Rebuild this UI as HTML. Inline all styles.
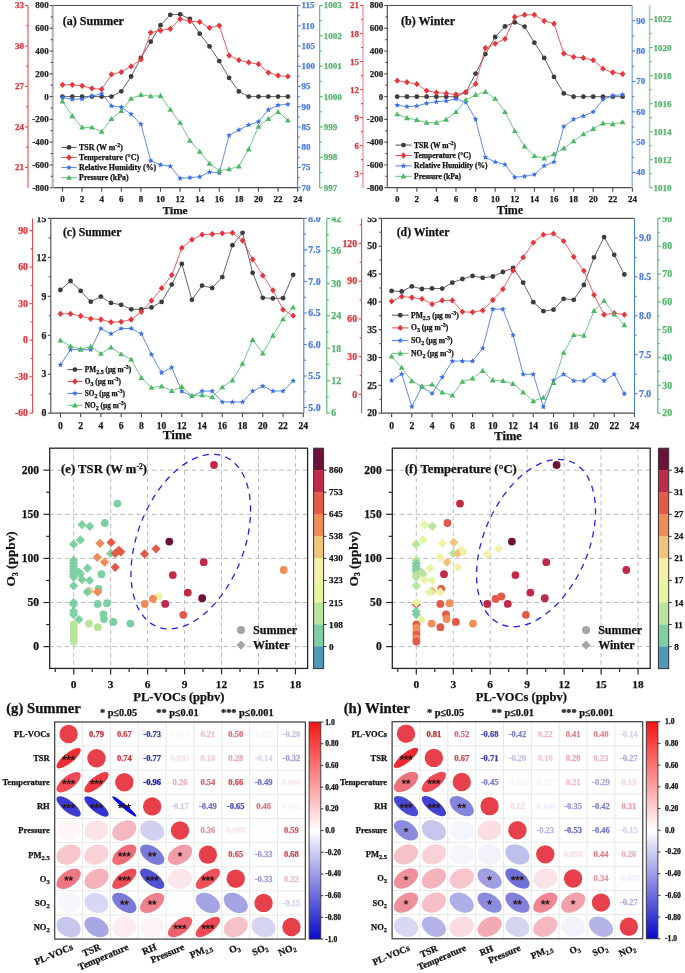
<!DOCTYPE html>
<html><head><meta charset="utf-8"><style>
html,body{margin:0;padding:0;background:#fff;}
svg{display:block;will-change:transform;}
text{font-family:"Liberation Serif",serif;}
</style></head><body>
<svg width="685" height="973" viewBox="0 0 685 973">
<defs><clipPath id="cliptop"><rect x="0" y="217.2" width="685" height="760"/></clipPath></defs>
<rect width="685" height="973" fill="#fff"/>
<polyline points="62.5,96.6 72.3,96.6 82.1,96.6 91.9,96.6 101.7,96.6 111.5,96.6 121.3,91.3 131.1,76.5 140.9,57.9 150.7,41.7 160.5,25.2 170.3,14.8 180.1,14.3 189.9,19 199.7,33.7 209.5,46.4 219.3,61.1 229.1,77.9 238.9,91.4 248.7,96.6 258.5,96.6 268.3,96.6 278.1,96.6 287.9,96.6" fill="none" stroke="#3c3c3c" stroke-width="0.8" stroke-linejoin="round" />
<circle cx="62.5" cy="96.6" r="2.4" fill="#3c3c3c"/>
<circle cx="72.3" cy="96.6" r="2.4" fill="#3c3c3c"/>
<circle cx="82.1" cy="96.6" r="2.4" fill="#3c3c3c"/>
<circle cx="91.9" cy="96.6" r="2.4" fill="#3c3c3c"/>
<circle cx="101.7" cy="96.6" r="2.4" fill="#3c3c3c"/>
<circle cx="111.5" cy="96.6" r="2.4" fill="#3c3c3c"/>
<circle cx="121.3" cy="91.3" r="2.4" fill="#3c3c3c"/>
<circle cx="131.1" cy="76.5" r="2.4" fill="#3c3c3c"/>
<circle cx="140.9" cy="57.9" r="2.4" fill="#3c3c3c"/>
<circle cx="150.7" cy="41.7" r="2.4" fill="#3c3c3c"/>
<circle cx="160.5" cy="25.2" r="2.4" fill="#3c3c3c"/>
<circle cx="170.3" cy="14.8" r="2.4" fill="#3c3c3c"/>
<circle cx="180.1" cy="14.3" r="2.4" fill="#3c3c3c"/>
<circle cx="189.9" cy="19" r="2.4" fill="#3c3c3c"/>
<circle cx="199.7" cy="33.7" r="2.4" fill="#3c3c3c"/>
<circle cx="209.5" cy="46.4" r="2.4" fill="#3c3c3c"/>
<circle cx="219.3" cy="61.1" r="2.4" fill="#3c3c3c"/>
<circle cx="229.1" cy="77.9" r="2.4" fill="#3c3c3c"/>
<circle cx="238.9" cy="91.4" r="2.4" fill="#3c3c3c"/>
<circle cx="248.7" cy="96.6" r="2.4" fill="#3c3c3c"/>
<circle cx="258.5" cy="96.6" r="2.4" fill="#3c3c3c"/>
<circle cx="268.3" cy="96.6" r="2.4" fill="#3c3c3c"/>
<circle cx="278.1" cy="96.6" r="2.4" fill="#3c3c3c"/>
<circle cx="287.9" cy="96.6" r="2.4" fill="#3c3c3c"/>
<polyline points="62.5,84.8 72.3,84.8 82.1,85.8 91.9,88.4 101.7,89.2 111.5,74.4 121.3,72.1 131.1,66.4 140.9,59.4 150.7,32.6 160.5,30.5 170.3,28.8 180.1,19 189.9,21.3 199.7,21.9 209.5,27.8 219.3,25.6 229.1,55.6 238.9,60.1 248.7,62.4 258.5,64.2 268.3,72.6 278.1,75.6 287.9,76.4" fill="none" stroke="#e8353c" stroke-width="0.8" stroke-linejoin="round" />
<path d="M62.5 81.65L65.35 84.8L62.5 87.95L59.65 84.8Z" fill="#e8353c"/>
<path d="M72.3 81.65L75.15 84.8L72.3 87.95L69.45 84.8Z" fill="#e8353c"/>
<path d="M82.1 82.65L84.95 85.8L82.1 88.95L79.25 85.8Z" fill="#e8353c"/>
<path d="M91.9 85.25L94.75 88.4L91.9 91.55L89.05 88.4Z" fill="#e8353c"/>
<path d="M101.7 86.05L104.55 89.2L101.7 92.35L98.85 89.2Z" fill="#e8353c"/>
<path d="M111.5 71.25L114.35 74.4L111.5 77.55L108.65 74.4Z" fill="#e8353c"/>
<path d="M121.3 68.95L124.15 72.1L121.3 75.25L118.45 72.1Z" fill="#e8353c"/>
<path d="M131.1 63.25L133.95 66.4L131.1 69.55L128.25 66.4Z" fill="#e8353c"/>
<path d="M140.9 56.25L143.75 59.4L140.9 62.55L138.05 59.4Z" fill="#e8353c"/>
<path d="M150.7 29.45L153.55 32.6L150.7 35.75L147.85 32.6Z" fill="#e8353c"/>
<path d="M160.5 27.35L163.35 30.5L160.5 33.65L157.65 30.5Z" fill="#e8353c"/>
<path d="M170.3 25.65L173.15 28.8L170.3 31.95L167.45 28.8Z" fill="#e8353c"/>
<path d="M180.1 15.85L182.95 19L180.1 22.15L177.25 19Z" fill="#e8353c"/>
<path d="M189.9 18.15L192.75 21.3L189.9 24.45L187.05 21.3Z" fill="#e8353c"/>
<path d="M199.7 18.75L202.55 21.9L199.7 25.05L196.85 21.9Z" fill="#e8353c"/>
<path d="M209.5 24.65L212.35 27.8L209.5 30.95L206.65 27.8Z" fill="#e8353c"/>
<path d="M219.3 22.45L222.15 25.6L219.3 28.75L216.45 25.6Z" fill="#e8353c"/>
<path d="M229.1 52.45L231.95 55.6L229.1 58.75L226.25 55.6Z" fill="#e8353c"/>
<path d="M238.9 56.95L241.75 60.1L238.9 63.25L236.05 60.1Z" fill="#e8353c"/>
<path d="M248.7 59.25L251.55 62.4L248.7 65.55L245.85 62.4Z" fill="#e8353c"/>
<path d="M258.5 61.05L261.35 64.2L258.5 67.35L255.65 64.2Z" fill="#e8353c"/>
<path d="M268.3 69.45L271.15 72.6L268.3 75.75L265.45 72.6Z" fill="#e8353c"/>
<path d="M278.1 72.45L280.95 75.6L278.1 78.75L275.25 75.6Z" fill="#e8353c"/>
<path d="M287.9 73.25L290.75 76.4L287.9 79.55L285.05 76.4Z" fill="#e8353c"/>
<polyline points="62.5,97.6 72.3,99.5 82.1,99 91.9,96.1 101.7,93.7 111.5,106 121.3,107.1 131.1,114.2 140.9,124.2 150.7,160.7 160.5,164.8 170.3,166.3 180.1,178.3 189.9,177.7 199.7,176.8 209.5,172 219.3,173 229.1,135.4 238.9,129.9 248.7,125 258.5,121.7 268.3,109.8 278.1,105.2 287.9,104.3" fill="none" stroke="#3a6ee6" stroke-width="0.8" stroke-linejoin="round" />
<polygon points="62.5,94.6 63.29,96.51 65.35,96.67 63.78,98.02 64.26,100.03 62.5,98.95 60.74,100.03 61.22,98.02 59.65,96.67 61.71,96.51" fill="#3a6ee6"/>
<polygon points="72.3,96.5 73.09,98.41 75.15,98.57 73.58,99.92 74.06,101.93 72.3,100.85 70.54,101.93 71.02,99.92 69.45,98.57 71.51,98.41" fill="#3a6ee6"/>
<polygon points="82.1,96 82.89,97.91 84.95,98.07 83.38,99.42 83.86,101.43 82.1,100.35 80.34,101.43 80.82,99.42 79.25,98.07 81.31,97.91" fill="#3a6ee6"/>
<polygon points="91.9,93.1 92.69,95.01 94.75,95.17 93.18,96.52 93.66,98.53 91.9,97.45 90.14,98.53 90.62,96.52 89.05,95.17 91.11,95.01" fill="#3a6ee6"/>
<polygon points="101.7,90.7 102.49,92.61 104.55,92.77 102.98,94.12 103.46,96.13 101.7,95.05 99.94,96.13 100.42,94.12 98.85,92.77 100.91,92.61" fill="#3a6ee6"/>
<polygon points="111.5,103 112.29,104.91 114.35,105.07 112.78,106.42 113.26,108.43 111.5,107.35 109.74,108.43 110.22,106.42 108.65,105.07 110.71,104.91" fill="#3a6ee6"/>
<polygon points="121.3,104.1 122.09,106.01 124.15,106.17 122.58,107.52 123.06,109.53 121.3,108.45 119.54,109.53 120.02,107.52 118.45,106.17 120.51,106.01" fill="#3a6ee6"/>
<polygon points="131.1,111.2 131.89,113.11 133.95,113.27 132.38,114.62 132.86,116.63 131.1,115.55 129.34,116.63 129.82,114.62 128.25,113.27 130.31,113.11" fill="#3a6ee6"/>
<polygon points="140.9,121.2 141.69,123.11 143.75,123.27 142.18,124.62 142.66,126.63 140.9,125.55 139.14,126.63 139.62,124.62 138.05,123.27 140.11,123.11" fill="#3a6ee6"/>
<polygon points="150.7,157.7 151.49,159.61 153.55,159.77 151.98,161.12 152.46,163.13 150.7,162.05 148.94,163.13 149.42,161.12 147.85,159.77 149.91,159.61" fill="#3a6ee6"/>
<polygon points="160.5,161.8 161.29,163.71 163.35,163.87 161.78,165.22 162.26,167.23 160.5,166.15 158.74,167.23 159.22,165.22 157.65,163.87 159.71,163.71" fill="#3a6ee6"/>
<polygon points="170.3,163.3 171.09,165.21 173.15,165.37 171.58,166.72 172.06,168.73 170.3,167.65 168.54,168.73 169.02,166.72 167.45,165.37 169.51,165.21" fill="#3a6ee6"/>
<polygon points="180.1,175.3 180.89,177.21 182.95,177.37 181.38,178.72 181.86,180.73 180.1,179.65 178.34,180.73 178.82,178.72 177.25,177.37 179.31,177.21" fill="#3a6ee6"/>
<polygon points="189.9,174.7 190.69,176.61 192.75,176.77 191.18,178.12 191.66,180.13 189.9,179.05 188.14,180.13 188.62,178.12 187.05,176.77 189.11,176.61" fill="#3a6ee6"/>
<polygon points="199.7,173.8 200.49,175.71 202.55,175.87 200.98,177.22 201.46,179.23 199.7,178.15 197.94,179.23 198.42,177.22 196.85,175.87 198.91,175.71" fill="#3a6ee6"/>
<polygon points="209.5,169 210.29,170.91 212.35,171.07 210.78,172.42 211.26,174.43 209.5,173.35 207.74,174.43 208.22,172.42 206.65,171.07 208.71,170.91" fill="#3a6ee6"/>
<polygon points="219.3,170 220.09,171.91 222.15,172.07 220.58,173.42 221.06,175.43 219.3,174.35 217.54,175.43 218.02,173.42 216.45,172.07 218.51,171.91" fill="#3a6ee6"/>
<polygon points="229.1,132.4 229.89,134.31 231.95,134.47 230.38,135.82 230.86,137.83 229.1,136.75 227.34,137.83 227.82,135.82 226.25,134.47 228.31,134.31" fill="#3a6ee6"/>
<polygon points="238.9,126.9 239.69,128.81 241.75,128.97 240.18,130.32 240.66,132.33 238.9,131.25 237.14,132.33 237.62,130.32 236.05,128.97 238.11,128.81" fill="#3a6ee6"/>
<polygon points="248.7,122 249.49,123.91 251.55,124.07 249.98,125.42 250.46,127.43 248.7,126.35 246.94,127.43 247.42,125.42 245.85,124.07 247.91,123.91" fill="#3a6ee6"/>
<polygon points="258.5,118.7 259.29,120.61 261.35,120.77 259.78,122.12 260.26,124.13 258.5,123.05 256.74,124.13 257.22,122.12 255.65,120.77 257.71,120.61" fill="#3a6ee6"/>
<polygon points="268.3,106.8 269.09,108.71 271.15,108.87 269.58,110.22 270.06,112.23 268.3,111.15 266.54,112.23 267.02,110.22 265.45,108.87 267.51,108.71" fill="#3a6ee6"/>
<polygon points="278.1,102.2 278.89,104.11 280.95,104.27 279.38,105.62 279.86,107.63 278.1,106.55 276.34,107.63 276.82,105.62 275.25,104.27 277.31,104.11" fill="#3a6ee6"/>
<polygon points="287.9,101.3 288.69,103.21 290.75,103.37 289.18,104.72 289.66,106.73 287.9,105.65 286.14,106.73 286.62,104.72 285.05,103.37 287.11,103.21" fill="#3a6ee6"/>
<polyline points="62.5,101.4 72.3,116 82.1,127.4 91.9,127.4 101.7,131.6 111.5,118.9 121.3,110.9 131.1,98.6 140.9,94.8 150.7,96.1 160.5,95.8 170.3,109.6 180.1,122.7 189.9,140.7 199.7,151.7 209.5,163.5 219.3,170.7 229.1,169.2 238.9,166.3 248.7,149.3 258.5,126.5 268.3,118.9 278.1,111.9 287.9,120.4" fill="none" stroke="#4cb865" stroke-width="0.8" stroke-linejoin="round" />
<path d="M62.5 98.44L65.4 103.54L59.6 103.54Z" fill="#4cb865"/>
<path d="M72.3 113.04L75.2 118.14L69.4 118.14Z" fill="#4cb865"/>
<path d="M82.1 124.44L85 129.54L79.2 129.54Z" fill="#4cb865"/>
<path d="M91.9 124.44L94.8 129.54L89 129.54Z" fill="#4cb865"/>
<path d="M101.7 128.64L104.6 133.74L98.8 133.74Z" fill="#4cb865"/>
<path d="M111.5 115.94L114.4 121.04L108.6 121.04Z" fill="#4cb865"/>
<path d="M121.3 107.94L124.2 113.04L118.4 113.04Z" fill="#4cb865"/>
<path d="M131.1 95.64L134 100.74L128.2 100.74Z" fill="#4cb865"/>
<path d="M140.9 91.84L143.8 96.94L138 96.94Z" fill="#4cb865"/>
<path d="M150.7 93.14L153.6 98.24L147.8 98.24Z" fill="#4cb865"/>
<path d="M160.5 92.84L163.4 97.94L157.6 97.94Z" fill="#4cb865"/>
<path d="M170.3 106.64L173.2 111.74L167.4 111.74Z" fill="#4cb865"/>
<path d="M180.1 119.74L183 124.84L177.2 124.84Z" fill="#4cb865"/>
<path d="M189.9 137.74L192.8 142.84L187 142.84Z" fill="#4cb865"/>
<path d="M199.7 148.74L202.6 153.84L196.8 153.84Z" fill="#4cb865"/>
<path d="M209.5 160.54L212.4 165.64L206.6 165.64Z" fill="#4cb865"/>
<path d="M219.3 167.74L222.2 172.84L216.4 172.84Z" fill="#4cb865"/>
<path d="M229.1 166.24L232 171.34L226.2 171.34Z" fill="#4cb865"/>
<path d="M238.9 163.34L241.8 168.44L236 168.44Z" fill="#4cb865"/>
<path d="M248.7 146.34L251.6 151.44L245.8 151.44Z" fill="#4cb865"/>
<path d="M258.5 123.54L261.4 128.64L255.6 128.64Z" fill="#4cb865"/>
<path d="M268.3 115.94L271.2 121.04L265.4 121.04Z" fill="#4cb865"/>
<path d="M278.1 108.94L281 114.04L275.2 114.04Z" fill="#4cb865"/>
<path d="M287.9 117.44L290.8 122.54L285 122.54Z" fill="#4cb865"/>
<line x1="52.7" y1="5.5" x2="297.6" y2="5.5" stroke="#4a4a4a" stroke-width="1.2" />
<line x1="52.7" y1="187.7" x2="297.6" y2="187.7" stroke="#4a4a4a" stroke-width="1.2" />
<line x1="62.5" y1="187.7" x2="62.5" y2="191.7" stroke="#4a4a4a" stroke-width="1.1" />
<text x="62.5" y="202.17" font-size="9" fill="#1a1a1a" stroke="#1a1a1a" stroke-width="0.25" text-anchor="middle" font-weight="bold" >0</text>
<line x1="82.1" y1="187.7" x2="82.1" y2="191.7" stroke="#4a4a4a" stroke-width="1.1" />
<text x="82.1" y="202.17" font-size="9" fill="#1a1a1a" stroke="#1a1a1a" stroke-width="0.25" text-anchor="middle" font-weight="bold" >2</text>
<line x1="101.7" y1="187.7" x2="101.7" y2="191.7" stroke="#4a4a4a" stroke-width="1.1" />
<text x="101.7" y="202.17" font-size="9" fill="#1a1a1a" stroke="#1a1a1a" stroke-width="0.25" text-anchor="middle" font-weight="bold" >4</text>
<line x1="121.3" y1="187.7" x2="121.3" y2="191.7" stroke="#4a4a4a" stroke-width="1.1" />
<text x="121.3" y="202.17" font-size="9" fill="#1a1a1a" stroke="#1a1a1a" stroke-width="0.25" text-anchor="middle" font-weight="bold" >6</text>
<line x1="140.9" y1="187.7" x2="140.9" y2="191.7" stroke="#4a4a4a" stroke-width="1.1" />
<text x="140.9" y="202.17" font-size="9" fill="#1a1a1a" stroke="#1a1a1a" stroke-width="0.25" text-anchor="middle" font-weight="bold" >8</text>
<line x1="160.5" y1="187.7" x2="160.5" y2="191.7" stroke="#4a4a4a" stroke-width="1.1" />
<text x="160.5" y="202.17" font-size="9" fill="#1a1a1a" stroke="#1a1a1a" stroke-width="0.25" text-anchor="middle" font-weight="bold" >10</text>
<line x1="180.1" y1="187.7" x2="180.1" y2="191.7" stroke="#4a4a4a" stroke-width="1.1" />
<text x="180.1" y="202.17" font-size="9" fill="#1a1a1a" stroke="#1a1a1a" stroke-width="0.25" text-anchor="middle" font-weight="bold" >12</text>
<line x1="199.7" y1="187.7" x2="199.7" y2="191.7" stroke="#4a4a4a" stroke-width="1.1" />
<text x="199.7" y="202.17" font-size="9" fill="#1a1a1a" stroke="#1a1a1a" stroke-width="0.25" text-anchor="middle" font-weight="bold" >14</text>
<line x1="219.3" y1="187.7" x2="219.3" y2="191.7" stroke="#4a4a4a" stroke-width="1.1" />
<text x="219.3" y="202.17" font-size="9" fill="#1a1a1a" stroke="#1a1a1a" stroke-width="0.25" text-anchor="middle" font-weight="bold" >16</text>
<line x1="238.9" y1="187.7" x2="238.9" y2="191.7" stroke="#4a4a4a" stroke-width="1.1" />
<text x="238.9" y="202.17" font-size="9" fill="#1a1a1a" stroke="#1a1a1a" stroke-width="0.25" text-anchor="middle" font-weight="bold" >18</text>
<line x1="258.5" y1="187.7" x2="258.5" y2="191.7" stroke="#4a4a4a" stroke-width="1.1" />
<text x="258.5" y="202.17" font-size="9" fill="#1a1a1a" stroke="#1a1a1a" stroke-width="0.25" text-anchor="middle" font-weight="bold" >20</text>
<line x1="278.1" y1="187.7" x2="278.1" y2="191.7" stroke="#4a4a4a" stroke-width="1.1" />
<text x="278.1" y="202.17" font-size="9" fill="#1a1a1a" stroke="#1a1a1a" stroke-width="0.25" text-anchor="middle" font-weight="bold" >22</text>
<line x1="297.7" y1="187.7" x2="297.7" y2="191.7" stroke="#4a4a4a" stroke-width="1.1" />
<text x="297.7" y="202.17" font-size="9" fill="#1a1a1a" stroke="#1a1a1a" stroke-width="0.25" text-anchor="middle" font-weight="bold" >24</text>
<text x="175.2" y="214.23" font-size="11.3" fill="#111" stroke="#111" stroke-width="0.25" text-anchor="middle" font-weight="bold" >Time</text>
<text x="62.8" y="24.96" font-size="12" fill="#111" stroke="#111" stroke-width="0.25" text-anchor="start" font-weight="bold" >(a) Summer</text>
<line x1="52.7" y1="5.5" x2="52.7" y2="187.7" stroke="#b2b2b2" stroke-width="2.1" />
<line x1="52.7" y1="5.5" x2="49.7" y2="5.5" stroke="#4a4a4a" stroke-width="1.1" />
<text x="48.7" y="8.47" font-size="9" fill="#222" stroke="#222" stroke-width="0.25" text-anchor="end" font-weight="bold" >800</text>
<line x1="52.7" y1="28.27" x2="49.7" y2="28.27" stroke="#4a4a4a" stroke-width="1.1" />
<text x="48.7" y="31.24" font-size="9" fill="#222" stroke="#222" stroke-width="0.25" text-anchor="end" font-weight="bold" >600</text>
<line x1="52.7" y1="51.05" x2="49.7" y2="51.05" stroke="#4a4a4a" stroke-width="1.1" />
<text x="48.7" y="54.02" font-size="9" fill="#222" stroke="#222" stroke-width="0.25" text-anchor="end" font-weight="bold" >400</text>
<line x1="52.7" y1="73.83" x2="49.7" y2="73.83" stroke="#4a4a4a" stroke-width="1.1" />
<text x="48.7" y="76.8" font-size="9" fill="#222" stroke="#222" stroke-width="0.25" text-anchor="end" font-weight="bold" >200</text>
<line x1="52.7" y1="96.6" x2="49.7" y2="96.6" stroke="#4a4a4a" stroke-width="1.1" />
<text x="48.7" y="99.57" font-size="9" fill="#222" stroke="#222" stroke-width="0.25" text-anchor="end" font-weight="bold" >0</text>
<line x1="52.7" y1="119.38" x2="49.7" y2="119.38" stroke="#4a4a4a" stroke-width="1.1" />
<text x="48.7" y="122.34" font-size="9" fill="#222" stroke="#222" stroke-width="0.25" text-anchor="end" font-weight="bold" >-200</text>
<line x1="52.7" y1="142.15" x2="49.7" y2="142.15" stroke="#4a4a4a" stroke-width="1.1" />
<text x="48.7" y="145.12" font-size="9" fill="#222" stroke="#222" stroke-width="0.25" text-anchor="end" font-weight="bold" >-400</text>
<line x1="52.7" y1="164.92" x2="49.7" y2="164.92" stroke="#4a4a4a" stroke-width="1.1" />
<text x="48.7" y="167.89" font-size="9" fill="#222" stroke="#222" stroke-width="0.25" text-anchor="end" font-weight="bold" >-600</text>
<line x1="52.7" y1="187.7" x2="49.7" y2="187.7" stroke="#4a4a4a" stroke-width="1.1" />
<text x="48.7" y="190.67" font-size="9" fill="#222" stroke="#222" stroke-width="0.25" text-anchor="end" font-weight="bold" >-800</text>
<line x1="52.7" y1="16.89" x2="50.7" y2="16.89" stroke="#4a4a4a" stroke-width="1.1" />
<line x1="52.7" y1="39.66" x2="50.7" y2="39.66" stroke="#4a4a4a" stroke-width="1.1" />
<line x1="52.7" y1="62.44" x2="50.7" y2="62.44" stroke="#4a4a4a" stroke-width="1.1" />
<line x1="52.7" y1="85.21" x2="50.7" y2="85.21" stroke="#4a4a4a" stroke-width="1.1" />
<line x1="52.7" y1="107.99" x2="50.7" y2="107.99" stroke="#4a4a4a" stroke-width="1.1" />
<line x1="52.7" y1="130.76" x2="50.7" y2="130.76" stroke="#4a4a4a" stroke-width="1.1" />
<line x1="52.7" y1="153.54" x2="50.7" y2="153.54" stroke="#4a4a4a" stroke-width="1.1" />
<line x1="52.7" y1="176.31" x2="50.7" y2="176.31" stroke="#4a4a4a" stroke-width="1.1" />
<line x1="28" y1="5.5" x2="28" y2="187.7" stroke="#e5484d" stroke-width="1.1" />
<line x1="28" y1="5.5" x2="25" y2="5.5" stroke="#e5484d" stroke-width="1.1" />
<text x="24" y="8.47" font-size="9" fill="#e0323a" stroke="#e0323a" stroke-width="0.25" text-anchor="end" font-weight="bold" >33</text>
<line x1="28" y1="45.99" x2="25" y2="45.99" stroke="#e5484d" stroke-width="1.1" />
<text x="24" y="48.96" font-size="9" fill="#e0323a" stroke="#e0323a" stroke-width="0.25" text-anchor="end" font-weight="bold" >30</text>
<line x1="28" y1="86.48" x2="25" y2="86.48" stroke="#e5484d" stroke-width="1.1" />
<text x="24" y="89.45" font-size="9" fill="#e0323a" stroke="#e0323a" stroke-width="0.25" text-anchor="end" font-weight="bold" >27</text>
<line x1="28" y1="126.97" x2="25" y2="126.97" stroke="#e5484d" stroke-width="1.1" />
<text x="24" y="129.94" font-size="9" fill="#e0323a" stroke="#e0323a" stroke-width="0.25" text-anchor="end" font-weight="bold" >24</text>
<line x1="28" y1="167.46" x2="25" y2="167.46" stroke="#e5484d" stroke-width="1.1" />
<text x="24" y="170.43" font-size="9" fill="#e0323a" stroke="#e0323a" stroke-width="0.25" text-anchor="end" font-weight="bold" >21</text>
<line x1="28" y1="25.74" x2="26" y2="25.74" stroke="#e5484d" stroke-width="1.1" />
<line x1="28" y1="66.23" x2="26" y2="66.23" stroke="#e5484d" stroke-width="1.1" />
<line x1="28" y1="106.72" x2="26" y2="106.72" stroke="#e5484d" stroke-width="1.1" />
<line x1="28" y1="147.21" x2="26" y2="147.21" stroke="#e5484d" stroke-width="1.1" />
<line x1="297.6" y1="5.5" x2="297.6" y2="187.7" stroke="#4a7be0" stroke-width="1.1" />
<line x1="297.6" y1="5.5" x2="300.6" y2="5.5" stroke="#4a7be0" stroke-width="1.1" />
<text x="301.6" y="8.47" font-size="9" fill="#4a7be0" stroke="#4a7be0" stroke-width="0.25" text-anchor="start" font-weight="bold" >115</text>
<line x1="297.6" y1="25.74" x2="300.6" y2="25.74" stroke="#4a7be0" stroke-width="1.1" />
<text x="301.6" y="28.71" font-size="9" fill="#4a7be0" stroke="#4a7be0" stroke-width="0.25" text-anchor="start" font-weight="bold" >110</text>
<line x1="297.6" y1="45.99" x2="300.6" y2="45.99" stroke="#4a7be0" stroke-width="1.1" />
<text x="301.6" y="48.96" font-size="9" fill="#4a7be0" stroke="#4a7be0" stroke-width="0.25" text-anchor="start" font-weight="bold" >105</text>
<line x1="297.6" y1="66.23" x2="300.6" y2="66.23" stroke="#4a7be0" stroke-width="1.1" />
<text x="301.6" y="69.2" font-size="9" fill="#4a7be0" stroke="#4a7be0" stroke-width="0.25" text-anchor="start" font-weight="bold" >100</text>
<line x1="297.6" y1="86.48" x2="300.6" y2="86.48" stroke="#4a7be0" stroke-width="1.1" />
<text x="301.6" y="89.45" font-size="9" fill="#4a7be0" stroke="#4a7be0" stroke-width="0.25" text-anchor="start" font-weight="bold" >95</text>
<line x1="297.6" y1="106.72" x2="300.6" y2="106.72" stroke="#4a7be0" stroke-width="1.1" />
<text x="301.6" y="109.69" font-size="9" fill="#4a7be0" stroke="#4a7be0" stroke-width="0.25" text-anchor="start" font-weight="bold" >90</text>
<line x1="297.6" y1="126.97" x2="300.6" y2="126.97" stroke="#4a7be0" stroke-width="1.1" />
<text x="301.6" y="129.94" font-size="9" fill="#4a7be0" stroke="#4a7be0" stroke-width="0.25" text-anchor="start" font-weight="bold" >85</text>
<line x1="297.6" y1="147.21" x2="300.6" y2="147.21" stroke="#4a7be0" stroke-width="1.1" />
<text x="301.6" y="150.18" font-size="9" fill="#4a7be0" stroke="#4a7be0" stroke-width="0.25" text-anchor="start" font-weight="bold" >80</text>
<line x1="297.6" y1="167.46" x2="300.6" y2="167.46" stroke="#4a7be0" stroke-width="1.1" />
<text x="301.6" y="170.43" font-size="9" fill="#4a7be0" stroke="#4a7be0" stroke-width="0.25" text-anchor="start" font-weight="bold" >75</text>
<line x1="297.6" y1="187.7" x2="300.6" y2="187.7" stroke="#4a7be0" stroke-width="1.1" />
<text x="301.6" y="190.67" font-size="9" fill="#4a7be0" stroke="#4a7be0" stroke-width="0.25" text-anchor="start" font-weight="bold" >70</text>
<line x1="297.6" y1="15.62" x2="299.6" y2="15.62" stroke="#4a7be0" stroke-width="1.1" />
<line x1="297.6" y1="35.87" x2="299.6" y2="35.87" stroke="#4a7be0" stroke-width="1.1" />
<line x1="297.6" y1="56.11" x2="299.6" y2="56.11" stroke="#4a7be0" stroke-width="1.1" />
<line x1="297.6" y1="76.36" x2="299.6" y2="76.36" stroke="#4a7be0" stroke-width="1.1" />
<line x1="297.6" y1="96.6" x2="299.6" y2="96.6" stroke="#4a7be0" stroke-width="1.1" />
<line x1="297.6" y1="116.84" x2="299.6" y2="116.84" stroke="#4a7be0" stroke-width="1.1" />
<line x1="297.6" y1="137.09" x2="299.6" y2="137.09" stroke="#4a7be0" stroke-width="1.1" />
<line x1="297.6" y1="157.33" x2="299.6" y2="157.33" stroke="#4a7be0" stroke-width="1.1" />
<line x1="297.6" y1="177.58" x2="299.6" y2="177.58" stroke="#4a7be0" stroke-width="1.1" />
<line x1="319.7" y1="5.5" x2="319.7" y2="187.7" stroke="#52b46c" stroke-width="1.1" />
<line x1="319.7" y1="5.5" x2="322.7" y2="5.5" stroke="#52b46c" stroke-width="1.1" />
<text x="323.7" y="8.47" font-size="9" fill="#52b46c" stroke="#52b46c" stroke-width="0.25" text-anchor="start" font-weight="bold" >1003</text>
<line x1="319.7" y1="35.87" x2="322.7" y2="35.87" stroke="#52b46c" stroke-width="1.1" />
<text x="323.7" y="38.84" font-size="9" fill="#52b46c" stroke="#52b46c" stroke-width="0.25" text-anchor="start" font-weight="bold" >1002</text>
<line x1="319.7" y1="66.23" x2="322.7" y2="66.23" stroke="#52b46c" stroke-width="1.1" />
<text x="323.7" y="69.2" font-size="9" fill="#52b46c" stroke="#52b46c" stroke-width="0.25" text-anchor="start" font-weight="bold" >1001</text>
<line x1="319.7" y1="96.6" x2="322.7" y2="96.6" stroke="#52b46c" stroke-width="1.1" />
<text x="323.7" y="99.57" font-size="9" fill="#52b46c" stroke="#52b46c" stroke-width="0.25" text-anchor="start" font-weight="bold" >1000</text>
<line x1="319.7" y1="126.97" x2="322.7" y2="126.97" stroke="#52b46c" stroke-width="1.1" />
<text x="323.7" y="129.94" font-size="9" fill="#52b46c" stroke="#52b46c" stroke-width="0.25" text-anchor="start" font-weight="bold" >999</text>
<line x1="319.7" y1="157.33" x2="322.7" y2="157.33" stroke="#52b46c" stroke-width="1.1" />
<text x="323.7" y="160.3" font-size="9" fill="#52b46c" stroke="#52b46c" stroke-width="0.25" text-anchor="start" font-weight="bold" >998</text>
<line x1="319.7" y1="187.7" x2="322.7" y2="187.7" stroke="#52b46c" stroke-width="1.1" />
<text x="323.7" y="190.67" font-size="9" fill="#52b46c" stroke="#52b46c" stroke-width="0.25" text-anchor="start" font-weight="bold" >997</text>
<line x1="319.7" y1="20.68" x2="321.7" y2="20.68" stroke="#52b46c" stroke-width="1.1" />
<line x1="319.7" y1="51.05" x2="321.7" y2="51.05" stroke="#52b46c" stroke-width="1.1" />
<line x1="319.7" y1="81.42" x2="321.7" y2="81.42" stroke="#52b46c" stroke-width="1.1" />
<line x1="319.7" y1="111.78" x2="321.7" y2="111.78" stroke="#52b46c" stroke-width="1.1" />
<line x1="319.7" y1="142.15" x2="321.7" y2="142.15" stroke="#52b46c" stroke-width="1.1" />
<line x1="319.7" y1="172.52" x2="321.7" y2="172.52" stroke="#52b46c" stroke-width="1.1" />
<line x1="61.4" y1="147.4" x2="76.6" y2="147.4" stroke="#3c3c3c" stroke-width="0.9" />
<circle cx="69" cy="147.4" r="2.4" fill="#3c3c3c"/>
<text x="79.1" y="150.01" font-size="7.9" fill="#111" stroke="#111" stroke-width="0.25" text-anchor="start" font-weight="bold" >TSR (W m<tspan dy="-3" font-size="6">-2</tspan><tspan dy="3">)</tspan></text>
<line x1="61.4" y1="157.5" x2="76.6" y2="157.5" stroke="#e8353c" stroke-width="0.9" />
<path d="M69 154.35L71.85 157.5L69 160.65L66.15 157.5Z" fill="#e8353c"/>
<text x="79.1" y="160.11" font-size="7.9" fill="#111" stroke="#111" stroke-width="0.25" text-anchor="start" font-weight="bold" >Temperature (°C)</text>
<line x1="61.4" y1="167.6" x2="76.6" y2="167.6" stroke="#3a6ee6" stroke-width="0.9" />
<polygon points="69,164.6 69.79,166.51 71.85,166.67 70.28,168.02 70.76,170.03 69,168.95 67.24,170.03 67.72,168.02 66.15,166.67 68.21,166.51" fill="#3a6ee6"/>
<text x="79.1" y="170.21" font-size="7.9" fill="#111" stroke="#111" stroke-width="0.25" text-anchor="start" font-weight="bold" >Relative Humidity (%)</text>
<line x1="61.4" y1="177.7" x2="76.6" y2="177.7" stroke="#4cb865" stroke-width="0.9" />
<path d="M69 174.74L71.9 179.84L66.1 179.84Z" fill="#4cb865"/>
<text x="79.1" y="180.31" font-size="7.9" fill="#111" stroke="#111" stroke-width="0.25" text-anchor="start" font-weight="bold" >Pressure (kPa)</text>
<polyline points="397.2,96.7 407,96.7 416.8,96.7 426.6,96.7 436.4,96.7 446.2,96.7 456,96.7 465.8,92.4 475.6,73.6 485.4,54.1 495.2,37 505,26.4 514.8,22.3 524.6,26.6 534.4,42.7 544.2,57.9 554,76.9 563.8,93.4 573.6,96.7 583.4,96.7 593.2,96.7 603,96.7 612.8,96.7 622.6,96.7" fill="none" stroke="#3c3c3c" stroke-width="0.8" stroke-linejoin="round" />
<circle cx="397.2" cy="96.7" r="2.4" fill="#3c3c3c"/>
<circle cx="407" cy="96.7" r="2.4" fill="#3c3c3c"/>
<circle cx="416.8" cy="96.7" r="2.4" fill="#3c3c3c"/>
<circle cx="426.6" cy="96.7" r="2.4" fill="#3c3c3c"/>
<circle cx="436.4" cy="96.7" r="2.4" fill="#3c3c3c"/>
<circle cx="446.2" cy="96.7" r="2.4" fill="#3c3c3c"/>
<circle cx="456" cy="96.7" r="2.4" fill="#3c3c3c"/>
<circle cx="465.8" cy="92.4" r="2.4" fill="#3c3c3c"/>
<circle cx="475.6" cy="73.6" r="2.4" fill="#3c3c3c"/>
<circle cx="485.4" cy="54.1" r="2.4" fill="#3c3c3c"/>
<circle cx="495.2" cy="37" r="2.4" fill="#3c3c3c"/>
<circle cx="505" cy="26.4" r="2.4" fill="#3c3c3c"/>
<circle cx="514.8" cy="22.3" r="2.4" fill="#3c3c3c"/>
<circle cx="524.6" cy="26.6" r="2.4" fill="#3c3c3c"/>
<circle cx="534.4" cy="42.7" r="2.4" fill="#3c3c3c"/>
<circle cx="544.2" cy="57.9" r="2.4" fill="#3c3c3c"/>
<circle cx="554" cy="76.9" r="2.4" fill="#3c3c3c"/>
<circle cx="563.8" cy="93.4" r="2.4" fill="#3c3c3c"/>
<circle cx="573.6" cy="96.7" r="2.4" fill="#3c3c3c"/>
<circle cx="583.4" cy="96.7" r="2.4" fill="#3c3c3c"/>
<circle cx="593.2" cy="96.7" r="2.4" fill="#3c3c3c"/>
<circle cx="603" cy="96.7" r="2.4" fill="#3c3c3c"/>
<circle cx="612.8" cy="96.7" r="2.4" fill="#3c3c3c"/>
<circle cx="622.6" cy="96.7" r="2.4" fill="#3c3c3c"/>
<polyline points="397.2,80.7 407,82.2 416.8,84.1 426.6,90.7 436.4,92.6 446.2,93.4 456,94.5 465.8,92 475.6,83.9 485.4,48 495.2,43.6 505,38.9 514.8,17 524.6,14.8 534.4,14.8 544.2,20.9 554,23.7 563.8,53.5 573.6,56.9 583.4,57.9 593.2,60.2 603,68.7 612.8,72.5 622.6,74" fill="none" stroke="#e8353c" stroke-width="0.8" stroke-linejoin="round" />
<path d="M397.2 77.55L400.05 80.7L397.2 83.85L394.35 80.7Z" fill="#e8353c"/>
<path d="M407 79.05L409.85 82.2L407 85.35L404.15 82.2Z" fill="#e8353c"/>
<path d="M416.8 80.95L419.65 84.1L416.8 87.25L413.95 84.1Z" fill="#e8353c"/>
<path d="M426.6 87.55L429.45 90.7L426.6 93.85L423.75 90.7Z" fill="#e8353c"/>
<path d="M436.4 89.45L439.25 92.6L436.4 95.75L433.55 92.6Z" fill="#e8353c"/>
<path d="M446.2 90.25L449.05 93.4L446.2 96.55L443.35 93.4Z" fill="#e8353c"/>
<path d="M456 91.35L458.85 94.5L456 97.65L453.15 94.5Z" fill="#e8353c"/>
<path d="M465.8 88.85L468.65 92L465.8 95.15L462.95 92Z" fill="#e8353c"/>
<path d="M475.6 80.75L478.45 83.9L475.6 87.05L472.75 83.9Z" fill="#e8353c"/>
<path d="M485.4 44.85L488.25 48L485.4 51.15L482.55 48Z" fill="#e8353c"/>
<path d="M495.2 40.45L498.05 43.6L495.2 46.75L492.35 43.6Z" fill="#e8353c"/>
<path d="M505 35.75L507.85 38.9L505 42.05L502.15 38.9Z" fill="#e8353c"/>
<path d="M514.8 13.85L517.65 17L514.8 20.15L511.95 17Z" fill="#e8353c"/>
<path d="M524.6 11.65L527.45 14.8L524.6 17.95L521.75 14.8Z" fill="#e8353c"/>
<path d="M534.4 11.65L537.25 14.8L534.4 17.95L531.55 14.8Z" fill="#e8353c"/>
<path d="M544.2 17.75L547.05 20.9L544.2 24.05L541.35 20.9Z" fill="#e8353c"/>
<path d="M554 20.55L556.85 23.7L554 26.85L551.15 23.7Z" fill="#e8353c"/>
<path d="M563.8 50.35L566.65 53.5L563.8 56.65L560.95 53.5Z" fill="#e8353c"/>
<path d="M573.6 53.75L576.45 56.9L573.6 60.05L570.75 56.9Z" fill="#e8353c"/>
<path d="M583.4 54.75L586.25 57.9L583.4 61.05L580.55 57.9Z" fill="#e8353c"/>
<path d="M593.2 57.05L596.05 60.2L593.2 63.35L590.35 60.2Z" fill="#e8353c"/>
<path d="M603 65.55L605.85 68.7L603 71.85L600.15 68.7Z" fill="#e8353c"/>
<path d="M612.8 69.35L615.65 72.5L612.8 75.65L609.95 72.5Z" fill="#e8353c"/>
<path d="M622.6 70.85L625.45 74L622.6 77.15L619.75 74Z" fill="#e8353c"/>
<polyline points="397.2,105.2 407,106.6 416.8,106 426.6,103.3 436.4,101.8 446.2,100.9 456,99 465.8,102.2 475.6,119.3 485.4,157.4 495.2,162 505,164.6 514.8,177.3 524.6,176.4 534.4,174.5 544.2,165.8 554,162 563.8,126.5 573.6,119.3 583.4,116.1 593.2,111.9 603,99.5 612.8,95.7 622.6,94.6" fill="none" stroke="#3a6ee6" stroke-width="0.8" stroke-linejoin="round" />
<polygon points="397.2,102.2 397.99,104.11 400.05,104.27 398.48,105.62 398.96,107.63 397.2,106.55 395.44,107.63 395.92,105.62 394.35,104.27 396.41,104.11" fill="#3a6ee6"/>
<polygon points="407,103.6 407.79,105.51 409.85,105.67 408.28,107.02 408.76,109.03 407,107.95 405.24,109.03 405.72,107.02 404.15,105.67 406.21,105.51" fill="#3a6ee6"/>
<polygon points="416.8,103 417.59,104.91 419.65,105.07 418.08,106.42 418.56,108.43 416.8,107.35 415.04,108.43 415.52,106.42 413.95,105.07 416.01,104.91" fill="#3a6ee6"/>
<polygon points="426.6,100.3 427.39,102.21 429.45,102.37 427.88,103.72 428.36,105.73 426.6,104.65 424.84,105.73 425.32,103.72 423.75,102.37 425.81,102.21" fill="#3a6ee6"/>
<polygon points="436.4,98.8 437.19,100.71 439.25,100.87 437.68,102.22 438.16,104.23 436.4,103.15 434.64,104.23 435.12,102.22 433.55,100.87 435.61,100.71" fill="#3a6ee6"/>
<polygon points="446.2,97.9 446.99,99.81 449.05,99.97 447.48,101.32 447.96,103.33 446.2,102.25 444.44,103.33 444.92,101.32 443.35,99.97 445.41,99.81" fill="#3a6ee6"/>
<polygon points="456,96 456.79,97.91 458.85,98.07 457.28,99.42 457.76,101.43 456,100.35 454.24,101.43 454.72,99.42 453.15,98.07 455.21,97.91" fill="#3a6ee6"/>
<polygon points="465.8,99.2 466.59,101.11 468.65,101.27 467.08,102.62 467.56,104.63 465.8,103.55 464.04,104.63 464.52,102.62 462.95,101.27 465.01,101.11" fill="#3a6ee6"/>
<polygon points="475.6,116.3 476.39,118.21 478.45,118.37 476.88,119.72 477.36,121.73 475.6,120.65 473.84,121.73 474.32,119.72 472.75,118.37 474.81,118.21" fill="#3a6ee6"/>
<polygon points="485.4,154.4 486.19,156.31 488.25,156.47 486.68,157.82 487.16,159.83 485.4,158.75 483.64,159.83 484.12,157.82 482.55,156.47 484.61,156.31" fill="#3a6ee6"/>
<polygon points="495.2,159 495.99,160.91 498.05,161.07 496.48,162.42 496.96,164.43 495.2,163.35 493.44,164.43 493.92,162.42 492.35,161.07 494.41,160.91" fill="#3a6ee6"/>
<polygon points="505,161.6 505.79,163.51 507.85,163.67 506.28,165.02 506.76,167.03 505,165.95 503.24,167.03 503.72,165.02 502.15,163.67 504.21,163.51" fill="#3a6ee6"/>
<polygon points="514.8,174.3 515.59,176.21 517.65,176.37 516.08,177.72 516.56,179.73 514.8,178.65 513.04,179.73 513.52,177.72 511.95,176.37 514.01,176.21" fill="#3a6ee6"/>
<polygon points="524.6,173.4 525.39,175.31 527.45,175.47 525.88,176.82 526.36,178.83 524.6,177.75 522.84,178.83 523.32,176.82 521.75,175.47 523.81,175.31" fill="#3a6ee6"/>
<polygon points="534.4,171.5 535.19,173.41 537.25,173.57 535.68,174.92 536.16,176.93 534.4,175.85 532.64,176.93 533.12,174.92 531.55,173.57 533.61,173.41" fill="#3a6ee6"/>
<polygon points="544.2,162.8 544.99,164.71 547.05,164.87 545.48,166.22 545.96,168.23 544.2,167.15 542.44,168.23 542.92,166.22 541.35,164.87 543.41,164.71" fill="#3a6ee6"/>
<polygon points="554,159 554.79,160.91 556.85,161.07 555.28,162.42 555.76,164.43 554,163.35 552.24,164.43 552.72,162.42 551.15,161.07 553.21,160.91" fill="#3a6ee6"/>
<polygon points="563.8,123.5 564.59,125.41 566.65,125.57 565.08,126.92 565.56,128.93 563.8,127.85 562.04,128.93 562.52,126.92 560.95,125.57 563.01,125.41" fill="#3a6ee6"/>
<polygon points="573.6,116.3 574.39,118.21 576.45,118.37 574.88,119.72 575.36,121.73 573.6,120.65 571.84,121.73 572.32,119.72 570.75,118.37 572.81,118.21" fill="#3a6ee6"/>
<polygon points="583.4,113.1 584.19,115.01 586.25,115.17 584.68,116.52 585.16,118.53 583.4,117.45 581.64,118.53 582.12,116.52 580.55,115.17 582.61,115.01" fill="#3a6ee6"/>
<polygon points="593.2,108.9 593.99,110.81 596.05,110.97 594.48,112.32 594.96,114.33 593.2,113.25 591.44,114.33 591.92,112.32 590.35,110.97 592.41,110.81" fill="#3a6ee6"/>
<polygon points="603,96.5 603.79,98.41 605.85,98.57 604.28,99.92 604.76,101.93 603,100.85 601.24,101.93 601.72,99.92 600.15,98.57 602.21,98.41" fill="#3a6ee6"/>
<polygon points="612.8,92.7 613.59,94.61 615.65,94.77 614.08,96.12 614.56,98.13 612.8,97.05 611.04,98.13 611.52,96.12 609.95,94.77 612.01,94.61" fill="#3a6ee6"/>
<polygon points="622.6,91.6 623.39,93.51 625.45,93.67 623.88,95.02 624.36,97.03 622.6,95.95 620.84,97.03 621.32,95.02 619.75,93.67 621.81,93.51" fill="#3a6ee6"/>
<polyline points="397.2,114.2 407,118 416.8,119.9 426.6,122.7 436.4,122.7 446.2,119.5 456,111.9 465.8,99.9 475.6,94.8 485.4,91.8 495.2,98.6 505,111.9 514.8,130.9 524.6,146.4 534.4,155.9 544.2,158.4 554,154 563.8,148.3 573.6,141.1 583.4,134.1 593.2,128.8 603,123.3 612.8,124 622.6,122.1" fill="none" stroke="#4cb865" stroke-width="0.8" stroke-linejoin="round" />
<path d="M397.2 111.24L400.1 116.34L394.3 116.34Z" fill="#4cb865"/>
<path d="M407 115.04L409.9 120.14L404.1 120.14Z" fill="#4cb865"/>
<path d="M416.8 116.94L419.7 122.04L413.9 122.04Z" fill="#4cb865"/>
<path d="M426.6 119.74L429.5 124.84L423.7 124.84Z" fill="#4cb865"/>
<path d="M436.4 119.74L439.3 124.84L433.5 124.84Z" fill="#4cb865"/>
<path d="M446.2 116.54L449.1 121.64L443.3 121.64Z" fill="#4cb865"/>
<path d="M456 108.94L458.9 114.04L453.1 114.04Z" fill="#4cb865"/>
<path d="M465.8 96.94L468.7 102.04L462.9 102.04Z" fill="#4cb865"/>
<path d="M475.6 91.84L478.5 96.94L472.7 96.94Z" fill="#4cb865"/>
<path d="M485.4 88.84L488.3 93.94L482.5 93.94Z" fill="#4cb865"/>
<path d="M495.2 95.64L498.1 100.74L492.3 100.74Z" fill="#4cb865"/>
<path d="M505 108.94L507.9 114.04L502.1 114.04Z" fill="#4cb865"/>
<path d="M514.8 127.94L517.7 133.04L511.9 133.04Z" fill="#4cb865"/>
<path d="M524.6 143.44L527.5 148.54L521.7 148.54Z" fill="#4cb865"/>
<path d="M534.4 152.94L537.3 158.04L531.5 158.04Z" fill="#4cb865"/>
<path d="M544.2 155.44L547.1 160.54L541.3 160.54Z" fill="#4cb865"/>
<path d="M554 151.04L556.9 156.14L551.1 156.14Z" fill="#4cb865"/>
<path d="M563.8 145.34L566.7 150.44L560.9 150.44Z" fill="#4cb865"/>
<path d="M573.6 138.14L576.5 143.24L570.7 143.24Z" fill="#4cb865"/>
<path d="M583.4 131.14L586.3 136.24L580.5 136.24Z" fill="#4cb865"/>
<path d="M593.2 125.84L596.1 130.94L590.3 130.94Z" fill="#4cb865"/>
<path d="M603 120.34L605.9 125.44L600.1 125.44Z" fill="#4cb865"/>
<path d="M612.8 121.04L615.7 126.14L609.9 126.14Z" fill="#4cb865"/>
<path d="M622.6 119.14L625.5 124.24L619.7 124.24Z" fill="#4cb865"/>
<line x1="387.3" y1="5.5" x2="632.2" y2="5.5" stroke="#4a4a4a" stroke-width="1.2" />
<line x1="387.3" y1="187.7" x2="632.2" y2="187.7" stroke="#4a4a4a" stroke-width="1.2" />
<line x1="397.2" y1="187.7" x2="397.2" y2="191.7" stroke="#4a4a4a" stroke-width="1.1" />
<text x="397.2" y="202.17" font-size="9" fill="#1a1a1a" stroke="#1a1a1a" stroke-width="0.25" text-anchor="middle" font-weight="bold" >0</text>
<line x1="416.8" y1="187.7" x2="416.8" y2="191.7" stroke="#4a4a4a" stroke-width="1.1" />
<text x="416.8" y="202.17" font-size="9" fill="#1a1a1a" stroke="#1a1a1a" stroke-width="0.25" text-anchor="middle" font-weight="bold" >2</text>
<line x1="436.4" y1="187.7" x2="436.4" y2="191.7" stroke="#4a4a4a" stroke-width="1.1" />
<text x="436.4" y="202.17" font-size="9" fill="#1a1a1a" stroke="#1a1a1a" stroke-width="0.25" text-anchor="middle" font-weight="bold" >4</text>
<line x1="456" y1="187.7" x2="456" y2="191.7" stroke="#4a4a4a" stroke-width="1.1" />
<text x="456" y="202.17" font-size="9" fill="#1a1a1a" stroke="#1a1a1a" stroke-width="0.25" text-anchor="middle" font-weight="bold" >6</text>
<line x1="475.6" y1="187.7" x2="475.6" y2="191.7" stroke="#4a4a4a" stroke-width="1.1" />
<text x="475.6" y="202.17" font-size="9" fill="#1a1a1a" stroke="#1a1a1a" stroke-width="0.25" text-anchor="middle" font-weight="bold" >8</text>
<line x1="495.2" y1="187.7" x2="495.2" y2="191.7" stroke="#4a4a4a" stroke-width="1.1" />
<text x="495.2" y="202.17" font-size="9" fill="#1a1a1a" stroke="#1a1a1a" stroke-width="0.25" text-anchor="middle" font-weight="bold" >10</text>
<line x1="514.8" y1="187.7" x2="514.8" y2="191.7" stroke="#4a4a4a" stroke-width="1.1" />
<text x="514.8" y="202.17" font-size="9" fill="#1a1a1a" stroke="#1a1a1a" stroke-width="0.25" text-anchor="middle" font-weight="bold" >12</text>
<line x1="534.4" y1="187.7" x2="534.4" y2="191.7" stroke="#4a4a4a" stroke-width="1.1" />
<text x="534.4" y="202.17" font-size="9" fill="#1a1a1a" stroke="#1a1a1a" stroke-width="0.25" text-anchor="middle" font-weight="bold" >14</text>
<line x1="554" y1="187.7" x2="554" y2="191.7" stroke="#4a4a4a" stroke-width="1.1" />
<text x="554" y="202.17" font-size="9" fill="#1a1a1a" stroke="#1a1a1a" stroke-width="0.25" text-anchor="middle" font-weight="bold" >16</text>
<line x1="573.6" y1="187.7" x2="573.6" y2="191.7" stroke="#4a4a4a" stroke-width="1.1" />
<text x="573.6" y="202.17" font-size="9" fill="#1a1a1a" stroke="#1a1a1a" stroke-width="0.25" text-anchor="middle" font-weight="bold" >18</text>
<line x1="593.2" y1="187.7" x2="593.2" y2="191.7" stroke="#4a4a4a" stroke-width="1.1" />
<text x="593.2" y="202.17" font-size="9" fill="#1a1a1a" stroke="#1a1a1a" stroke-width="0.25" text-anchor="middle" font-weight="bold" >20</text>
<line x1="612.8" y1="187.7" x2="612.8" y2="191.7" stroke="#4a4a4a" stroke-width="1.1" />
<text x="612.8" y="202.17" font-size="9" fill="#1a1a1a" stroke="#1a1a1a" stroke-width="0.25" text-anchor="middle" font-weight="bold" >22</text>
<line x1="632.4" y1="187.7" x2="632.4" y2="191.7" stroke="#4a4a4a" stroke-width="1.1" />
<text x="632.4" y="202.17" font-size="9" fill="#1a1a1a" stroke="#1a1a1a" stroke-width="0.25" text-anchor="middle" font-weight="bold" >24</text>
<text x="509.9" y="214.06" font-size="12" fill="#111" stroke="#111" stroke-width="0.25" text-anchor="middle" font-weight="bold" >Time</text>
<text x="401.1" y="24.96" font-size="12" fill="#111" stroke="#111" stroke-width="0.25" text-anchor="start" font-weight="bold" >(b) Winter</text>
<line x1="387.3" y1="5.5" x2="387.3" y2="187.7" stroke="#4a4a4a" stroke-width="1.1" />
<line x1="387.3" y1="5.5" x2="384.3" y2="5.5" stroke="#4a4a4a" stroke-width="1.1" />
<text x="383.3" y="8.47" font-size="9" fill="#222" stroke="#222" stroke-width="0.25" text-anchor="end" font-weight="bold" >800</text>
<line x1="387.3" y1="28.27" x2="384.3" y2="28.27" stroke="#4a4a4a" stroke-width="1.1" />
<text x="383.3" y="31.24" font-size="9" fill="#222" stroke="#222" stroke-width="0.25" text-anchor="end" font-weight="bold" >600</text>
<line x1="387.3" y1="51.05" x2="384.3" y2="51.05" stroke="#4a4a4a" stroke-width="1.1" />
<text x="383.3" y="54.02" font-size="9" fill="#222" stroke="#222" stroke-width="0.25" text-anchor="end" font-weight="bold" >400</text>
<line x1="387.3" y1="73.83" x2="384.3" y2="73.83" stroke="#4a4a4a" stroke-width="1.1" />
<text x="383.3" y="76.8" font-size="9" fill="#222" stroke="#222" stroke-width="0.25" text-anchor="end" font-weight="bold" >200</text>
<line x1="387.3" y1="96.6" x2="384.3" y2="96.6" stroke="#4a4a4a" stroke-width="1.1" />
<text x="383.3" y="99.57" font-size="9" fill="#222" stroke="#222" stroke-width="0.25" text-anchor="end" font-weight="bold" >0</text>
<line x1="387.3" y1="119.38" x2="384.3" y2="119.38" stroke="#4a4a4a" stroke-width="1.1" />
<text x="383.3" y="122.34" font-size="9" fill="#222" stroke="#222" stroke-width="0.25" text-anchor="end" font-weight="bold" >-200</text>
<line x1="387.3" y1="142.15" x2="384.3" y2="142.15" stroke="#4a4a4a" stroke-width="1.1" />
<text x="383.3" y="145.12" font-size="9" fill="#222" stroke="#222" stroke-width="0.25" text-anchor="end" font-weight="bold" >-400</text>
<line x1="387.3" y1="164.92" x2="384.3" y2="164.92" stroke="#4a4a4a" stroke-width="1.1" />
<text x="383.3" y="167.89" font-size="9" fill="#222" stroke="#222" stroke-width="0.25" text-anchor="end" font-weight="bold" >-600</text>
<line x1="387.3" y1="187.7" x2="384.3" y2="187.7" stroke="#4a4a4a" stroke-width="1.1" />
<text x="383.3" y="190.67" font-size="9" fill="#222" stroke="#222" stroke-width="0.25" text-anchor="end" font-weight="bold" >-800</text>
<line x1="387.3" y1="16.89" x2="385.3" y2="16.89" stroke="#4a4a4a" stroke-width="1.1" />
<line x1="387.3" y1="39.66" x2="385.3" y2="39.66" stroke="#4a4a4a" stroke-width="1.1" />
<line x1="387.3" y1="62.44" x2="385.3" y2="62.44" stroke="#4a4a4a" stroke-width="1.1" />
<line x1="387.3" y1="85.21" x2="385.3" y2="85.21" stroke="#4a4a4a" stroke-width="1.1" />
<line x1="387.3" y1="107.99" x2="385.3" y2="107.99" stroke="#4a4a4a" stroke-width="1.1" />
<line x1="387.3" y1="130.76" x2="385.3" y2="130.76" stroke="#4a4a4a" stroke-width="1.1" />
<line x1="387.3" y1="153.54" x2="385.3" y2="153.54" stroke="#4a4a4a" stroke-width="1.1" />
<line x1="387.3" y1="176.31" x2="385.3" y2="176.31" stroke="#4a4a4a" stroke-width="1.1" />
<line x1="363" y1="5.5" x2="363" y2="187.7" stroke="#f2a0a6" stroke-width="1.5" />
<line x1="363" y1="5.5" x2="360" y2="5.5" stroke="#e5484d" stroke-width="1.1" />
<text x="359" y="8.47" font-size="9" fill="#e0323a" stroke="#e0323a" stroke-width="0.25" text-anchor="end" font-weight="bold" >21</text>
<line x1="363" y1="33.53" x2="360" y2="33.53" stroke="#e5484d" stroke-width="1.1" />
<text x="359" y="36.5" font-size="9" fill="#e0323a" stroke="#e0323a" stroke-width="0.25" text-anchor="end" font-weight="bold" >18</text>
<line x1="363" y1="61.56" x2="360" y2="61.56" stroke="#e5484d" stroke-width="1.1" />
<text x="359" y="64.53" font-size="9" fill="#e0323a" stroke="#e0323a" stroke-width="0.25" text-anchor="end" font-weight="bold" >15</text>
<line x1="363" y1="89.59" x2="360" y2="89.59" stroke="#e5484d" stroke-width="1.1" />
<text x="359" y="92.56" font-size="9" fill="#e0323a" stroke="#e0323a" stroke-width="0.25" text-anchor="end" font-weight="bold" >12</text>
<line x1="363" y1="117.62" x2="360" y2="117.62" stroke="#e5484d" stroke-width="1.1" />
<text x="359" y="120.59" font-size="9" fill="#e0323a" stroke="#e0323a" stroke-width="0.25" text-anchor="end" font-weight="bold" >9</text>
<line x1="363" y1="145.65" x2="360" y2="145.65" stroke="#e5484d" stroke-width="1.1" />
<text x="359" y="148.62" font-size="9" fill="#e0323a" stroke="#e0323a" stroke-width="0.25" text-anchor="end" font-weight="bold" >6</text>
<line x1="363" y1="173.68" x2="360" y2="173.68" stroke="#e5484d" stroke-width="1.1" />
<text x="359" y="176.65" font-size="9" fill="#e0323a" stroke="#e0323a" stroke-width="0.25" text-anchor="end" font-weight="bold" >3</text>
<line x1="363" y1="19.52" x2="361" y2="19.52" stroke="#e5484d" stroke-width="1.1" />
<line x1="363" y1="47.55" x2="361" y2="47.55" stroke="#e5484d" stroke-width="1.1" />
<line x1="363" y1="75.58" x2="361" y2="75.58" stroke="#e5484d" stroke-width="1.1" />
<line x1="363" y1="103.61" x2="361" y2="103.61" stroke="#e5484d" stroke-width="1.1" />
<line x1="363" y1="131.64" x2="361" y2="131.64" stroke="#e5484d" stroke-width="1.1" />
<line x1="363" y1="159.67" x2="361" y2="159.67" stroke="#e5484d" stroke-width="1.1" />
<line x1="632.2" y1="5.5" x2="632.2" y2="187.7" stroke="#9ab8f2" stroke-width="1.6" />
<line x1="632.2" y1="20.68" x2="635.2" y2="20.68" stroke="#4a7be0" stroke-width="1.1" />
<text x="636.2" y="23.65" font-size="9" fill="#4a7be0" stroke="#4a7be0" stroke-width="0.25" text-anchor="start" font-weight="bold" >90</text>
<line x1="632.2" y1="51.05" x2="635.2" y2="51.05" stroke="#4a7be0" stroke-width="1.1" />
<text x="636.2" y="54.02" font-size="9" fill="#4a7be0" stroke="#4a7be0" stroke-width="0.25" text-anchor="start" font-weight="bold" >80</text>
<line x1="632.2" y1="81.42" x2="635.2" y2="81.42" stroke="#4a7be0" stroke-width="1.1" />
<text x="636.2" y="84.39" font-size="9" fill="#4a7be0" stroke="#4a7be0" stroke-width="0.25" text-anchor="start" font-weight="bold" >70</text>
<line x1="632.2" y1="111.78" x2="635.2" y2="111.78" stroke="#4a7be0" stroke-width="1.1" />
<text x="636.2" y="114.75" font-size="9" fill="#4a7be0" stroke="#4a7be0" stroke-width="0.25" text-anchor="start" font-weight="bold" >60</text>
<line x1="632.2" y1="142.15" x2="635.2" y2="142.15" stroke="#4a7be0" stroke-width="1.1" />
<text x="636.2" y="145.12" font-size="9" fill="#4a7be0" stroke="#4a7be0" stroke-width="0.25" text-anchor="start" font-weight="bold" >50</text>
<line x1="632.2" y1="172.52" x2="635.2" y2="172.52" stroke="#4a7be0" stroke-width="1.1" />
<text x="636.2" y="175.49" font-size="9" fill="#4a7be0" stroke="#4a7be0" stroke-width="0.25" text-anchor="start" font-weight="bold" >40</text>
<line x1="632.2" y1="35.87" x2="634.2" y2="35.87" stroke="#4a7be0" stroke-width="1.1" />
<line x1="632.2" y1="66.23" x2="634.2" y2="66.23" stroke="#4a7be0" stroke-width="1.1" />
<line x1="632.2" y1="96.6" x2="634.2" y2="96.6" stroke="#4a7be0" stroke-width="1.1" />
<line x1="632.2" y1="126.97" x2="634.2" y2="126.97" stroke="#4a7be0" stroke-width="1.1" />
<line x1="632.2" y1="157.33" x2="634.2" y2="157.33" stroke="#4a7be0" stroke-width="1.1" />
<line x1="649.6" y1="5.5" x2="649.6" y2="187.7" stroke="#9ed4aa" stroke-width="1.6" />
<line x1="649.6" y1="19.52" x2="652.6" y2="19.52" stroke="#52b46c" stroke-width="1.1" />
<text x="653.6" y="22.49" font-size="9" fill="#52b46c" stroke="#52b46c" stroke-width="0.25" text-anchor="start" font-weight="bold" >1022</text>
<line x1="649.6" y1="47.55" x2="652.6" y2="47.55" stroke="#52b46c" stroke-width="1.1" />
<text x="653.6" y="50.52" font-size="9" fill="#52b46c" stroke="#52b46c" stroke-width="0.25" text-anchor="start" font-weight="bold" >1020</text>
<line x1="649.6" y1="75.58" x2="652.6" y2="75.58" stroke="#52b46c" stroke-width="1.1" />
<text x="653.6" y="78.55" font-size="9" fill="#52b46c" stroke="#52b46c" stroke-width="0.25" text-anchor="start" font-weight="bold" >1018</text>
<line x1="649.6" y1="103.61" x2="652.6" y2="103.61" stroke="#52b46c" stroke-width="1.1" />
<text x="653.6" y="106.58" font-size="9" fill="#52b46c" stroke="#52b46c" stroke-width="0.25" text-anchor="start" font-weight="bold" >1016</text>
<line x1="649.6" y1="131.64" x2="652.6" y2="131.64" stroke="#52b46c" stroke-width="1.1" />
<text x="653.6" y="134.61" font-size="9" fill="#52b46c" stroke="#52b46c" stroke-width="0.25" text-anchor="start" font-weight="bold" >1014</text>
<line x1="649.6" y1="159.67" x2="652.6" y2="159.67" stroke="#52b46c" stroke-width="1.1" />
<text x="653.6" y="162.64" font-size="9" fill="#52b46c" stroke="#52b46c" stroke-width="0.25" text-anchor="start" font-weight="bold" >1012</text>
<line x1="649.6" y1="187.7" x2="652.6" y2="187.7" stroke="#52b46c" stroke-width="1.1" />
<text x="653.6" y="190.67" font-size="9" fill="#52b46c" stroke="#52b46c" stroke-width="0.25" text-anchor="start" font-weight="bold" >1010</text>
<line x1="649.6" y1="33.53" x2="651.6" y2="33.53" stroke="#52b46c" stroke-width="1.1" />
<line x1="649.6" y1="61.56" x2="651.6" y2="61.56" stroke="#52b46c" stroke-width="1.1" />
<line x1="649.6" y1="89.59" x2="651.6" y2="89.59" stroke="#52b46c" stroke-width="1.1" />
<line x1="649.6" y1="117.62" x2="651.6" y2="117.62" stroke="#52b46c" stroke-width="1.1" />
<line x1="649.6" y1="145.65" x2="651.6" y2="145.65" stroke="#52b46c" stroke-width="1.1" />
<line x1="649.6" y1="173.68" x2="651.6" y2="173.68" stroke="#52b46c" stroke-width="1.1" />
<line x1="395.4" y1="145.1" x2="411.6" y2="145.1" stroke="#3c3c3c" stroke-width="0.9" />
<circle cx="403.5" cy="145.1" r="2.4" fill="#3c3c3c"/>
<text x="414.1" y="147.57" font-size="7.5" fill="#111" stroke="#111" stroke-width="0.25" text-anchor="start" font-weight="bold" >TSR (W m<tspan dy="-3" font-size="6">-2</tspan><tspan dy="3">)</tspan></text>
<line x1="395.4" y1="155.5" x2="411.6" y2="155.5" stroke="#e8353c" stroke-width="0.9" />
<path d="M403.5 152.35L406.35 155.5L403.5 158.65L400.65 155.5Z" fill="#e8353c"/>
<text x="414.1" y="157.97" font-size="7.5" fill="#111" stroke="#111" stroke-width="0.25" text-anchor="start" font-weight="bold" >Temperature (°C)</text>
<line x1="395.4" y1="165.9" x2="411.6" y2="165.9" stroke="#3a6ee6" stroke-width="0.9" />
<polygon points="403.5,162.9 404.29,164.81 406.35,164.97 404.78,166.32 405.26,168.33 403.5,167.25 401.74,168.33 402.22,166.32 400.65,164.97 402.71,164.81" fill="#3a6ee6"/>
<text x="414.1" y="168.38" font-size="7.5" fill="#111" stroke="#111" stroke-width="0.25" text-anchor="start" font-weight="bold" >Relative Humidity (%)</text>
<line x1="395.4" y1="176.3" x2="411.6" y2="176.3" stroke="#4cb865" stroke-width="0.9" />
<path d="M403.5 173.34L406.4 178.44L400.6 178.44Z" fill="#4cb865"/>
<text x="414.1" y="178.78" font-size="7.5" fill="#111" stroke="#111" stroke-width="0.25" text-anchor="start" font-weight="bold" >Pressure (kPa)</text>
<g clip-path="url(#cliptop)">
<polyline points="60.4,290 70.52,281 80.64,290.9 90.76,301.7 100.88,296.6 111,302.9 121.12,304.8 131.24,309.3 141.36,309.3 151.48,307.4 161.6,301.9 171.72,284.6 181.84,263.9 191.96,299.8 202.08,285.6 212.2,288 222.32,277.1 232.44,245.2 242.56,232.8 252.68,272.8 262.8,297.8 272.92,298.4 283.04,298.2 293.16,274.8" fill="none" stroke="#3c3c3c" stroke-width="0.8" stroke-linejoin="round" />
<circle cx="60.4" cy="290" r="2.4" fill="#3c3c3c"/>
<circle cx="70.52" cy="281" r="2.4" fill="#3c3c3c"/>
<circle cx="80.64" cy="290.9" r="2.4" fill="#3c3c3c"/>
<circle cx="90.76" cy="301.7" r="2.4" fill="#3c3c3c"/>
<circle cx="100.88" cy="296.6" r="2.4" fill="#3c3c3c"/>
<circle cx="111" cy="302.9" r="2.4" fill="#3c3c3c"/>
<circle cx="121.12" cy="304.8" r="2.4" fill="#3c3c3c"/>
<circle cx="131.24" cy="309.3" r="2.4" fill="#3c3c3c"/>
<circle cx="141.36" cy="309.3" r="2.4" fill="#3c3c3c"/>
<circle cx="151.48" cy="307.4" r="2.4" fill="#3c3c3c"/>
<circle cx="161.6" cy="301.9" r="2.4" fill="#3c3c3c"/>
<circle cx="171.72" cy="284.6" r="2.4" fill="#3c3c3c"/>
<circle cx="181.84" cy="263.9" r="2.4" fill="#3c3c3c"/>
<circle cx="191.96" cy="299.8" r="2.4" fill="#3c3c3c"/>
<circle cx="202.08" cy="285.6" r="2.4" fill="#3c3c3c"/>
<circle cx="212.2" cy="288" r="2.4" fill="#3c3c3c"/>
<circle cx="222.32" cy="277.1" r="2.4" fill="#3c3c3c"/>
<circle cx="232.44" cy="245.2" r="2.4" fill="#3c3c3c"/>
<circle cx="242.56" cy="232.8" r="2.4" fill="#3c3c3c"/>
<circle cx="252.68" cy="272.8" r="2.4" fill="#3c3c3c"/>
<circle cx="262.8" cy="297.8" r="2.4" fill="#3c3c3c"/>
<circle cx="272.92" cy="298.4" r="2.4" fill="#3c3c3c"/>
<circle cx="283.04" cy="298.2" r="2.4" fill="#3c3c3c"/>
<circle cx="293.16" cy="274.8" r="2.4" fill="#3c3c3c"/>
<polyline points="60.4,313.8 70.52,313.8 80.64,316 90.76,318.8 100.88,319.5 111,322.2 121.12,321.8 131.24,319.5 141.36,311.8 151.48,300.7 161.6,288.2 171.72,275.1 181.84,247.9 191.96,239.7 202.08,234.7 212.2,234.1 222.32,233.3 232.44,232.8 242.56,240.6 252.68,259.4 262.8,275.6 272.92,290.3 283.04,309.6 293.16,315.7" fill="none" stroke="#e8353c" stroke-width="0.8" stroke-linejoin="round" />
<path d="M60.4 310.65L63.25 313.8L60.4 316.95L57.55 313.8Z" fill="#e8353c"/>
<path d="M70.52 310.65L73.37 313.8L70.52 316.95L67.67 313.8Z" fill="#e8353c"/>
<path d="M80.64 312.85L83.49 316L80.64 319.15L77.79 316Z" fill="#e8353c"/>
<path d="M90.76 315.65L93.61 318.8L90.76 321.95L87.91 318.8Z" fill="#e8353c"/>
<path d="M100.88 316.35L103.73 319.5L100.88 322.65L98.03 319.5Z" fill="#e8353c"/>
<path d="M111 319.05L113.85 322.2L111 325.35L108.15 322.2Z" fill="#e8353c"/>
<path d="M121.12 318.65L123.97 321.8L121.12 324.95L118.27 321.8Z" fill="#e8353c"/>
<path d="M131.24 316.35L134.09 319.5L131.24 322.65L128.39 319.5Z" fill="#e8353c"/>
<path d="M141.36 308.65L144.21 311.8L141.36 314.95L138.51 311.8Z" fill="#e8353c"/>
<path d="M151.48 297.55L154.33 300.7L151.48 303.85L148.63 300.7Z" fill="#e8353c"/>
<path d="M161.6 285.05L164.45 288.2L161.6 291.35L158.75 288.2Z" fill="#e8353c"/>
<path d="M171.72 271.95L174.57 275.1L171.72 278.25L168.87 275.1Z" fill="#e8353c"/>
<path d="M181.84 244.75L184.69 247.9L181.84 251.05L178.99 247.9Z" fill="#e8353c"/>
<path d="M191.96 236.55L194.81 239.7L191.96 242.85L189.11 239.7Z" fill="#e8353c"/>
<path d="M202.08 231.55L204.93 234.7L202.08 237.85L199.23 234.7Z" fill="#e8353c"/>
<path d="M212.2 230.95L215.05 234.1L212.2 237.25L209.35 234.1Z" fill="#e8353c"/>
<path d="M222.32 230.15L225.17 233.3L222.32 236.45L219.47 233.3Z" fill="#e8353c"/>
<path d="M232.44 229.65L235.29 232.8L232.44 235.95L229.59 232.8Z" fill="#e8353c"/>
<path d="M242.56 237.45L245.41 240.6L242.56 243.75L239.71 240.6Z" fill="#e8353c"/>
<path d="M252.68 256.25L255.53 259.4L252.68 262.55L249.83 259.4Z" fill="#e8353c"/>
<path d="M262.8 272.45L265.65 275.6L262.8 278.75L259.95 275.6Z" fill="#e8353c"/>
<path d="M272.92 287.15L275.77 290.3L272.92 293.45L270.07 290.3Z" fill="#e8353c"/>
<path d="M283.04 306.45L285.89 309.6L283.04 312.75L280.19 309.6Z" fill="#e8353c"/>
<path d="M293.16 312.55L296.01 315.7L293.16 318.85L290.31 315.7Z" fill="#e8353c"/>
<polyline points="60.4,364.9 70.52,349.7 80.64,349.7 90.76,349.7 100.88,328.5 111,333.8 121.12,328.5 131.24,328.5 141.36,333.8 151.48,354.5 161.6,372.7 171.72,367.5 181.84,391.3 191.96,396.2 202.08,391.1 212.2,391.1 222.32,402 232.44,402 242.56,402 252.68,391.1 262.8,386.2 272.92,391.1 283.04,391.1 293.16,380.9" fill="none" stroke="#3a6ee6" stroke-width="0.8" stroke-linejoin="round" />
<polygon points="60.4,361.9 61.19,363.81 63.25,363.97 61.68,365.32 62.16,367.33 60.4,366.25 58.64,367.33 59.12,365.32 57.55,363.97 59.61,363.81" fill="#3a6ee6"/>
<polygon points="70.52,346.7 71.31,348.61 73.37,348.77 71.8,350.12 72.28,352.13 70.52,351.05 68.76,352.13 69.24,350.12 67.67,348.77 69.73,348.61" fill="#3a6ee6"/>
<polygon points="80.64,346.7 81.43,348.61 83.49,348.77 81.92,350.12 82.4,352.13 80.64,351.05 78.88,352.13 79.36,350.12 77.79,348.77 79.85,348.61" fill="#3a6ee6"/>
<polygon points="90.76,346.7 91.55,348.61 93.61,348.77 92.04,350.12 92.52,352.13 90.76,351.05 89,352.13 89.48,350.12 87.91,348.77 89.97,348.61" fill="#3a6ee6"/>
<polygon points="100.88,325.5 101.67,327.41 103.73,327.57 102.16,328.92 102.64,330.93 100.88,329.85 99.12,330.93 99.6,328.92 98.03,327.57 100.09,327.41" fill="#3a6ee6"/>
<polygon points="111,330.8 111.79,332.71 113.85,332.87 112.28,334.22 112.76,336.23 111,335.15 109.24,336.23 109.72,334.22 108.15,332.87 110.21,332.71" fill="#3a6ee6"/>
<polygon points="121.12,325.5 121.91,327.41 123.97,327.57 122.4,328.92 122.88,330.93 121.12,329.85 119.36,330.93 119.84,328.92 118.27,327.57 120.33,327.41" fill="#3a6ee6"/>
<polygon points="131.24,325.5 132.03,327.41 134.09,327.57 132.52,328.92 133,330.93 131.24,329.85 129.48,330.93 129.96,328.92 128.39,327.57 130.45,327.41" fill="#3a6ee6"/>
<polygon points="141.36,330.8 142.15,332.71 144.21,332.87 142.64,334.22 143.12,336.23 141.36,335.15 139.6,336.23 140.08,334.22 138.51,332.87 140.57,332.71" fill="#3a6ee6"/>
<polygon points="151.48,351.5 152.27,353.41 154.33,353.57 152.76,354.92 153.24,356.93 151.48,355.85 149.72,356.93 150.2,354.92 148.63,353.57 150.69,353.41" fill="#3a6ee6"/>
<polygon points="161.6,369.7 162.39,371.61 164.45,371.77 162.88,373.12 163.36,375.13 161.6,374.05 159.84,375.13 160.32,373.12 158.75,371.77 160.81,371.61" fill="#3a6ee6"/>
<polygon points="171.72,364.5 172.51,366.41 174.57,366.57 173,367.92 173.48,369.93 171.72,368.85 169.96,369.93 170.44,367.92 168.87,366.57 170.93,366.41" fill="#3a6ee6"/>
<polygon points="181.84,388.3 182.63,390.21 184.69,390.37 183.12,391.72 183.6,393.73 181.84,392.65 180.08,393.73 180.56,391.72 178.99,390.37 181.05,390.21" fill="#3a6ee6"/>
<polygon points="191.96,393.2 192.75,395.11 194.81,395.27 193.24,396.62 193.72,398.63 191.96,397.55 190.2,398.63 190.68,396.62 189.11,395.27 191.17,395.11" fill="#3a6ee6"/>
<polygon points="202.08,388.1 202.87,390.01 204.93,390.17 203.36,391.52 203.84,393.53 202.08,392.45 200.32,393.53 200.8,391.52 199.23,390.17 201.29,390.01" fill="#3a6ee6"/>
<polygon points="212.2,388.1 212.99,390.01 215.05,390.17 213.48,391.52 213.96,393.53 212.2,392.45 210.44,393.53 210.92,391.52 209.35,390.17 211.41,390.01" fill="#3a6ee6"/>
<polygon points="222.32,399 223.11,400.91 225.17,401.07 223.6,402.42 224.08,404.43 222.32,403.35 220.56,404.43 221.04,402.42 219.47,401.07 221.53,400.91" fill="#3a6ee6"/>
<polygon points="232.44,399 233.23,400.91 235.29,401.07 233.72,402.42 234.2,404.43 232.44,403.35 230.68,404.43 231.16,402.42 229.59,401.07 231.65,400.91" fill="#3a6ee6"/>
<polygon points="242.56,399 243.35,400.91 245.41,401.07 243.84,402.42 244.32,404.43 242.56,403.35 240.8,404.43 241.28,402.42 239.71,401.07 241.77,400.91" fill="#3a6ee6"/>
<polygon points="252.68,388.1 253.47,390.01 255.53,390.17 253.96,391.52 254.44,393.53 252.68,392.45 250.92,393.53 251.4,391.52 249.83,390.17 251.89,390.01" fill="#3a6ee6"/>
<polygon points="262.8,383.2 263.59,385.11 265.65,385.27 264.08,386.62 264.56,388.63 262.8,387.55 261.04,388.63 261.52,386.62 259.95,385.27 262.01,385.11" fill="#3a6ee6"/>
<polygon points="272.92,388.1 273.71,390.01 275.77,390.17 274.2,391.52 274.68,393.53 272.92,392.45 271.16,393.53 271.64,391.52 270.07,390.17 272.13,390.01" fill="#3a6ee6"/>
<polygon points="283.04,388.1 283.83,390.01 285.89,390.17 284.32,391.52 284.8,393.53 283.04,392.45 281.28,393.53 281.76,391.52 280.19,390.17 282.25,390.01" fill="#3a6ee6"/>
<polygon points="293.16,377.9 293.95,379.81 296.01,379.97 294.44,381.32 294.92,383.33 293.16,382.25 291.4,383.33 291.88,381.32 290.31,379.97 292.37,379.81" fill="#3a6ee6"/>
<polyline points="60.4,340.4 70.52,346.1 80.64,349.3 90.76,346.5 100.88,353.7 111,347.4 121.12,354.1 131.24,359.4 141.36,377.8 151.48,387.7 161.6,386.3 171.72,390.9 181.84,386.8 191.96,395.7 202.08,395.1 212.2,397.2 222.32,387.2 232.44,380.3 242.56,363.7 252.68,339.8 262.8,353.3 272.92,335.5 283.04,319.1 293.16,307.3" fill="none" stroke="#4cb865" stroke-width="0.8" stroke-linejoin="round" />
<path d="M60.4 337.44L63.3 342.54L57.5 342.54Z" fill="#4cb865"/>
<path d="M70.52 343.14L73.42 348.24L67.62 348.24Z" fill="#4cb865"/>
<path d="M80.64 346.34L83.54 351.44L77.74 351.44Z" fill="#4cb865"/>
<path d="M90.76 343.54L93.66 348.64L87.86 348.64Z" fill="#4cb865"/>
<path d="M100.88 350.74L103.78 355.84L97.98 355.84Z" fill="#4cb865"/>
<path d="M111 344.44L113.9 349.54L108.1 349.54Z" fill="#4cb865"/>
<path d="M121.12 351.14L124.02 356.24L118.22 356.24Z" fill="#4cb865"/>
<path d="M131.24 356.44L134.14 361.54L128.34 361.54Z" fill="#4cb865"/>
<path d="M141.36 374.84L144.26 379.94L138.46 379.94Z" fill="#4cb865"/>
<path d="M151.48 384.74L154.38 389.84L148.58 389.84Z" fill="#4cb865"/>
<path d="M161.6 383.34L164.5 388.44L158.7 388.44Z" fill="#4cb865"/>
<path d="M171.72 387.94L174.62 393.04L168.82 393.04Z" fill="#4cb865"/>
<path d="M181.84 383.84L184.74 388.94L178.94 388.94Z" fill="#4cb865"/>
<path d="M191.96 392.74L194.86 397.84L189.06 397.84Z" fill="#4cb865"/>
<path d="M202.08 392.14L204.98 397.24L199.18 397.24Z" fill="#4cb865"/>
<path d="M212.2 394.24L215.1 399.34L209.3 399.34Z" fill="#4cb865"/>
<path d="M222.32 384.24L225.22 389.34L219.42 389.34Z" fill="#4cb865"/>
<path d="M232.44 377.34L235.34 382.44L229.54 382.44Z" fill="#4cb865"/>
<path d="M242.56 360.74L245.46 365.84L239.66 365.84Z" fill="#4cb865"/>
<path d="M252.68 336.84L255.58 341.94L249.78 341.94Z" fill="#4cb865"/>
<path d="M262.8 350.34L265.7 355.44L259.9 355.44Z" fill="#4cb865"/>
<path d="M272.92 332.54L275.82 337.64L270.02 337.64Z" fill="#4cb865"/>
<path d="M283.04 316.14L285.94 321.24L280.14 321.24Z" fill="#4cb865"/>
<path d="M293.16 304.34L296.06 309.44L290.26 309.44Z" fill="#4cb865"/>
<line x1="50.8" y1="218.4" x2="303.8" y2="218.4" stroke="#4a4a4a" stroke-width="1.2" />
<line x1="50.8" y1="413.2" x2="303.8" y2="413.2" stroke="#4a4a4a" stroke-width="1.2" />
<line x1="60.4" y1="413.2" x2="60.4" y2="417.2" stroke="#4a4a4a" stroke-width="1.1" />
<text x="60.4" y="428.67" font-size="9.6" fill="#1a1a1a" stroke="#1a1a1a" stroke-width="0.25" text-anchor="middle" font-weight="bold" >0</text>
<line x1="80.64" y1="413.2" x2="80.64" y2="417.2" stroke="#4a4a4a" stroke-width="1.1" />
<text x="80.64" y="428.67" font-size="9.6" fill="#1a1a1a" stroke="#1a1a1a" stroke-width="0.25" text-anchor="middle" font-weight="bold" >2</text>
<line x1="100.88" y1="413.2" x2="100.88" y2="417.2" stroke="#4a4a4a" stroke-width="1.1" />
<text x="100.88" y="428.67" font-size="9.6" fill="#1a1a1a" stroke="#1a1a1a" stroke-width="0.25" text-anchor="middle" font-weight="bold" >4</text>
<line x1="121.12" y1="413.2" x2="121.12" y2="417.2" stroke="#4a4a4a" stroke-width="1.1" />
<text x="121.12" y="428.67" font-size="9.6" fill="#1a1a1a" stroke="#1a1a1a" stroke-width="0.25" text-anchor="middle" font-weight="bold" >6</text>
<line x1="141.36" y1="413.2" x2="141.36" y2="417.2" stroke="#4a4a4a" stroke-width="1.1" />
<text x="141.36" y="428.67" font-size="9.6" fill="#1a1a1a" stroke="#1a1a1a" stroke-width="0.25" text-anchor="middle" font-weight="bold" >8</text>
<line x1="161.6" y1="413.2" x2="161.6" y2="417.2" stroke="#4a4a4a" stroke-width="1.1" />
<text x="161.6" y="428.67" font-size="9.6" fill="#1a1a1a" stroke="#1a1a1a" stroke-width="0.25" text-anchor="middle" font-weight="bold" >10</text>
<line x1="181.84" y1="413.2" x2="181.84" y2="417.2" stroke="#4a4a4a" stroke-width="1.1" />
<text x="181.84" y="428.67" font-size="9.6" fill="#1a1a1a" stroke="#1a1a1a" stroke-width="0.25" text-anchor="middle" font-weight="bold" >12</text>
<line x1="202.08" y1="413.2" x2="202.08" y2="417.2" stroke="#4a4a4a" stroke-width="1.1" />
<text x="202.08" y="428.67" font-size="9.6" fill="#1a1a1a" stroke="#1a1a1a" stroke-width="0.25" text-anchor="middle" font-weight="bold" >14</text>
<line x1="222.32" y1="413.2" x2="222.32" y2="417.2" stroke="#4a4a4a" stroke-width="1.1" />
<text x="222.32" y="428.67" font-size="9.6" fill="#1a1a1a" stroke="#1a1a1a" stroke-width="0.25" text-anchor="middle" font-weight="bold" >16</text>
<line x1="242.56" y1="413.2" x2="242.56" y2="417.2" stroke="#4a4a4a" stroke-width="1.1" />
<text x="242.56" y="428.67" font-size="9.6" fill="#1a1a1a" stroke="#1a1a1a" stroke-width="0.25" text-anchor="middle" font-weight="bold" >18</text>
<line x1="262.8" y1="413.2" x2="262.8" y2="417.2" stroke="#4a4a4a" stroke-width="1.1" />
<text x="262.8" y="428.67" font-size="9.6" fill="#1a1a1a" stroke="#1a1a1a" stroke-width="0.25" text-anchor="middle" font-weight="bold" >20</text>
<line x1="283.04" y1="413.2" x2="283.04" y2="417.2" stroke="#4a4a4a" stroke-width="1.1" />
<text x="283.04" y="428.67" font-size="9.6" fill="#1a1a1a" stroke="#1a1a1a" stroke-width="0.25" text-anchor="middle" font-weight="bold" >22</text>
<line x1="303.28" y1="413.2" x2="303.28" y2="417.2" stroke="#4a4a4a" stroke-width="1.1" />
<text x="303.28" y="428.67" font-size="9.6" fill="#1a1a1a" stroke="#1a1a1a" stroke-width="0.25" text-anchor="middle" font-weight="bold" >24</text>
<text x="177.2" y="439.19" font-size="13" fill="#111" stroke="#111" stroke-width="0.25" text-anchor="middle" font-weight="bold" >Time</text>
<text x="62.9" y="236.04" font-size="11.65" fill="#111" stroke="#111" stroke-width="0.25" text-anchor="start" font-weight="bold" >(c) Summer</text>
<line x1="50.8" y1="218.4" x2="50.8" y2="413.2" stroke="#4a4a4a" stroke-width="1.1" />
<line x1="50.8" y1="218.4" x2="47.8" y2="218.4" stroke="#4a4a4a" stroke-width="1.1" />
<text x="46.3" y="221.63" font-size="9.8" fill="#222" stroke="#222" stroke-width="0.25" text-anchor="end" font-weight="bold" >15</text>
<line x1="50.8" y1="257.36" x2="47.8" y2="257.36" stroke="#4a4a4a" stroke-width="1.1" />
<text x="46.3" y="260.59" font-size="9.8" fill="#222" stroke="#222" stroke-width="0.25" text-anchor="end" font-weight="bold" >12</text>
<line x1="50.8" y1="296.32" x2="47.8" y2="296.32" stroke="#4a4a4a" stroke-width="1.1" />
<text x="46.3" y="299.55" font-size="9.8" fill="#222" stroke="#222" stroke-width="0.25" text-anchor="end" font-weight="bold" >9</text>
<line x1="50.8" y1="335.28" x2="47.8" y2="335.28" stroke="#4a4a4a" stroke-width="1.1" />
<text x="46.3" y="338.51" font-size="9.8" fill="#222" stroke="#222" stroke-width="0.25" text-anchor="end" font-weight="bold" >6</text>
<line x1="50.8" y1="374.24" x2="47.8" y2="374.24" stroke="#4a4a4a" stroke-width="1.1" />
<text x="46.3" y="377.47" font-size="9.8" fill="#222" stroke="#222" stroke-width="0.25" text-anchor="end" font-weight="bold" >3</text>
<line x1="50.8" y1="413.2" x2="47.8" y2="413.2" stroke="#4a4a4a" stroke-width="1.1" />
<text x="46.3" y="416.43" font-size="9.8" fill="#222" stroke="#222" stroke-width="0.25" text-anchor="end" font-weight="bold" >0</text>
<line x1="50.8" y1="237.88" x2="48.8" y2="237.88" stroke="#4a4a4a" stroke-width="1.1" />
<line x1="50.8" y1="276.84" x2="48.8" y2="276.84" stroke="#4a4a4a" stroke-width="1.1" />
<line x1="50.8" y1="315.8" x2="48.8" y2="315.8" stroke="#4a4a4a" stroke-width="1.1" />
<line x1="50.8" y1="354.76" x2="48.8" y2="354.76" stroke="#4a4a4a" stroke-width="1.1" />
<line x1="50.8" y1="393.72" x2="48.8" y2="393.72" stroke="#4a4a4a" stroke-width="1.1" />
<line x1="32.5" y1="218.4" x2="32.5" y2="413.2" stroke="#e5484d" stroke-width="1.1" />
<line x1="32.5" y1="230.58" x2="29.5" y2="230.58" stroke="#e5484d" stroke-width="1.1" />
<text x="28" y="233.81" font-size="9.8" fill="#e0323a" stroke="#e0323a" stroke-width="0.25" text-anchor="end" font-weight="bold" >90</text>
<line x1="32.5" y1="267.1" x2="29.5" y2="267.1" stroke="#e5484d" stroke-width="1.1" />
<text x="28" y="270.33" font-size="9.8" fill="#e0323a" stroke="#e0323a" stroke-width="0.25" text-anchor="end" font-weight="bold" >60</text>
<line x1="32.5" y1="303.62" x2="29.5" y2="303.62" stroke="#e5484d" stroke-width="1.1" />
<text x="28" y="306.86" font-size="9.8" fill="#e0323a" stroke="#e0323a" stroke-width="0.25" text-anchor="end" font-weight="bold" >30</text>
<line x1="32.5" y1="340.15" x2="29.5" y2="340.15" stroke="#e5484d" stroke-width="1.1" />
<text x="28" y="343.38" font-size="9.8" fill="#e0323a" stroke="#e0323a" stroke-width="0.25" text-anchor="end" font-weight="bold" >0</text>
<line x1="32.5" y1="376.67" x2="29.5" y2="376.67" stroke="#e5484d" stroke-width="1.1" />
<text x="28" y="379.91" font-size="9.8" fill="#e0323a" stroke="#e0323a" stroke-width="0.25" text-anchor="end" font-weight="bold" >-30</text>
<line x1="32.5" y1="413.2" x2="29.5" y2="413.2" stroke="#e5484d" stroke-width="1.1" />
<text x="28" y="416.43" font-size="9.8" fill="#e0323a" stroke="#e0323a" stroke-width="0.25" text-anchor="end" font-weight="bold" >-60</text>
<line x1="32.5" y1="248.84" x2="30.5" y2="248.84" stroke="#e5484d" stroke-width="1.1" />
<line x1="32.5" y1="285.36" x2="30.5" y2="285.36" stroke="#e5484d" stroke-width="1.1" />
<line x1="32.5" y1="321.89" x2="30.5" y2="321.89" stroke="#e5484d" stroke-width="1.1" />
<line x1="32.5" y1="358.41" x2="30.5" y2="358.41" stroke="#e5484d" stroke-width="1.1" />
<line x1="32.5" y1="394.94" x2="30.5" y2="394.94" stroke="#e5484d" stroke-width="1.1" />
<line x1="303.8" y1="218.4" x2="303.8" y2="413.2" stroke="#4a7be0" stroke-width="1.1" />
<line x1="303.8" y1="218.4" x2="306.8" y2="218.4" stroke="#4a7be0" stroke-width="1.1" />
<text x="308.3" y="221.63" font-size="9.8" fill="#4a7be0" stroke="#4a7be0" stroke-width="0.25" text-anchor="start" font-weight="bold" >8.0</text>
<line x1="303.8" y1="249.92" x2="306.8" y2="249.92" stroke="#4a7be0" stroke-width="1.1" />
<text x="308.3" y="253.16" font-size="9.8" fill="#4a7be0" stroke="#4a7be0" stroke-width="0.25" text-anchor="start" font-weight="bold" >7.5</text>
<line x1="303.8" y1="281.44" x2="306.8" y2="281.44" stroke="#4a7be0" stroke-width="1.1" />
<text x="308.3" y="284.68" font-size="9.8" fill="#4a7be0" stroke="#4a7be0" stroke-width="0.25" text-anchor="start" font-weight="bold" >7.0</text>
<line x1="303.8" y1="312.96" x2="306.8" y2="312.96" stroke="#4a7be0" stroke-width="1.1" />
<text x="308.3" y="316.2" font-size="9.8" fill="#4a7be0" stroke="#4a7be0" stroke-width="0.25" text-anchor="start" font-weight="bold" >6.5</text>
<line x1="303.8" y1="344.48" x2="306.8" y2="344.48" stroke="#4a7be0" stroke-width="1.1" />
<text x="308.3" y="347.72" font-size="9.8" fill="#4a7be0" stroke="#4a7be0" stroke-width="0.25" text-anchor="start" font-weight="bold" >6.0</text>
<line x1="303.8" y1="376.01" x2="306.8" y2="376.01" stroke="#4a7be0" stroke-width="1.1" />
<text x="308.3" y="379.24" font-size="9.8" fill="#4a7be0" stroke="#4a7be0" stroke-width="0.25" text-anchor="start" font-weight="bold" >5.5</text>
<line x1="303.8" y1="407.53" x2="306.8" y2="407.53" stroke="#4a7be0" stroke-width="1.1" />
<text x="308.3" y="410.76" font-size="9.8" fill="#4a7be0" stroke="#4a7be0" stroke-width="0.25" text-anchor="start" font-weight="bold" >5.0</text>
<line x1="303.8" y1="234.16" x2="305.8" y2="234.16" stroke="#4a7be0" stroke-width="1.1" />
<line x1="303.8" y1="265.68" x2="305.8" y2="265.68" stroke="#4a7be0" stroke-width="1.1" />
<line x1="303.8" y1="297.2" x2="305.8" y2="297.2" stroke="#4a7be0" stroke-width="1.1" />
<line x1="303.8" y1="328.72" x2="305.8" y2="328.72" stroke="#4a7be0" stroke-width="1.1" />
<line x1="303.8" y1="360.24" x2="305.8" y2="360.24" stroke="#4a7be0" stroke-width="1.1" />
<line x1="303.8" y1="391.77" x2="305.8" y2="391.77" stroke="#4a7be0" stroke-width="1.1" />
<line x1="326.8" y1="218.4" x2="326.8" y2="413.2" stroke="#52b46c" stroke-width="1.1" />
<line x1="326.8" y1="218.4" x2="329.8" y2="218.4" stroke="#52b46c" stroke-width="1.1" />
<text x="331.3" y="221.63" font-size="9.8" fill="#52b46c" stroke="#52b46c" stroke-width="0.25" text-anchor="start" font-weight="bold" >42</text>
<line x1="326.8" y1="250.87" x2="329.8" y2="250.87" stroke="#52b46c" stroke-width="1.1" />
<text x="331.3" y="254.1" font-size="9.8" fill="#52b46c" stroke="#52b46c" stroke-width="0.25" text-anchor="start" font-weight="bold" >36</text>
<line x1="326.8" y1="283.33" x2="329.8" y2="283.33" stroke="#52b46c" stroke-width="1.1" />
<text x="331.3" y="286.57" font-size="9.8" fill="#52b46c" stroke="#52b46c" stroke-width="0.25" text-anchor="start" font-weight="bold" >30</text>
<line x1="326.8" y1="315.8" x2="329.8" y2="315.8" stroke="#52b46c" stroke-width="1.1" />
<text x="331.3" y="319.03" font-size="9.8" fill="#52b46c" stroke="#52b46c" stroke-width="0.25" text-anchor="start" font-weight="bold" >24</text>
<line x1="326.8" y1="348.27" x2="329.8" y2="348.27" stroke="#52b46c" stroke-width="1.1" />
<text x="331.3" y="351.5" font-size="9.8" fill="#52b46c" stroke="#52b46c" stroke-width="0.25" text-anchor="start" font-weight="bold" >18</text>
<line x1="326.8" y1="380.73" x2="329.8" y2="380.73" stroke="#52b46c" stroke-width="1.1" />
<text x="331.3" y="383.97" font-size="9.8" fill="#52b46c" stroke="#52b46c" stroke-width="0.25" text-anchor="start" font-weight="bold" >12</text>
<line x1="326.8" y1="413.2" x2="329.8" y2="413.2" stroke="#52b46c" stroke-width="1.1" />
<text x="331.3" y="416.43" font-size="9.8" fill="#52b46c" stroke="#52b46c" stroke-width="0.25" text-anchor="start" font-weight="bold" >6</text>
<line x1="326.8" y1="234.63" x2="328.8" y2="234.63" stroke="#52b46c" stroke-width="1.1" />
<line x1="326.8" y1="267.1" x2="328.8" y2="267.1" stroke="#52b46c" stroke-width="1.1" />
<line x1="326.8" y1="299.57" x2="328.8" y2="299.57" stroke="#52b46c" stroke-width="1.1" />
<line x1="326.8" y1="332.03" x2="328.8" y2="332.03" stroke="#52b46c" stroke-width="1.1" />
<line x1="326.8" y1="364.5" x2="328.8" y2="364.5" stroke="#52b46c" stroke-width="1.1" />
<line x1="326.8" y1="396.97" x2="328.8" y2="396.97" stroke="#52b46c" stroke-width="1.1" />
<line x1="67.5" y1="369.6" x2="82.3" y2="369.6" stroke="#3c3c3c" stroke-width="0.9" />
<circle cx="74.9" cy="369.6" r="2.4" fill="#3c3c3c"/>
<text x="84.8" y="372.01" font-size="7.3" fill="#111" stroke="#111" stroke-width="0.25" text-anchor="start" font-weight="bold" >PM<tspan dy="2" font-size="6">2.5</tspan><tspan dy="-2"> (µg m<tspan dy="-3" font-size="6">-3</tspan><tspan dy="3">)</tspan></tspan></text>
<line x1="67.5" y1="381.5" x2="82.3" y2="381.5" stroke="#e8353c" stroke-width="0.9" />
<path d="M74.9 378.35L77.75 381.5L74.9 384.65L72.05 381.5Z" fill="#e8353c"/>
<text x="84.8" y="383.91" font-size="7.3" fill="#111" stroke="#111" stroke-width="0.25" text-anchor="start" font-weight="bold" >O<tspan dy="2" font-size="6">3</tspan><tspan dy="-2"> (µg m<tspan dy="-3" font-size="6">-3</tspan><tspan dy="3">)</tspan></tspan></text>
<line x1="67.5" y1="393.4" x2="82.3" y2="393.4" stroke="#3a6ee6" stroke-width="0.9" />
<polygon points="74.9,390.4 75.69,392.31 77.75,392.47 76.18,393.82 76.66,395.83 74.9,394.75 73.14,395.83 73.62,393.82 72.05,392.47 74.11,392.31" fill="#3a6ee6"/>
<text x="84.8" y="395.81" font-size="7.3" fill="#111" stroke="#111" stroke-width="0.25" text-anchor="start" font-weight="bold" >SO<tspan dy="2" font-size="6">2</tspan><tspan dy="-2"> (µg m<tspan dy="-3" font-size="6">-3</tspan><tspan dy="3">)</tspan></tspan></text>
<line x1="67.5" y1="405.3" x2="82.3" y2="405.3" stroke="#4cb865" stroke-width="0.9" />
<path d="M74.9 402.34L77.8 407.44L72 407.44Z" fill="#4cb865"/>
<text x="84.8" y="407.71" font-size="7.3" fill="#111" stroke="#111" stroke-width="0.25" text-anchor="start" font-weight="bold" >NO<tspan dy="2" font-size="6">2</tspan><tspan dy="-2"> (µg m<tspan dy="-3" font-size="6">-3</tspan><tspan dy="3">)</tspan></tspan></text>
<polyline points="391.6,290.9 401.72,291.5 411.84,286.4 421.96,289 432.08,288.4 442.2,288.6 452.32,282.7 462.44,279 472.56,275.9 482.68,277.8 492.8,276.5 502.92,272 513.04,267.9 523.16,282.7 533.28,302.2 543.4,311.2 553.52,309.7 563.64,298.8 573.76,299.8 583.88,285 594,257.4 604.12,237.1 614.24,254.8 624.36,274.5" fill="none" stroke="#3c3c3c" stroke-width="0.8" stroke-linejoin="round" />
<circle cx="391.6" cy="290.9" r="2.4" fill="#3c3c3c"/>
<circle cx="401.72" cy="291.5" r="2.4" fill="#3c3c3c"/>
<circle cx="411.84" cy="286.4" r="2.4" fill="#3c3c3c"/>
<circle cx="421.96" cy="289" r="2.4" fill="#3c3c3c"/>
<circle cx="432.08" cy="288.4" r="2.4" fill="#3c3c3c"/>
<circle cx="442.2" cy="288.6" r="2.4" fill="#3c3c3c"/>
<circle cx="452.32" cy="282.7" r="2.4" fill="#3c3c3c"/>
<circle cx="462.44" cy="279" r="2.4" fill="#3c3c3c"/>
<circle cx="472.56" cy="275.9" r="2.4" fill="#3c3c3c"/>
<circle cx="482.68" cy="277.8" r="2.4" fill="#3c3c3c"/>
<circle cx="492.8" cy="276.5" r="2.4" fill="#3c3c3c"/>
<circle cx="502.92" cy="272" r="2.4" fill="#3c3c3c"/>
<circle cx="513.04" cy="267.9" r="2.4" fill="#3c3c3c"/>
<circle cx="523.16" cy="282.7" r="2.4" fill="#3c3c3c"/>
<circle cx="533.28" cy="302.2" r="2.4" fill="#3c3c3c"/>
<circle cx="543.4" cy="311.2" r="2.4" fill="#3c3c3c"/>
<circle cx="553.52" cy="309.7" r="2.4" fill="#3c3c3c"/>
<circle cx="563.64" cy="298.8" r="2.4" fill="#3c3c3c"/>
<circle cx="573.76" cy="299.8" r="2.4" fill="#3c3c3c"/>
<circle cx="583.88" cy="285" r="2.4" fill="#3c3c3c"/>
<circle cx="594" cy="257.4" r="2.4" fill="#3c3c3c"/>
<circle cx="604.12" cy="237.1" r="2.4" fill="#3c3c3c"/>
<circle cx="614.24" cy="254.8" r="2.4" fill="#3c3c3c"/>
<circle cx="624.36" cy="274.5" r="2.4" fill="#3c3c3c"/>
<polyline points="391.6,301.3 401.72,296.6 411.84,297.5 421.96,298.9 432.08,304.2 442.2,300.4 452.32,300.4 462.44,311.8 472.56,312.2 482.68,310.4 492.8,300 502.92,289.2 513.04,270.6 523.16,257.4 533.28,242.6 543.4,234.7 553.52,233.7 563.64,241.2 573.76,256.8 583.88,270.8 594,294.9 604.12,314.7 614.24,313.2 624.36,314.7" fill="none" stroke="#e8353c" stroke-width="0.8" stroke-linejoin="round" />
<path d="M391.6 298.15L394.45 301.3L391.6 304.45L388.75 301.3Z" fill="#e8353c"/>
<path d="M401.72 293.45L404.57 296.6L401.72 299.75L398.87 296.6Z" fill="#e8353c"/>
<path d="M411.84 294.35L414.69 297.5L411.84 300.65L408.99 297.5Z" fill="#e8353c"/>
<path d="M421.96 295.75L424.81 298.9L421.96 302.05L419.11 298.9Z" fill="#e8353c"/>
<path d="M432.08 301.05L434.93 304.2L432.08 307.35L429.23 304.2Z" fill="#e8353c"/>
<path d="M442.2 297.25L445.05 300.4L442.2 303.55L439.35 300.4Z" fill="#e8353c"/>
<path d="M452.32 297.25L455.17 300.4L452.32 303.55L449.47 300.4Z" fill="#e8353c"/>
<path d="M462.44 308.65L465.29 311.8L462.44 314.95L459.59 311.8Z" fill="#e8353c"/>
<path d="M472.56 309.05L475.41 312.2L472.56 315.35L469.71 312.2Z" fill="#e8353c"/>
<path d="M482.68 307.25L485.53 310.4L482.68 313.55L479.83 310.4Z" fill="#e8353c"/>
<path d="M492.8 296.85L495.65 300L492.8 303.15L489.95 300Z" fill="#e8353c"/>
<path d="M502.92 286.05L505.77 289.2L502.92 292.35L500.07 289.2Z" fill="#e8353c"/>
<path d="M513.04 267.45L515.89 270.6L513.04 273.75L510.19 270.6Z" fill="#e8353c"/>
<path d="M523.16 254.25L526.01 257.4L523.16 260.55L520.31 257.4Z" fill="#e8353c"/>
<path d="M533.28 239.45L536.13 242.6L533.28 245.75L530.43 242.6Z" fill="#e8353c"/>
<path d="M543.4 231.55L546.25 234.7L543.4 237.85L540.55 234.7Z" fill="#e8353c"/>
<path d="M553.52 230.55L556.37 233.7L553.52 236.85L550.67 233.7Z" fill="#e8353c"/>
<path d="M563.64 238.05L566.49 241.2L563.64 244.35L560.79 241.2Z" fill="#e8353c"/>
<path d="M573.76 253.65L576.61 256.8L573.76 259.95L570.91 256.8Z" fill="#e8353c"/>
<path d="M583.88 267.65L586.73 270.8L583.88 273.95L581.03 270.8Z" fill="#e8353c"/>
<path d="M594 291.75L596.85 294.9L594 298.05L591.15 294.9Z" fill="#e8353c"/>
<path d="M604.12 311.55L606.97 314.7L604.12 317.85L601.27 314.7Z" fill="#e8353c"/>
<path d="M614.24 310.05L617.09 313.2L614.24 316.35L611.39 313.2Z" fill="#e8353c"/>
<path d="M624.36 311.55L627.21 314.7L624.36 317.85L621.51 314.7Z" fill="#e8353c"/>
<polyline points="391.6,380.6 401.72,374 411.84,406.6 421.96,386.7 432.08,393.5 442.2,377.2 452.32,361.1 462.44,361.1 472.56,361.1 482.68,348.4 492.8,309.2 502.92,309.2 513.04,335.1 523.16,374.3 533.28,374.3 543.4,406.8 553.52,380.5 563.64,374.3 573.76,380.8 583.88,380.8 594,374.3 604.12,380.8 614.24,374.3 624.36,393.8" fill="none" stroke="#3a6ee6" stroke-width="0.8" stroke-linejoin="round" />
<polygon points="391.6,377.6 392.39,379.51 394.45,379.67 392.88,381.02 393.36,383.03 391.6,381.95 389.84,383.03 390.32,381.02 388.75,379.67 390.81,379.51" fill="#3a6ee6"/>
<polygon points="401.72,371 402.51,372.91 404.57,373.07 403,374.42 403.48,376.43 401.72,375.35 399.96,376.43 400.44,374.42 398.87,373.07 400.93,372.91" fill="#3a6ee6"/>
<polygon points="411.84,403.6 412.63,405.51 414.69,405.67 413.12,407.02 413.6,409.03 411.84,407.95 410.08,409.03 410.56,407.02 408.99,405.67 411.05,405.51" fill="#3a6ee6"/>
<polygon points="421.96,383.7 422.75,385.61 424.81,385.77 423.24,387.12 423.72,389.13 421.96,388.05 420.2,389.13 420.68,387.12 419.11,385.77 421.17,385.61" fill="#3a6ee6"/>
<polygon points="432.08,390.5 432.87,392.41 434.93,392.57 433.36,393.92 433.84,395.93 432.08,394.85 430.32,395.93 430.8,393.92 429.23,392.57 431.29,392.41" fill="#3a6ee6"/>
<polygon points="442.2,374.2 442.99,376.11 445.05,376.27 443.48,377.62 443.96,379.63 442.2,378.55 440.44,379.63 440.92,377.62 439.35,376.27 441.41,376.11" fill="#3a6ee6"/>
<polygon points="452.32,358.1 453.11,360.01 455.17,360.17 453.6,361.52 454.08,363.53 452.32,362.45 450.56,363.53 451.04,361.52 449.47,360.17 451.53,360.01" fill="#3a6ee6"/>
<polygon points="462.44,358.1 463.23,360.01 465.29,360.17 463.72,361.52 464.2,363.53 462.44,362.45 460.68,363.53 461.16,361.52 459.59,360.17 461.65,360.01" fill="#3a6ee6"/>
<polygon points="472.56,358.1 473.35,360.01 475.41,360.17 473.84,361.52 474.32,363.53 472.56,362.45 470.8,363.53 471.28,361.52 469.71,360.17 471.77,360.01" fill="#3a6ee6"/>
<polygon points="482.68,345.4 483.47,347.31 485.53,347.47 483.96,348.82 484.44,350.83 482.68,349.75 480.92,350.83 481.4,348.82 479.83,347.47 481.89,347.31" fill="#3a6ee6"/>
<polygon points="492.8,306.2 493.59,308.11 495.65,308.27 494.08,309.62 494.56,311.63 492.8,310.55 491.04,311.63 491.52,309.62 489.95,308.27 492.01,308.11" fill="#3a6ee6"/>
<polygon points="502.92,306.2 503.71,308.11 505.77,308.27 504.2,309.62 504.68,311.63 502.92,310.55 501.16,311.63 501.64,309.62 500.07,308.27 502.13,308.11" fill="#3a6ee6"/>
<polygon points="513.04,332.1 513.83,334.01 515.89,334.17 514.32,335.52 514.8,337.53 513.04,336.45 511.28,337.53 511.76,335.52 510.19,334.17 512.25,334.01" fill="#3a6ee6"/>
<polygon points="523.16,371.3 523.95,373.21 526.01,373.37 524.44,374.72 524.92,376.73 523.16,375.65 521.4,376.73 521.88,374.72 520.31,373.37 522.37,373.21" fill="#3a6ee6"/>
<polygon points="533.28,371.3 534.07,373.21 536.13,373.37 534.56,374.72 535.04,376.73 533.28,375.65 531.52,376.73 532,374.72 530.43,373.37 532.49,373.21" fill="#3a6ee6"/>
<polygon points="543.4,403.8 544.19,405.71 546.25,405.87 544.68,407.22 545.16,409.23 543.4,408.15 541.64,409.23 542.12,407.22 540.55,405.87 542.61,405.71" fill="#3a6ee6"/>
<polygon points="553.52,377.5 554.31,379.41 556.37,379.57 554.8,380.92 555.28,382.93 553.52,381.85 551.76,382.93 552.24,380.92 550.67,379.57 552.73,379.41" fill="#3a6ee6"/>
<polygon points="563.64,371.3 564.43,373.21 566.49,373.37 564.92,374.72 565.4,376.73 563.64,375.65 561.88,376.73 562.36,374.72 560.79,373.37 562.85,373.21" fill="#3a6ee6"/>
<polygon points="573.76,377.8 574.55,379.71 576.61,379.87 575.04,381.22 575.52,383.23 573.76,382.15 572,383.23 572.48,381.22 570.91,379.87 572.97,379.71" fill="#3a6ee6"/>
<polygon points="583.88,377.8 584.67,379.71 586.73,379.87 585.16,381.22 585.64,383.23 583.88,382.15 582.12,383.23 582.6,381.22 581.03,379.87 583.09,379.71" fill="#3a6ee6"/>
<polygon points="594,371.3 594.79,373.21 596.85,373.37 595.28,374.72 595.76,376.73 594,375.65 592.24,376.73 592.72,374.72 591.15,373.37 593.21,373.21" fill="#3a6ee6"/>
<polygon points="604.12,377.8 604.91,379.71 606.97,379.87 605.4,381.22 605.88,383.23 604.12,382.15 602.36,383.23 602.84,381.22 601.27,379.87 603.33,379.71" fill="#3a6ee6"/>
<polygon points="614.24,371.3 615.03,373.21 617.09,373.37 615.52,374.72 616,376.73 614.24,375.65 612.48,376.73 612.96,374.72 611.39,373.37 613.45,373.21" fill="#3a6ee6"/>
<polygon points="624.36,390.8 625.15,392.71 627.21,392.87 625.64,394.22 626.12,396.23 624.36,395.15 622.6,396.23 623.08,394.22 621.51,392.87 623.57,392.71" fill="#3a6ee6"/>
<polyline points="391.6,356.4 401.72,367.7 411.84,381 421.96,386.7 432.08,384.4 442.2,392.4 452.32,395.4 462.44,381.6 472.56,378.4 482.68,370.8 492.8,380.3 502.92,380.9 513.04,383.8 523.16,392.3 533.28,401 543.4,397.6 553.52,382.8 563.64,352.7 573.76,334.9 583.88,335.5 594,310.8 604.12,300.6 614.24,314.4 624.36,325" fill="none" stroke="#4cb865" stroke-width="0.8" stroke-linejoin="round" />
<path d="M391.6 353.44L394.5 358.54L388.7 358.54Z" fill="#4cb865"/>
<path d="M401.72 364.74L404.62 369.84L398.82 369.84Z" fill="#4cb865"/>
<path d="M411.84 378.04L414.74 383.14L408.94 383.14Z" fill="#4cb865"/>
<path d="M421.96 383.74L424.86 388.84L419.06 388.84Z" fill="#4cb865"/>
<path d="M432.08 381.44L434.98 386.54L429.18 386.54Z" fill="#4cb865"/>
<path d="M442.2 389.44L445.1 394.54L439.3 394.54Z" fill="#4cb865"/>
<path d="M452.32 392.44L455.22 397.54L449.42 397.54Z" fill="#4cb865"/>
<path d="M462.44 378.64L465.34 383.74L459.54 383.74Z" fill="#4cb865"/>
<path d="M472.56 375.44L475.46 380.54L469.66 380.54Z" fill="#4cb865"/>
<path d="M482.68 367.84L485.58 372.94L479.78 372.94Z" fill="#4cb865"/>
<path d="M492.8 377.34L495.7 382.44L489.9 382.44Z" fill="#4cb865"/>
<path d="M502.92 377.94L505.82 383.04L500.02 383.04Z" fill="#4cb865"/>
<path d="M513.04 380.84L515.94 385.94L510.14 385.94Z" fill="#4cb865"/>
<path d="M523.16 389.34L526.06 394.44L520.26 394.44Z" fill="#4cb865"/>
<path d="M533.28 398.04L536.18 403.14L530.38 403.14Z" fill="#4cb865"/>
<path d="M543.4 394.64L546.3 399.74L540.5 399.74Z" fill="#4cb865"/>
<path d="M553.52 379.84L556.42 384.94L550.62 384.94Z" fill="#4cb865"/>
<path d="M563.64 349.74L566.54 354.84L560.74 354.84Z" fill="#4cb865"/>
<path d="M573.76 331.94L576.66 337.04L570.86 337.04Z" fill="#4cb865"/>
<path d="M583.88 332.54L586.78 337.64L580.98 337.64Z" fill="#4cb865"/>
<path d="M594 307.84L596.9 312.94L591.1 312.94Z" fill="#4cb865"/>
<path d="M604.12 297.64L607.02 302.74L601.22 302.74Z" fill="#4cb865"/>
<path d="M614.24 311.44L617.14 316.54L611.34 316.54Z" fill="#4cb865"/>
<path d="M624.36 322.04L627.26 327.14L621.46 327.14Z" fill="#4cb865"/>
<line x1="381.5" y1="218.4" x2="634.5" y2="218.4" stroke="#4a4a4a" stroke-width="1.2" />
<line x1="381.5" y1="413.2" x2="634.5" y2="413.2" stroke="#4a4a4a" stroke-width="1.2" />
<line x1="391.6" y1="413.2" x2="391.6" y2="417.2" stroke="#4a4a4a" stroke-width="1.1" />
<text x="391.6" y="428.57" font-size="9.6" fill="#1a1a1a" stroke="#1a1a1a" stroke-width="0.25" text-anchor="middle" font-weight="bold" >0</text>
<line x1="411.84" y1="413.2" x2="411.84" y2="417.2" stroke="#4a4a4a" stroke-width="1.1" />
<text x="411.84" y="428.57" font-size="9.6" fill="#1a1a1a" stroke="#1a1a1a" stroke-width="0.25" text-anchor="middle" font-weight="bold" >2</text>
<line x1="432.08" y1="413.2" x2="432.08" y2="417.2" stroke="#4a4a4a" stroke-width="1.1" />
<text x="432.08" y="428.57" font-size="9.6" fill="#1a1a1a" stroke="#1a1a1a" stroke-width="0.25" text-anchor="middle" font-weight="bold" >4</text>
<line x1="452.32" y1="413.2" x2="452.32" y2="417.2" stroke="#4a4a4a" stroke-width="1.1" />
<text x="452.32" y="428.57" font-size="9.6" fill="#1a1a1a" stroke="#1a1a1a" stroke-width="0.25" text-anchor="middle" font-weight="bold" >6</text>
<line x1="472.56" y1="413.2" x2="472.56" y2="417.2" stroke="#4a4a4a" stroke-width="1.1" />
<text x="472.56" y="428.57" font-size="9.6" fill="#1a1a1a" stroke="#1a1a1a" stroke-width="0.25" text-anchor="middle" font-weight="bold" >8</text>
<line x1="492.8" y1="413.2" x2="492.8" y2="417.2" stroke="#4a4a4a" stroke-width="1.1" />
<text x="492.8" y="428.57" font-size="9.6" fill="#1a1a1a" stroke="#1a1a1a" stroke-width="0.25" text-anchor="middle" font-weight="bold" >10</text>
<line x1="513.04" y1="413.2" x2="513.04" y2="417.2" stroke="#4a4a4a" stroke-width="1.1" />
<text x="513.04" y="428.57" font-size="9.6" fill="#1a1a1a" stroke="#1a1a1a" stroke-width="0.25" text-anchor="middle" font-weight="bold" >12</text>
<line x1="533.28" y1="413.2" x2="533.28" y2="417.2" stroke="#4a4a4a" stroke-width="1.1" />
<text x="533.28" y="428.57" font-size="9.6" fill="#1a1a1a" stroke="#1a1a1a" stroke-width="0.25" text-anchor="middle" font-weight="bold" >14</text>
<line x1="553.52" y1="413.2" x2="553.52" y2="417.2" stroke="#4a4a4a" stroke-width="1.1" />
<text x="553.52" y="428.57" font-size="9.6" fill="#1a1a1a" stroke="#1a1a1a" stroke-width="0.25" text-anchor="middle" font-weight="bold" >16</text>
<line x1="573.76" y1="413.2" x2="573.76" y2="417.2" stroke="#4a4a4a" stroke-width="1.1" />
<text x="573.76" y="428.57" font-size="9.6" fill="#1a1a1a" stroke="#1a1a1a" stroke-width="0.25" text-anchor="middle" font-weight="bold" >18</text>
<line x1="594" y1="413.2" x2="594" y2="417.2" stroke="#4a4a4a" stroke-width="1.1" />
<text x="594" y="428.57" font-size="9.6" fill="#1a1a1a" stroke="#1a1a1a" stroke-width="0.25" text-anchor="middle" font-weight="bold" >20</text>
<line x1="614.24" y1="413.2" x2="614.24" y2="417.2" stroke="#4a4a4a" stroke-width="1.1" />
<text x="614.24" y="428.57" font-size="9.6" fill="#1a1a1a" stroke="#1a1a1a" stroke-width="0.25" text-anchor="middle" font-weight="bold" >22</text>
<line x1="634.48" y1="413.2" x2="634.48" y2="417.2" stroke="#4a4a4a" stroke-width="1.1" />
<text x="634.48" y="428.57" font-size="9.6" fill="#1a1a1a" stroke="#1a1a1a" stroke-width="0.25" text-anchor="middle" font-weight="bold" >24</text>
<text x="508.1" y="440.12" font-size="12.5" fill="#111" stroke="#111" stroke-width="0.25" text-anchor="middle" font-weight="bold" >Time</text>
<text x="396.7" y="236.08" font-size="11.75" fill="#111" stroke="#111" stroke-width="0.25" text-anchor="start" font-weight="bold" >(d) Winter</text>
<line x1="381.5" y1="218.4" x2="381.5" y2="413.2" stroke="#4a4a4a" stroke-width="1.1" />
<line x1="381.5" y1="218.4" x2="378.5" y2="218.4" stroke="#4a4a4a" stroke-width="1.1" />
<text x="377" y="221.63" font-size="9.8" fill="#222" stroke="#222" stroke-width="0.25" text-anchor="end" font-weight="bold" >55</text>
<line x1="381.5" y1="246.23" x2="378.5" y2="246.23" stroke="#4a4a4a" stroke-width="1.1" />
<text x="377" y="249.46" font-size="9.8" fill="#222" stroke="#222" stroke-width="0.25" text-anchor="end" font-weight="bold" >50</text>
<line x1="381.5" y1="274.06" x2="378.5" y2="274.06" stroke="#4a4a4a" stroke-width="1.1" />
<text x="377" y="277.29" font-size="9.8" fill="#222" stroke="#222" stroke-width="0.25" text-anchor="end" font-weight="bold" >45</text>
<line x1="381.5" y1="301.89" x2="378.5" y2="301.89" stroke="#4a4a4a" stroke-width="1.1" />
<text x="377" y="305.12" font-size="9.8" fill="#222" stroke="#222" stroke-width="0.25" text-anchor="end" font-weight="bold" >40</text>
<line x1="381.5" y1="329.71" x2="378.5" y2="329.71" stroke="#4a4a4a" stroke-width="1.1" />
<text x="377" y="332.95" font-size="9.8" fill="#222" stroke="#222" stroke-width="0.25" text-anchor="end" font-weight="bold" >35</text>
<line x1="381.5" y1="357.54" x2="378.5" y2="357.54" stroke="#4a4a4a" stroke-width="1.1" />
<text x="377" y="360.78" font-size="9.8" fill="#222" stroke="#222" stroke-width="0.25" text-anchor="end" font-weight="bold" >30</text>
<line x1="381.5" y1="385.37" x2="378.5" y2="385.37" stroke="#4a4a4a" stroke-width="1.1" />
<text x="377" y="388.61" font-size="9.8" fill="#222" stroke="#222" stroke-width="0.25" text-anchor="end" font-weight="bold" >25</text>
<line x1="381.5" y1="413.2" x2="378.5" y2="413.2" stroke="#4a4a4a" stroke-width="1.1" />
<text x="377" y="416.43" font-size="9.8" fill="#222" stroke="#222" stroke-width="0.25" text-anchor="end" font-weight="bold" >20</text>
<line x1="381.5" y1="232.31" x2="379.5" y2="232.31" stroke="#4a4a4a" stroke-width="1.1" />
<line x1="381.5" y1="260.14" x2="379.5" y2="260.14" stroke="#4a4a4a" stroke-width="1.1" />
<line x1="381.5" y1="287.97" x2="379.5" y2="287.97" stroke="#4a4a4a" stroke-width="1.1" />
<line x1="381.5" y1="315.8" x2="379.5" y2="315.8" stroke="#4a4a4a" stroke-width="1.1" />
<line x1="381.5" y1="343.63" x2="379.5" y2="343.63" stroke="#4a4a4a" stroke-width="1.1" />
<line x1="381.5" y1="371.46" x2="379.5" y2="371.46" stroke="#4a4a4a" stroke-width="1.1" />
<line x1="381.5" y1="399.29" x2="379.5" y2="399.29" stroke="#4a4a4a" stroke-width="1.1" />
<line x1="361.6" y1="218.4" x2="361.6" y2="413.2" stroke="#e5484d" stroke-width="1.1" />
<line x1="361.6" y1="243.54" x2="358.6" y2="243.54" stroke="#e5484d" stroke-width="1.1" />
<text x="357.1" y="246.77" font-size="9.8" fill="#e0323a" stroke="#e0323a" stroke-width="0.25" text-anchor="end" font-weight="bold" >120</text>
<line x1="361.6" y1="281.24" x2="358.6" y2="281.24" stroke="#e5484d" stroke-width="1.1" />
<text x="357.1" y="284.47" font-size="9.8" fill="#e0323a" stroke="#e0323a" stroke-width="0.25" text-anchor="end" font-weight="bold" >90</text>
<line x1="361.6" y1="318.94" x2="358.6" y2="318.94" stroke="#e5484d" stroke-width="1.1" />
<text x="357.1" y="322.18" font-size="9.8" fill="#e0323a" stroke="#e0323a" stroke-width="0.25" text-anchor="end" font-weight="bold" >60</text>
<line x1="361.6" y1="356.65" x2="358.6" y2="356.65" stroke="#e5484d" stroke-width="1.1" />
<text x="357.1" y="359.88" font-size="9.8" fill="#e0323a" stroke="#e0323a" stroke-width="0.25" text-anchor="end" font-weight="bold" >30</text>
<line x1="361.6" y1="394.35" x2="358.6" y2="394.35" stroke="#e5484d" stroke-width="1.1" />
<text x="357.1" y="397.58" font-size="9.8" fill="#e0323a" stroke="#e0323a" stroke-width="0.25" text-anchor="end" font-weight="bold" >0</text>
<line x1="361.6" y1="224.68" x2="359.6" y2="224.68" stroke="#e5484d" stroke-width="1.1" />
<line x1="361.6" y1="262.39" x2="359.6" y2="262.39" stroke="#e5484d" stroke-width="1.1" />
<line x1="361.6" y1="300.09" x2="359.6" y2="300.09" stroke="#e5484d" stroke-width="1.1" />
<line x1="361.6" y1="337.79" x2="359.6" y2="337.79" stroke="#e5484d" stroke-width="1.1" />
<line x1="361.6" y1="375.5" x2="359.6" y2="375.5" stroke="#e5484d" stroke-width="1.1" />
<line x1="634.5" y1="218.4" x2="634.5" y2="413.2" stroke="#4a7be0" stroke-width="1.1" />
<line x1="634.5" y1="237.88" x2="637.5" y2="237.88" stroke="#4a7be0" stroke-width="1.1" />
<text x="639" y="241.11" font-size="9.8" fill="#4a7be0" stroke="#4a7be0" stroke-width="0.25" text-anchor="start" font-weight="bold" >9.0</text>
<line x1="634.5" y1="276.84" x2="637.5" y2="276.84" stroke="#4a7be0" stroke-width="1.1" />
<text x="639" y="280.07" font-size="9.8" fill="#4a7be0" stroke="#4a7be0" stroke-width="0.25" text-anchor="start" font-weight="bold" >8.5</text>
<line x1="634.5" y1="315.8" x2="637.5" y2="315.8" stroke="#4a7be0" stroke-width="1.1" />
<text x="639" y="319.03" font-size="9.8" fill="#4a7be0" stroke="#4a7be0" stroke-width="0.25" text-anchor="start" font-weight="bold" >8.0</text>
<line x1="634.5" y1="354.76" x2="637.5" y2="354.76" stroke="#4a7be0" stroke-width="1.1" />
<text x="639" y="357.99" font-size="9.8" fill="#4a7be0" stroke="#4a7be0" stroke-width="0.25" text-anchor="start" font-weight="bold" >7.5</text>
<line x1="634.5" y1="393.72" x2="637.5" y2="393.72" stroke="#4a7be0" stroke-width="1.1" />
<text x="639" y="396.95" font-size="9.8" fill="#4a7be0" stroke="#4a7be0" stroke-width="0.25" text-anchor="start" font-weight="bold" >7.0</text>
<line x1="634.5" y1="257.36" x2="636.5" y2="257.36" stroke="#4a7be0" stroke-width="1.1" />
<line x1="634.5" y1="296.32" x2="636.5" y2="296.32" stroke="#4a7be0" stroke-width="1.1" />
<line x1="634.5" y1="335.28" x2="636.5" y2="335.28" stroke="#4a7be0" stroke-width="1.1" />
<line x1="634.5" y1="374.24" x2="636.5" y2="374.24" stroke="#4a7be0" stroke-width="1.1" />
<line x1="657.8" y1="218.4" x2="657.8" y2="413.2" stroke="#52b46c" stroke-width="1.1" />
<line x1="657.8" y1="218.4" x2="660.8" y2="218.4" stroke="#52b46c" stroke-width="1.1" />
<text x="662.3" y="221.63" font-size="9.8" fill="#52b46c" stroke="#52b46c" stroke-width="0.25" text-anchor="start" font-weight="bold" >90</text>
<line x1="657.8" y1="246.23" x2="660.8" y2="246.23" stroke="#52b46c" stroke-width="1.1" />
<text x="662.3" y="249.46" font-size="9.8" fill="#52b46c" stroke="#52b46c" stroke-width="0.25" text-anchor="start" font-weight="bold" >80</text>
<line x1="657.8" y1="274.06" x2="660.8" y2="274.06" stroke="#52b46c" stroke-width="1.1" />
<text x="662.3" y="277.29" font-size="9.8" fill="#52b46c" stroke="#52b46c" stroke-width="0.25" text-anchor="start" font-weight="bold" >70</text>
<line x1="657.8" y1="301.89" x2="660.8" y2="301.89" stroke="#52b46c" stroke-width="1.1" />
<text x="662.3" y="305.12" font-size="9.8" fill="#52b46c" stroke="#52b46c" stroke-width="0.25" text-anchor="start" font-weight="bold" >60</text>
<line x1="657.8" y1="329.71" x2="660.8" y2="329.71" stroke="#52b46c" stroke-width="1.1" />
<text x="662.3" y="332.95" font-size="9.8" fill="#52b46c" stroke="#52b46c" stroke-width="0.25" text-anchor="start" font-weight="bold" >50</text>
<line x1="657.8" y1="357.54" x2="660.8" y2="357.54" stroke="#52b46c" stroke-width="1.1" />
<text x="662.3" y="360.78" font-size="9.8" fill="#52b46c" stroke="#52b46c" stroke-width="0.25" text-anchor="start" font-weight="bold" >40</text>
<line x1="657.8" y1="385.37" x2="660.8" y2="385.37" stroke="#52b46c" stroke-width="1.1" />
<text x="662.3" y="388.61" font-size="9.8" fill="#52b46c" stroke="#52b46c" stroke-width="0.25" text-anchor="start" font-weight="bold" >30</text>
<line x1="657.8" y1="413.2" x2="660.8" y2="413.2" stroke="#52b46c" stroke-width="1.1" />
<text x="662.3" y="416.43" font-size="9.8" fill="#52b46c" stroke="#52b46c" stroke-width="0.25" text-anchor="start" font-weight="bold" >20</text>
<line x1="657.8" y1="232.31" x2="659.8" y2="232.31" stroke="#52b46c" stroke-width="1.1" />
<line x1="657.8" y1="260.14" x2="659.8" y2="260.14" stroke="#52b46c" stroke-width="1.1" />
<line x1="657.8" y1="287.97" x2="659.8" y2="287.97" stroke="#52b46c" stroke-width="1.1" />
<line x1="657.8" y1="315.8" x2="659.8" y2="315.8" stroke="#52b46c" stroke-width="1.1" />
<line x1="657.8" y1="343.63" x2="659.8" y2="343.63" stroke="#52b46c" stroke-width="1.1" />
<line x1="657.8" y1="371.46" x2="659.8" y2="371.46" stroke="#52b46c" stroke-width="1.1" />
<line x1="657.8" y1="399.29" x2="659.8" y2="399.29" stroke="#52b46c" stroke-width="1.1" />
<line x1="392" y1="315.2" x2="408.5" y2="315.2" stroke="#3c3c3c" stroke-width="0.9" />
<circle cx="400.25" cy="315.2" r="2.4" fill="#3c3c3c"/>
<text x="411" y="317.71" font-size="7.6" fill="#111" stroke="#111" stroke-width="0.25" text-anchor="start" font-weight="bold" >PM<tspan dy="2" font-size="6">2.5</tspan><tspan dy="-2"> (µg m<tspan dy="-3" font-size="6">-3</tspan><tspan dy="3">)</tspan></tspan></text>
<line x1="392" y1="327.9" x2="408.5" y2="327.9" stroke="#e8353c" stroke-width="0.9" />
<path d="M400.25 324.75L403.1 327.9L400.25 331.05L397.4 327.9Z" fill="#e8353c"/>
<text x="411" y="330.41" font-size="7.6" fill="#111" stroke="#111" stroke-width="0.25" text-anchor="start" font-weight="bold" >O<tspan dy="2" font-size="6">3</tspan><tspan dy="-2"> (µg m<tspan dy="-3" font-size="6">-3</tspan><tspan dy="3">)</tspan></tspan></text>
<line x1="392" y1="340.6" x2="408.5" y2="340.6" stroke="#3a6ee6" stroke-width="0.9" />
<polygon points="400.25,337.6 401.04,339.51 403.1,339.67 401.53,341.02 402.01,343.03 400.25,341.95 398.49,343.03 398.97,341.02 397.4,339.67 399.46,339.51" fill="#3a6ee6"/>
<text x="411" y="343.11" font-size="7.6" fill="#111" stroke="#111" stroke-width="0.25" text-anchor="start" font-weight="bold" >SO<tspan dy="2" font-size="6">2</tspan><tspan dy="-2"> (µg m<tspan dy="-3" font-size="6">-3</tspan><tspan dy="3">)</tspan></tspan></text>
<line x1="392" y1="353.3" x2="408.5" y2="353.3" stroke="#4cb865" stroke-width="0.9" />
<path d="M400.25 350.34L403.15 355.44L397.35 355.44Z" fill="#4cb865"/>
<text x="411" y="355.81" font-size="7.6" fill="#111" stroke="#111" stroke-width="0.25" text-anchor="start" font-weight="bold" >NO<tspan dy="2" font-size="6">2</tspan><tspan dy="-2"> (µg m<tspan dy="-3" font-size="6">-3</tspan><tspan dy="3">)</tspan></tspan></text>
</g>
<line x1="73.7" y1="448.2" x2="73.7" y2="668.4" stroke="#b3b3b3" stroke-width="0.9" stroke-dasharray="4.3 3.3" stroke-dashoffset="0.4"/>
<line x1="110.66" y1="448.2" x2="110.66" y2="668.4" stroke="#b3b3b3" stroke-width="0.9" stroke-dasharray="4.3 3.3" stroke-dashoffset="0.4"/>
<line x1="147.62" y1="448.2" x2="147.62" y2="668.4" stroke="#b3b3b3" stroke-width="0.9" stroke-dasharray="4.3 3.3" stroke-dashoffset="0.4"/>
<line x1="184.58" y1="448.2" x2="184.58" y2="668.4" stroke="#b3b3b3" stroke-width="0.9" stroke-dasharray="4.3 3.3" stroke-dashoffset="0.4"/>
<line x1="221.54" y1="448.2" x2="221.54" y2="668.4" stroke="#b3b3b3" stroke-width="0.9" stroke-dasharray="4.3 3.3" stroke-dashoffset="0.4"/>
<line x1="258.5" y1="448.2" x2="258.5" y2="668.4" stroke="#b3b3b3" stroke-width="0.9" stroke-dasharray="4.3 3.3" stroke-dashoffset="0.4"/>
<line x1="295.46" y1="448.2" x2="295.46" y2="668.4" stroke="#b3b3b3" stroke-width="0.9" stroke-dasharray="4.3 3.3" stroke-dashoffset="0.4"/>
<line x1="49.7" y1="646.6" x2="307.6" y2="646.6" stroke="#b3b3b3" stroke-width="0.9" stroke-dasharray="4.6 3.33" stroke-dashoffset="0.75"/>
<line x1="49.7" y1="602.5" x2="307.6" y2="602.5" stroke="#b3b3b3" stroke-width="0.9" stroke-dasharray="4.6 3.33" stroke-dashoffset="0.75"/>
<line x1="49.7" y1="558.4" x2="307.6" y2="558.4" stroke="#b3b3b3" stroke-width="0.9" stroke-dasharray="4.6 3.33" stroke-dashoffset="0.75"/>
<line x1="49.7" y1="514.3" x2="307.6" y2="514.3" stroke="#b3b3b3" stroke-width="0.9" stroke-dasharray="4.6 3.33" stroke-dashoffset="0.75"/>
<line x1="49.7" y1="470.2" x2="307.6" y2="470.2" stroke="#b3b3b3" stroke-width="0.9" stroke-dasharray="4.6 3.33" stroke-dashoffset="0.75"/>
<circle cx="117.4" cy="503.6" r="3.9" fill="#7fcfa5"/>
<circle cx="104.8" cy="523" r="3.9" fill="#7fcfa5"/>
<circle cx="214" cy="465" r="3.9" fill="#c0294a"/>
<circle cx="169.3" cy="541.6" r="3.9" fill="#6b1239"/>
<circle cx="203.7" cy="562.2" r="3.9" fill="#c0294a"/>
<circle cx="172.8" cy="575.1" r="3.9" fill="#c0294a"/>
<circle cx="187.8" cy="592.6" r="3.9" fill="#c0294a"/>
<circle cx="202.2" cy="598.2" r="3.9" fill="#6b1239"/>
<circle cx="158.7" cy="596.5" r="3.9" fill="#f3f0a8"/>
<circle cx="152.9" cy="598.8" r="3.9" fill="#ef8c57"/>
<circle cx="144.7" cy="603.9" r="3.9" fill="#ef8c57"/>
<circle cx="165.2" cy="603.9" r="3.9" fill="#c0294a"/>
<circle cx="183.3" cy="614.8" r="3.9" fill="#e35a48"/>
<circle cx="130.4" cy="623.6" r="3.9" fill="#7fcfa5"/>
<circle cx="283.7" cy="570" r="3.9" fill="#ef8c57"/>
<circle cx="101.4" cy="574.2" r="3.9" fill="#7fcfa5"/>
<circle cx="98.6" cy="588.8" r="3.9" fill="#7fcfa5"/>
<circle cx="97.7" cy="603.9" r="3.9" fill="#7fcfa5"/>
<circle cx="107" cy="603.2" r="3.9" fill="#7fcfa5"/>
<circle cx="103.4" cy="614.5" r="3.9" fill="#7fcfa5"/>
<circle cx="104" cy="619" r="3.9" fill="#7fcfa5"/>
<circle cx="113.3" cy="621.9" r="3.9" fill="#7fcfa5"/>
<circle cx="89" cy="623.6" r="3.9" fill="#b8e49c"/>
<circle cx="97.8" cy="627.2" r="3.9" fill="#b8e49c"/>
<circle cx="73.8" cy="624.5" r="3.9" fill="#b8e49c"/>
<circle cx="73.8" cy="628" r="3.9" fill="#b8e49c"/>
<circle cx="73.8" cy="631.5" r="3.9" fill="#b8e49c"/>
<circle cx="73.8" cy="635" r="3.9" fill="#b8e49c"/>
<circle cx="73.8" cy="638.5" r="3.9" fill="#b8e49c"/>
<circle cx="73.8" cy="641.5" r="3.9" fill="#b8e49c"/>
<path d="M82 520.1L86.6 524.7L82 529.3L77.4 524.7Z" fill="#7fcfa5"/>
<path d="M89.8 521.7L94.4 526.3L89.8 530.9L85.2 526.3Z" fill="#7fcfa5"/>
<path d="M80.4 535.3L85 539.9L80.4 544.5L75.8 539.9Z" fill="#7fcfa5"/>
<path d="M73.6 539.6L78.2 544.2L73.6 548.8L69 544.2Z" fill="#7fcfa5"/>
<path d="M99.9 538.7L104.5 543.3L99.9 547.9L95.3 543.3Z" fill="#ef8c57"/>
<path d="M111.1 537.8L115.7 542.4L111.1 547L106.5 542.4Z" fill="#e35a48"/>
<path d="M110.6 548.8L115.2 553.4L110.6 558L106 553.4Z" fill="#7fcfa5"/>
<path d="M118.8 545.7L123.4 550.3L118.8 554.9L114.2 550.3Z" fill="#e35a48"/>
<path d="M115.2 548.8L119.8 553.4L115.2 558L110.6 553.4Z" fill="#e35a48"/>
<path d="M120.8 547.2L125.4 551.8L120.8 556.4L116.2 551.8Z" fill="#e35a48"/>
<path d="M144.6 549.3L149.2 553.9L144.6 558.5L140 553.9Z" fill="#e35a48"/>
<path d="M156 544.2L160.6 548.8L156 553.4L151.4 548.8Z" fill="#e35a48"/>
<path d="M97.3 552.7L101.9 557.3L97.3 561.9L92.7 557.3Z" fill="#ef8c57"/>
<path d="M104.5 557.5L109.1 562.1L104.5 566.7L99.9 562.1Z" fill="#ef8c57"/>
<path d="M115.2 562.7L119.8 567.3L115.2 571.9L110.6 567.3Z" fill="#e35a48"/>
<path d="M73.6 555.6L78.2 560.2L73.6 564.8L69 560.2Z" fill="#7fcfa5"/>
<path d="M73.6 558.7L78.2 563.3L73.6 567.9L69 563.3Z" fill="#7fcfa5"/>
<path d="M73.6 561.7L78.2 566.3L73.6 570.9L69 566.3Z" fill="#7fcfa5"/>
<path d="M73.6 564.3L78.2 568.9L73.6 573.5L69 568.9Z" fill="#7fcfa5"/>
<path d="M73.6 566.9L78.2 571.5L73.6 576.1L69 571.5Z" fill="#7fcfa5"/>
<path d="M73.6 569.9L78.2 574.5L73.6 579.1L69 574.5Z" fill="#7fcfa5"/>
<path d="M73.6 572.5L78.2 577.1L73.6 581.7L69 577.1Z" fill="#7fcfa5"/>
<path d="M78.9 567.4L83.5 572L78.9 576.6L74.3 572Z" fill="#7fcfa5"/>
<path d="M80.4 569.4L85 574L80.4 578.6L75.8 574Z" fill="#7fcfa5"/>
<path d="M82 575L86.6 579.6L82 584.2L77.4 579.6Z" fill="#7fcfa5"/>
<path d="M89.6 575.9L94.2 580.5L89.6 585.1L85 580.5Z" fill="#7fcfa5"/>
<path d="M87.6 563.6L92.2 568.2L87.6 572.8L83 568.2Z" fill="#7fcfa5"/>
<path d="M73.6 581.2L78.2 585.8L73.6 590.4L69 585.8Z" fill="#7fcfa5"/>
<path d="M89.6 586.3L94.2 590.9L89.6 595.5L85 590.9Z" fill="#eec57b"/>
<path d="M87.1 587.3L91.7 591.9L87.1 596.5L82.5 591.9Z" fill="#7fcfa5"/>
<path d="M97.6 587.3L102.2 591.9L97.6 596.5L93 591.9Z" fill="#ef8c57"/>
<path d="M73.6 599.8L78.2 604.4L73.6 609L69 604.4Z" fill="#7fcfa5"/>
<path d="M73.6 598L78.2 602.6L73.6 607.2L69 602.6Z" fill="#7fcfa5"/>
<path d="M73.6 606.7L78.2 611.3L73.6 615.9L69 611.3Z" fill="#7fcfa5"/>
<path d="M73.6 609.8L78.2 614.4L73.6 619L69 614.4Z" fill="#7fcfa5"/>
<path d="M79 614.9L83.6 619.5L79 624.1L74.4 619.5Z" fill="#7fcfa5"/>
<ellipse cx="190.8" cy="541.65" rx="53.23" ry="91.5" transform="rotate(21.47 190.8 541.65)" fill="none" stroke="#2323f0" stroke-width="1.3" stroke-dasharray="6.2 5.3" stroke-dashoffset="9.0"/>
<rect x="49.7" y="448.2" width="257.9" height="220.2" fill="none" stroke="#262626" stroke-width="1.3"/>
<line x1="49.7" y1="646.6" x2="43.5" y2="646.6" stroke="#262626" stroke-width="1.2" />
<text x="39.1" y="650.43" font-size="11.6" fill="#111" stroke="#111" stroke-width="0.25" text-anchor="end" font-weight="bold" >0</text>
<line x1="49.7" y1="602.5" x2="43.5" y2="602.5" stroke="#262626" stroke-width="1.2" />
<text x="39.1" y="606.33" font-size="11.6" fill="#111" stroke="#111" stroke-width="0.25" text-anchor="end" font-weight="bold" >50</text>
<line x1="49.7" y1="558.4" x2="43.5" y2="558.4" stroke="#262626" stroke-width="1.2" />
<text x="39.1" y="562.23" font-size="11.6" fill="#111" stroke="#111" stroke-width="0.25" text-anchor="end" font-weight="bold" >100</text>
<line x1="49.7" y1="514.3" x2="43.5" y2="514.3" stroke="#262626" stroke-width="1.2" />
<text x="39.1" y="518.13" font-size="11.6" fill="#111" stroke="#111" stroke-width="0.25" text-anchor="end" font-weight="bold" >150</text>
<line x1="49.7" y1="470.2" x2="43.5" y2="470.2" stroke="#262626" stroke-width="1.2" />
<text x="39.1" y="474.03" font-size="11.6" fill="#111" stroke="#111" stroke-width="0.25" text-anchor="end" font-weight="bold" >200</text>
<line x1="49.7" y1="624.55" x2="46.2" y2="624.55" stroke="#262626" stroke-width="1.2" />
<line x1="49.7" y1="580.45" x2="46.2" y2="580.45" stroke="#262626" stroke-width="1.2" />
<line x1="49.7" y1="536.35" x2="46.2" y2="536.35" stroke="#262626" stroke-width="1.2" />
<line x1="49.7" y1="492.25" x2="46.2" y2="492.25" stroke="#262626" stroke-width="1.2" />
<line x1="73.7" y1="668.4" x2="73.7" y2="674.4" stroke="#262626" stroke-width="1.2" />
<text x="73.7" y="687.76" font-size="11.4" fill="#111" stroke="#111" stroke-width="0.25" text-anchor="middle" font-weight="bold" >0</text>
<line x1="110.66" y1="668.4" x2="110.66" y2="674.4" stroke="#262626" stroke-width="1.2" />
<text x="110.66" y="687.76" font-size="11.4" fill="#111" stroke="#111" stroke-width="0.25" text-anchor="middle" font-weight="bold" >3</text>
<line x1="147.62" y1="668.4" x2="147.62" y2="674.4" stroke="#262626" stroke-width="1.2" />
<text x="147.62" y="687.76" font-size="11.4" fill="#111" stroke="#111" stroke-width="0.25" text-anchor="middle" font-weight="bold" >6</text>
<line x1="184.58" y1="668.4" x2="184.58" y2="674.4" stroke="#262626" stroke-width="1.2" />
<text x="184.58" y="687.76" font-size="11.4" fill="#111" stroke="#111" stroke-width="0.25" text-anchor="middle" font-weight="bold" >9</text>
<line x1="221.54" y1="668.4" x2="221.54" y2="674.4" stroke="#262626" stroke-width="1.2" />
<text x="221.54" y="687.76" font-size="11.4" fill="#111" stroke="#111" stroke-width="0.25" text-anchor="middle" font-weight="bold" >12</text>
<line x1="258.5" y1="668.4" x2="258.5" y2="674.4" stroke="#262626" stroke-width="1.2" />
<text x="258.5" y="687.76" font-size="11.4" fill="#111" stroke="#111" stroke-width="0.25" text-anchor="middle" font-weight="bold" >15</text>
<line x1="295.46" y1="668.4" x2="295.46" y2="674.4" stroke="#262626" stroke-width="1.2" />
<text x="295.46" y="687.76" font-size="11.4" fill="#111" stroke="#111" stroke-width="0.25" text-anchor="middle" font-weight="bold" >18</text>
<line x1="55.22" y1="668.4" x2="55.22" y2="671.9" stroke="#262626" stroke-width="1.2" />
<line x1="92.18" y1="668.4" x2="92.18" y2="671.9" stroke="#262626" stroke-width="1.2" />
<line x1="129.14" y1="668.4" x2="129.14" y2="671.9" stroke="#262626" stroke-width="1.2" />
<line x1="166.1" y1="668.4" x2="166.1" y2="671.9" stroke="#262626" stroke-width="1.2" />
<line x1="203.06" y1="668.4" x2="203.06" y2="671.9" stroke="#262626" stroke-width="1.2" />
<line x1="240.02" y1="668.4" x2="240.02" y2="671.9" stroke="#262626" stroke-width="1.2" />
<line x1="276.98" y1="668.4" x2="276.98" y2="671.9" stroke="#262626" stroke-width="1.2" />
<text x="178.8" y="700.62" font-size="12.5" fill="#111" stroke="#111" stroke-width="0.25" text-anchor="middle" font-weight="bold" >PL-VOCs (ppbv)</text>
<text transform="translate(15.3 558.9) rotate(-90)" x="0" y="0" font-size="13.3" font-weight="bold" fill="#111" text-anchor="middle" stroke="#111" stroke-width="0.25">O<tspan dy="2.5" font-size="8">3</tspan><tspan dy="-2.5"> (ppbv)</tspan></text>
<text x="61.1" y="473.4" font-size="12.7" font-weight="bold" fill="#111" stroke="#111" stroke-width="0.25">(e) TSR (W m<tspan dy="-4" font-size="7.5">-2</tspan><tspan dy="4">)</tspan></text>
<circle cx="241" cy="630.1" r="4.1" fill="#a6a6a6"/>
<path d="M241 640.5L245.6 645.1L241 649.7L236.4 645.1Z" fill="#a6a6a6"/>
<text x="253.1" y="634.06" font-size="12" fill="#111" stroke="#111" stroke-width="0.25" text-anchor="start" font-weight="bold" >Summer</text>
<text x="253.1" y="648.76" font-size="12" fill="#111" stroke="#111" stroke-width="0.25" text-anchor="start" font-weight="bold" >Winter</text>
<rect x="313.6" y="448.2" width="10" height="22.34" fill="#6b1239"/>
<rect x="313.6" y="470.24" width="10" height="22.34" fill="#c0294a"/>
<rect x="313.6" y="492.28" width="10" height="22.34" fill="#e35a48"/>
<rect x="313.6" y="514.32" width="10" height="22.34" fill="#ef8c57"/>
<rect x="313.6" y="536.36" width="10" height="22.34" fill="#eec57b"/>
<rect x="313.6" y="558.4" width="10" height="22.34" fill="#f3f0a8"/>
<rect x="313.6" y="580.44" width="10" height="22.34" fill="#e6f5a2"/>
<rect x="313.6" y="602.48" width="10" height="22.34" fill="#b8e49c"/>
<rect x="313.6" y="624.52" width="10" height="22.34" fill="#7fcfa5"/>
<rect x="313.6" y="646.56" width="10" height="22.34" fill="#4f98b6"/>
<rect x="313.6" y="448.2" width="10" height="220.4" fill="none" stroke="#333" stroke-width="1"/>
<line x1="323.6" y1="470.24" x2="326.6" y2="470.24" stroke="#333" stroke-width="1" />
<text x="329.1" y="473.28" font-size="9.2" fill="#111" stroke="#111" stroke-width="0.25" text-anchor="start" font-weight="bold" >860</text>
<line x1="323.6" y1="492.28" x2="326.6" y2="492.28" stroke="#333" stroke-width="1" />
<text x="329.1" y="495.32" font-size="9.2" fill="#111" stroke="#111" stroke-width="0.25" text-anchor="start" font-weight="bold" >753</text>
<line x1="323.6" y1="514.32" x2="326.6" y2="514.32" stroke="#333" stroke-width="1" />
<text x="329.1" y="517.36" font-size="9.2" fill="#111" stroke="#111" stroke-width="0.25" text-anchor="start" font-weight="bold" >645</text>
<line x1="323.6" y1="536.36" x2="326.6" y2="536.36" stroke="#333" stroke-width="1" />
<text x="329.1" y="539.4" font-size="9.2" fill="#111" stroke="#111" stroke-width="0.25" text-anchor="start" font-weight="bold" >538</text>
<line x1="323.6" y1="558.4" x2="326.6" y2="558.4" stroke="#333" stroke-width="1" />
<text x="329.1" y="561.44" font-size="9.2" fill="#111" stroke="#111" stroke-width="0.25" text-anchor="start" font-weight="bold" >430</text>
<line x1="323.6" y1="580.44" x2="326.6" y2="580.44" stroke="#333" stroke-width="1" />
<text x="329.1" y="583.48" font-size="9.2" fill="#111" stroke="#111" stroke-width="0.25" text-anchor="start" font-weight="bold" >323</text>
<line x1="323.6" y1="602.48" x2="326.6" y2="602.48" stroke="#333" stroke-width="1" />
<text x="329.1" y="605.52" font-size="9.2" fill="#111" stroke="#111" stroke-width="0.25" text-anchor="start" font-weight="bold" >215</text>
<line x1="323.6" y1="624.52" x2="326.6" y2="624.52" stroke="#333" stroke-width="1" />
<text x="329.1" y="627.56" font-size="9.2" fill="#111" stroke="#111" stroke-width="0.25" text-anchor="start" font-weight="bold" >108</text>
<line x1="323.6" y1="646.56" x2="326.6" y2="646.56" stroke="#333" stroke-width="1" />
<text x="329.1" y="649.6" font-size="9.2" fill="#111" stroke="#111" stroke-width="0.25" text-anchor="start" font-weight="bold" >0</text>
<line x1="416.3" y1="448.2" x2="416.3" y2="668.4" stroke="#b3b3b3" stroke-width="0.9" stroke-dasharray="4.3 3.3" stroke-dashoffset="0.4"/>
<line x1="453.26" y1="448.2" x2="453.26" y2="668.4" stroke="#b3b3b3" stroke-width="0.9" stroke-dasharray="4.3 3.3" stroke-dashoffset="0.4"/>
<line x1="490.22" y1="448.2" x2="490.22" y2="668.4" stroke="#b3b3b3" stroke-width="0.9" stroke-dasharray="4.3 3.3" stroke-dashoffset="0.4"/>
<line x1="527.18" y1="448.2" x2="527.18" y2="668.4" stroke="#b3b3b3" stroke-width="0.9" stroke-dasharray="4.3 3.3" stroke-dashoffset="0.4"/>
<line x1="564.14" y1="448.2" x2="564.14" y2="668.4" stroke="#b3b3b3" stroke-width="0.9" stroke-dasharray="4.3 3.3" stroke-dashoffset="0.4"/>
<line x1="601.1" y1="448.2" x2="601.1" y2="668.4" stroke="#b3b3b3" stroke-width="0.9" stroke-dasharray="4.3 3.3" stroke-dashoffset="0.4"/>
<line x1="638.06" y1="448.2" x2="638.06" y2="668.4" stroke="#b3b3b3" stroke-width="0.9" stroke-dasharray="4.3 3.3" stroke-dashoffset="0.4"/>
<line x1="392.3" y1="646.6" x2="650.2" y2="646.6" stroke="#b3b3b3" stroke-width="0.9" stroke-dasharray="4.6 3.33" stroke-dashoffset="0.75"/>
<line x1="392.3" y1="602.5" x2="650.2" y2="602.5" stroke="#b3b3b3" stroke-width="0.9" stroke-dasharray="4.6 3.33" stroke-dashoffset="0.75"/>
<line x1="392.3" y1="558.4" x2="650.2" y2="558.4" stroke="#b3b3b3" stroke-width="0.9" stroke-dasharray="4.6 3.33" stroke-dashoffset="0.75"/>
<line x1="392.3" y1="514.3" x2="650.2" y2="514.3" stroke="#b3b3b3" stroke-width="0.9" stroke-dasharray="4.6 3.33" stroke-dashoffset="0.75"/>
<line x1="392.3" y1="470.2" x2="650.2" y2="470.2" stroke="#b3b3b3" stroke-width="0.9" stroke-dasharray="4.6 3.33" stroke-dashoffset="0.75"/>
<circle cx="460" cy="503.6" r="3.9" fill="#c0294a"/>
<circle cx="447.4" cy="523" r="3.9" fill="#e35a48"/>
<circle cx="556.6" cy="465" r="3.9" fill="#6b1239"/>
<circle cx="511.9" cy="541.6" r="3.9" fill="#6b1239"/>
<circle cx="546.3" cy="562.2" r="3.9" fill="#c0294a"/>
<circle cx="515.4" cy="575.1" r="3.9" fill="#c0294a"/>
<circle cx="530.4" cy="592.6" r="3.9" fill="#c0294a"/>
<circle cx="544.8" cy="598.2" r="3.9" fill="#c0294a"/>
<circle cx="501.3" cy="596.5" r="3.9" fill="#e35a48"/>
<circle cx="495.5" cy="598.8" r="3.9" fill="#e35a48"/>
<circle cx="487.3" cy="603.9" r="3.9" fill="#c0294a"/>
<circle cx="507.8" cy="603.9" r="3.9" fill="#c0294a"/>
<circle cx="525.9" cy="614.8" r="3.9" fill="#e35a48"/>
<circle cx="473" cy="623.6" r="3.9" fill="#ef8c57"/>
<circle cx="626.3" cy="570" r="3.9" fill="#c0294a"/>
<circle cx="444" cy="574.2" r="3.9" fill="#c0294a"/>
<circle cx="441.2" cy="588.8" r="3.9" fill="#e35a48"/>
<circle cx="440.3" cy="603.9" r="3.9" fill="#e35a48"/>
<circle cx="449.6" cy="603.2" r="3.9" fill="#ef8c57"/>
<circle cx="446" cy="614.5" r="3.9" fill="#e35a48"/>
<circle cx="446.6" cy="619" r="3.9" fill="#ef8c57"/>
<circle cx="455.9" cy="621.9" r="3.9" fill="#e35a48"/>
<circle cx="431.6" cy="623.6" r="3.9" fill="#ef8c57"/>
<circle cx="440.4" cy="627.2" r="3.9" fill="#e35a48"/>
<circle cx="416.4" cy="624.5" r="3.9" fill="#e35a48"/>
<circle cx="416.4" cy="628" r="3.9" fill="#ef8c57"/>
<circle cx="416.4" cy="631.5" r="3.9" fill="#ef8c57"/>
<circle cx="416.4" cy="635" r="3.9" fill="#e35a48"/>
<circle cx="416.4" cy="638.5" r="3.9" fill="#ef8c57"/>
<circle cx="416.4" cy="641.5" r="3.9" fill="#e35a48"/>
<path d="M424.6 520.1L429.2 524.7L424.6 529.3L420 524.7Z" fill="#e6f5a2"/>
<path d="M432.4 521.7L437 526.3L432.4 530.9L427.8 526.3Z" fill="#b8e49c"/>
<path d="M423 535.3L427.6 539.9L423 544.5L418.4 539.9Z" fill="#e6f5a2"/>
<path d="M416.2 539.6L420.8 544.2L416.2 548.8L411.6 544.2Z" fill="#b8e49c"/>
<path d="M442.5 538.7L447.1 543.3L442.5 547.9L437.9 543.3Z" fill="#f3f0a8"/>
<path d="M453.7 537.8L458.3 542.4L453.7 547L449.1 542.4Z" fill="#eec57b"/>
<path d="M453.2 548.8L457.8 553.4L453.2 558L448.6 553.4Z" fill="#b8e49c"/>
<path d="M461.4 545.7L466 550.3L461.4 554.9L456.8 550.3Z" fill="#f3f0a8"/>
<path d="M457.8 548.8L462.4 553.4L457.8 558L453.2 553.4Z" fill="#eec57b"/>
<path d="M463.4 547.2L468 551.8L463.4 556.4L458.8 551.8Z" fill="#f3f0a8"/>
<path d="M487.2 549.3L491.8 553.9L487.2 558.5L482.6 553.9Z" fill="#f3f0a8"/>
<path d="M498.6 544.2L503.2 548.8L498.6 553.4L494 548.8Z" fill="#f3f0a8"/>
<path d="M439.9 552.7L444.5 557.3L439.9 561.9L435.3 557.3Z" fill="#f3f0a8"/>
<path d="M447.1 557.5L451.7 562.1L447.1 566.7L442.5 562.1Z" fill="#eec57b"/>
<path d="M457.8 562.7L462.4 567.3L457.8 571.9L453.2 567.3Z" fill="#f3f0a8"/>
<path d="M416.2 555.6L420.8 560.2L416.2 564.8L411.6 560.2Z" fill="#b8e49c"/>
<path d="M416.2 558.7L420.8 563.3L416.2 567.9L411.6 563.3Z" fill="#7fcfa5"/>
<path d="M416.2 561.7L420.8 566.3L416.2 570.9L411.6 566.3Z" fill="#7fcfa5"/>
<path d="M416.2 564.3L420.8 568.9L416.2 573.5L411.6 568.9Z" fill="#7fcfa5"/>
<path d="M416.2 566.9L420.8 571.5L416.2 576.1L411.6 571.5Z" fill="#7fcfa5"/>
<path d="M416.2 569.9L420.8 574.5L416.2 579.1L411.6 574.5Z" fill="#b8e49c"/>
<path d="M416.2 572.5L420.8 577.1L416.2 581.7L411.6 577.1Z" fill="#b8e49c"/>
<path d="M421.5 567.4L426.1 572L421.5 576.6L416.9 572Z" fill="#b8e49c"/>
<path d="M423 569.4L427.6 574L423 578.6L418.4 574Z" fill="#b8e49c"/>
<path d="M424.6 575L429.2 579.6L424.6 584.2L420 579.6Z" fill="#e6f5a2"/>
<path d="M432.2 575.9L436.8 580.5L432.2 585.1L427.6 580.5Z" fill="#e6f5a2"/>
<path d="M430.2 563.6L434.8 568.2L430.2 572.8L425.6 568.2Z" fill="#e6f5a2"/>
<path d="M416.2 581.2L420.8 585.8L416.2 590.4L411.6 585.8Z" fill="#b8e49c"/>
<path d="M432.2 586.3L436.8 590.9L432.2 595.5L427.6 590.9Z" fill="#eec57b"/>
<path d="M429.7 587.3L434.3 591.9L429.7 596.5L425.1 591.9Z" fill="#e6f5a2"/>
<path d="M440.2 587.3L444.8 591.9L440.2 596.5L435.6 591.9Z" fill="#f3f0a8"/>
<path d="M416.2 599.8L420.8 604.4L416.2 609L411.6 604.4Z" fill="#e35a48"/>
<path d="M416.2 598L420.8 602.6L416.2 607.2L411.6 602.6Z" fill="#e6f5a2"/>
<path d="M416.2 606.7L420.8 611.3L416.2 615.9L411.6 611.3Z" fill="#7fcfa5"/>
<path d="M416.2 609.8L420.8 614.4L416.2 619L411.6 614.4Z" fill="#7fcfa5"/>
<path d="M421.6 614.9L426.2 619.5L421.6 624.1L417 619.5Z" fill="#e6f5a2"/>
<ellipse cx="536" cy="543" rx="52" ry="88.51" transform="rotate(23.81 536 543)" fill="none" stroke="#2323f0" stroke-width="1.3" stroke-dasharray="6.2 5.3" stroke-dashoffset="0"/>
<rect x="392.3" y="448.2" width="257.9" height="220.2" fill="none" stroke="#262626" stroke-width="1.3"/>
<line x1="392.3" y1="646.6" x2="386.1" y2="646.6" stroke="#262626" stroke-width="1.2" />
<text x="381.7" y="650.43" font-size="11.6" fill="#111" stroke="#111" stroke-width="0.25" text-anchor="end" font-weight="bold" >0</text>
<line x1="392.3" y1="602.5" x2="386.1" y2="602.5" stroke="#262626" stroke-width="1.2" />
<text x="381.7" y="606.33" font-size="11.6" fill="#111" stroke="#111" stroke-width="0.25" text-anchor="end" font-weight="bold" >50</text>
<line x1="392.3" y1="558.4" x2="386.1" y2="558.4" stroke="#262626" stroke-width="1.2" />
<text x="381.7" y="562.23" font-size="11.6" fill="#111" stroke="#111" stroke-width="0.25" text-anchor="end" font-weight="bold" >100</text>
<line x1="392.3" y1="514.3" x2="386.1" y2="514.3" stroke="#262626" stroke-width="1.2" />
<text x="381.7" y="518.13" font-size="11.6" fill="#111" stroke="#111" stroke-width="0.25" text-anchor="end" font-weight="bold" >150</text>
<line x1="392.3" y1="470.2" x2="386.1" y2="470.2" stroke="#262626" stroke-width="1.2" />
<text x="381.7" y="474.03" font-size="11.6" fill="#111" stroke="#111" stroke-width="0.25" text-anchor="end" font-weight="bold" >200</text>
<line x1="392.3" y1="624.55" x2="388.8" y2="624.55" stroke="#262626" stroke-width="1.2" />
<line x1="392.3" y1="580.45" x2="388.8" y2="580.45" stroke="#262626" stroke-width="1.2" />
<line x1="392.3" y1="536.35" x2="388.8" y2="536.35" stroke="#262626" stroke-width="1.2" />
<line x1="392.3" y1="492.25" x2="388.8" y2="492.25" stroke="#262626" stroke-width="1.2" />
<line x1="416.3" y1="668.4" x2="416.3" y2="674.4" stroke="#262626" stroke-width="1.2" />
<text x="416.3" y="687.76" font-size="11.4" fill="#111" stroke="#111" stroke-width="0.25" text-anchor="middle" font-weight="bold" >0</text>
<line x1="453.26" y1="668.4" x2="453.26" y2="674.4" stroke="#262626" stroke-width="1.2" />
<text x="453.26" y="687.76" font-size="11.4" fill="#111" stroke="#111" stroke-width="0.25" text-anchor="middle" font-weight="bold" >3</text>
<line x1="490.22" y1="668.4" x2="490.22" y2="674.4" stroke="#262626" stroke-width="1.2" />
<text x="490.22" y="687.76" font-size="11.4" fill="#111" stroke="#111" stroke-width="0.25" text-anchor="middle" font-weight="bold" >6</text>
<line x1="527.18" y1="668.4" x2="527.18" y2="674.4" stroke="#262626" stroke-width="1.2" />
<text x="527.18" y="687.76" font-size="11.4" fill="#111" stroke="#111" stroke-width="0.25" text-anchor="middle" font-weight="bold" >9</text>
<line x1="564.14" y1="668.4" x2="564.14" y2="674.4" stroke="#262626" stroke-width="1.2" />
<text x="564.14" y="687.76" font-size="11.4" fill="#111" stroke="#111" stroke-width="0.25" text-anchor="middle" font-weight="bold" >12</text>
<line x1="601.1" y1="668.4" x2="601.1" y2="674.4" stroke="#262626" stroke-width="1.2" />
<text x="601.1" y="687.76" font-size="11.4" fill="#111" stroke="#111" stroke-width="0.25" text-anchor="middle" font-weight="bold" >15</text>
<line x1="638.06" y1="668.4" x2="638.06" y2="674.4" stroke="#262626" stroke-width="1.2" />
<text x="638.06" y="687.76" font-size="11.4" fill="#111" stroke="#111" stroke-width="0.25" text-anchor="middle" font-weight="bold" >18</text>
<line x1="397.82" y1="668.4" x2="397.82" y2="671.9" stroke="#262626" stroke-width="1.2" />
<line x1="434.78" y1="668.4" x2="434.78" y2="671.9" stroke="#262626" stroke-width="1.2" />
<line x1="471.74" y1="668.4" x2="471.74" y2="671.9" stroke="#262626" stroke-width="1.2" />
<line x1="508.7" y1="668.4" x2="508.7" y2="671.9" stroke="#262626" stroke-width="1.2" />
<line x1="545.66" y1="668.4" x2="545.66" y2="671.9" stroke="#262626" stroke-width="1.2" />
<line x1="582.62" y1="668.4" x2="582.62" y2="671.9" stroke="#262626" stroke-width="1.2" />
<line x1="619.58" y1="668.4" x2="619.58" y2="671.9" stroke="#262626" stroke-width="1.2" />
<text x="521.4" y="700.62" font-size="12.5" fill="#111" stroke="#111" stroke-width="0.25" text-anchor="middle" font-weight="bold" >PL-VOCs (ppbv)</text>
<text transform="translate(357.9 558.9) rotate(-90)" x="0" y="0" font-size="13.3" font-weight="bold" fill="#111" text-anchor="middle" stroke="#111" stroke-width="0.25">O<tspan dy="2.5" font-size="8">3</tspan><tspan dy="-2.5"> (ppbv)</tspan></text>
<text x="404.9" y="473.4" font-size="12.7" font-weight="bold" fill="#111" stroke="#111" stroke-width="0.25">(f) Temperature (°C)</text>
<circle cx="586.1" cy="630.1" r="4.1" fill="#a6a6a6"/>
<path d="M586.1 640.5L590.7 645.1L586.1 649.7L581.5 645.1Z" fill="#a6a6a6"/>
<text x="598.2" y="634.06" font-size="12" fill="#111" stroke="#111" stroke-width="0.25" text-anchor="start" font-weight="bold" >Summer</text>
<text x="598.2" y="648.76" font-size="12" fill="#111" stroke="#111" stroke-width="0.25" text-anchor="start" font-weight="bold" >Winter</text>
<rect x="658.4" y="448.2" width="10.3" height="22.34" fill="#6b1239"/>
<rect x="658.4" y="470.24" width="10.3" height="22.34" fill="#c0294a"/>
<rect x="658.4" y="492.28" width="10.3" height="22.34" fill="#e35a48"/>
<rect x="658.4" y="514.32" width="10.3" height="22.34" fill="#ef8c57"/>
<rect x="658.4" y="536.36" width="10.3" height="22.34" fill="#eec57b"/>
<rect x="658.4" y="558.4" width="10.3" height="22.34" fill="#f3f0a8"/>
<rect x="658.4" y="580.44" width="10.3" height="22.34" fill="#e6f5a2"/>
<rect x="658.4" y="602.48" width="10.3" height="22.34" fill="#b8e49c"/>
<rect x="658.4" y="624.52" width="10.3" height="22.34" fill="#7fcfa5"/>
<rect x="658.4" y="646.56" width="10.3" height="22.34" fill="#4f98b6"/>
<rect x="658.4" y="448.2" width="10.3" height="220.4" fill="none" stroke="#333" stroke-width="1"/>
<line x1="668.7" y1="470.24" x2="671.7" y2="470.24" stroke="#333" stroke-width="1" />
<text x="674.2" y="473.28" font-size="9.2" fill="#111" stroke="#111" stroke-width="0.25" text-anchor="start" font-weight="bold" >34</text>
<line x1="668.7" y1="492.28" x2="671.7" y2="492.28" stroke="#333" stroke-width="1" />
<text x="674.2" y="495.32" font-size="9.2" fill="#111" stroke="#111" stroke-width="0.25" text-anchor="start" font-weight="bold" >31</text>
<line x1="668.7" y1="514.32" x2="671.7" y2="514.32" stroke="#333" stroke-width="1" />
<text x="674.2" y="517.36" font-size="9.2" fill="#111" stroke="#111" stroke-width="0.25" text-anchor="start" font-weight="bold" >27</text>
<line x1="668.7" y1="536.36" x2="671.7" y2="536.36" stroke="#333" stroke-width="1" />
<text x="674.2" y="539.4" font-size="9.2" fill="#111" stroke="#111" stroke-width="0.25" text-anchor="start" font-weight="bold" >24</text>
<line x1="668.7" y1="558.4" x2="671.7" y2="558.4" stroke="#333" stroke-width="1" />
<text x="674.2" y="561.44" font-size="9.2" fill="#111" stroke="#111" stroke-width="0.25" text-anchor="start" font-weight="bold" >21</text>
<line x1="668.7" y1="580.44" x2="671.7" y2="580.44" stroke="#333" stroke-width="1" />
<text x="674.2" y="583.48" font-size="9.2" fill="#111" stroke="#111" stroke-width="0.25" text-anchor="start" font-weight="bold" >17</text>
<line x1="668.7" y1="602.48" x2="671.7" y2="602.48" stroke="#333" stroke-width="1" />
<text x="674.2" y="605.52" font-size="9.2" fill="#111" stroke="#111" stroke-width="0.25" text-anchor="start" font-weight="bold" >14</text>
<line x1="668.7" y1="624.52" x2="671.7" y2="624.52" stroke="#333" stroke-width="1" />
<text x="674.2" y="627.56" font-size="9.2" fill="#111" stroke="#111" stroke-width="0.25" text-anchor="start" font-weight="bold" >11</text>
<line x1="668.7" y1="646.56" x2="671.7" y2="646.56" stroke="#333" stroke-width="1" />
<text x="674.2" y="649.6" font-size="9.2" fill="#111" stroke="#111" stroke-width="0.25" text-anchor="start" font-weight="bold" >8</text>
<line x1="82.55" y1="722" x2="82.55" y2="939.08" stroke="#e2e2e2" stroke-width="0.8" />
<line x1="54.7" y1="746.12" x2="305.35" y2="746.12" stroke="#e2e2e2" stroke-width="0.8" />
<line x1="110.4" y1="722" x2="110.4" y2="939.08" stroke="#e2e2e2" stroke-width="0.8" />
<line x1="54.7" y1="770.24" x2="305.35" y2="770.24" stroke="#e2e2e2" stroke-width="0.8" />
<line x1="138.25" y1="722" x2="138.25" y2="939.08" stroke="#e2e2e2" stroke-width="0.8" />
<line x1="54.7" y1="794.36" x2="305.35" y2="794.36" stroke="#e2e2e2" stroke-width="0.8" />
<line x1="166.1" y1="722" x2="166.1" y2="939.08" stroke="#e2e2e2" stroke-width="0.8" />
<line x1="54.7" y1="818.48" x2="305.35" y2="818.48" stroke="#e2e2e2" stroke-width="0.8" />
<line x1="193.95" y1="722" x2="193.95" y2="939.08" stroke="#e2e2e2" stroke-width="0.8" />
<line x1="54.7" y1="842.6" x2="305.35" y2="842.6" stroke="#e2e2e2" stroke-width="0.8" />
<line x1="221.8" y1="722" x2="221.8" y2="939.08" stroke="#e2e2e2" stroke-width="0.8" />
<line x1="54.7" y1="866.72" x2="305.35" y2="866.72" stroke="#e2e2e2" stroke-width="0.8" />
<line x1="249.65" y1="722" x2="249.65" y2="939.08" stroke="#e2e2e2" stroke-width="0.8" />
<line x1="54.7" y1="890.84" x2="305.35" y2="890.84" stroke="#e2e2e2" stroke-width="0.8" />
<line x1="277.5" y1="722" x2="277.5" y2="939.08" stroke="#e2e2e2" stroke-width="0.8" />
<line x1="54.7" y1="914.96" x2="305.35" y2="914.96" stroke="#e2e2e2" stroke-width="0.8" />
<circle cx="68.62" cy="734.06" r="9.2" fill="#e8404a"/>
<text x="96.48" y="736.86" font-size="8.5" fill="#cc272e" stroke="#cc272e" stroke-width="0.25" text-anchor="middle" font-weight="bold" >0.79</text>
<text x="124.33" y="736.86" font-size="8.5" fill="#d1424b" stroke="#d1424b" stroke-width="0.25" text-anchor="middle" font-weight="bold" >0.67</text>
<text x="152.18" y="736.86" font-size="8.5" fill="#3434b6" stroke="#3434b6" stroke-width="0.25" text-anchor="middle" font-weight="bold" >-0.73</text>
<text x="180.03" y="736.86" font-size="8.5" fill="#fcf5f6" stroke="#fcf5f6" stroke-width="0.25" text-anchor="middle" font-weight="bold" >0.031</text>
<text x="207.88" y="736.86" font-size="8.5" fill="#edbdc4" stroke="#edbdc4" stroke-width="0.25" text-anchor="middle" font-weight="bold" >0.21</text>
<text x="235.73" y="736.86" font-size="8.5" fill="#d96c77" stroke="#d96c77" stroke-width="0.25" text-anchor="middle" font-weight="bold" >0.50</text>
<text x="263.57" y="736.86" font-size="8.5" fill="#f4f4fb" stroke="#f4f4fb" stroke-width="0.25" text-anchor="middle" font-weight="bold" >-0.033</text>
<text x="291.43" y="736.86" font-size="8.5" fill="#c0c0e6" stroke="#c0c0e6" stroke-width="0.25" text-anchor="middle" font-weight="bold" >-0.20</text>
<circle r="1" fill="#ee2e35" transform="matrix(11.447 -9.650 -3.921 -3.305 68.62 758.18)"/>
<path d="M64.38 757.88L64.38 755.88M64.38 757.88L66.28 757.26M64.38 757.88L65.55 759.5M64.38 757.88L63.2 759.5M64.38 757.88L62.47 757.26" stroke="#2a1616" stroke-width="1.05" stroke-linecap="round" fill="none"/>
<path d="M68.62 757.88L68.62 755.88M68.62 757.88L70.53 757.26M68.62 757.88L69.8 759.5M68.62 757.88L67.45 759.5M68.62 757.88L66.72 757.26" stroke="#2a1616" stroke-width="1.05" stroke-linecap="round" fill="none"/>
<path d="M72.88 757.88L72.88 755.88M72.88 757.88L74.78 757.26M72.88 757.88L74.05 759.5M72.88 757.88L71.7 759.5M72.88 757.88L70.97 757.26" stroke="#2a1616" stroke-width="1.05" stroke-linecap="round" fill="none"/>
<circle cx="96.48" cy="758.18" r="9.2" fill="#e8404a"/>
<text x="124.33" y="760.98" font-size="8.5" fill="#ce323a" stroke="#ce323a" stroke-width="0.25" text-anchor="middle" font-weight="bold" >0.74</text>
<text x="152.18" y="760.98" font-size="8.5" fill="#2c2cb5" stroke="#2c2cb5" stroke-width="0.25" text-anchor="middle" font-weight="bold" >-0.77</text>
<text x="180.03" y="760.98" font-size="8.5" fill="#f7e1e4" stroke="#f7e1e4" stroke-width="0.25" text-anchor="middle" font-weight="bold" >0.095</text>
<text x="207.88" y="760.98" font-size="8.5" fill="#f1ccd2" stroke="#f1ccd2" stroke-width="0.25" text-anchor="middle" font-weight="bold" >0.16</text>
<text x="235.73" y="760.98" font-size="8.5" fill="#e8a9b1" stroke="#e8a9b1" stroke-width="0.25" text-anchor="middle" font-weight="bold" >0.28</text>
<text x="263.57" y="760.98" font-size="8.5" fill="#d3d3ed" stroke="#d3d3ed" stroke-width="0.25" text-anchor="middle" font-weight="bold" >-0.14</text>
<text x="291.43" y="760.98" font-size="8.5" fill="#9d9dd7" stroke="#9d9dd7" stroke-width="0.25" text-anchor="middle" font-weight="bold" >-0.32</text>
<circle r="1" fill="#ee4b56" transform="matrix(11.057 -9.321 -4.915 -4.143 68.62 782.30)"/>
<path d="M64.38 782L64.38 780M64.38 782L66.28 781.38M64.38 782L65.55 783.62M64.38 782L63.2 783.62M64.38 782L62.47 781.38" stroke="#2a1616" stroke-width="1.05" stroke-linecap="round" fill="none"/>
<path d="M68.62 782L68.62 780M68.62 782L70.53 781.38M68.62 782L69.8 783.62M68.62 782L67.45 783.62M68.62 782L66.72 781.38" stroke="#2a1616" stroke-width="1.05" stroke-linecap="round" fill="none"/>
<path d="M72.88 782L72.88 780M72.88 782L74.78 781.38M72.88 782L74.05 783.62M72.88 782L71.7 783.62M72.88 782L70.97 781.38" stroke="#2a1616" stroke-width="1.05" stroke-linecap="round" fill="none"/>
<circle r="1" fill="#ee3a43" transform="matrix(11.286 -9.514 -4.363 -3.678 96.48 782.30)"/>
<path d="M92.23 782L92.23 780M92.23 782L94.13 781.38M92.23 782L93.4 783.62M92.23 782L91.05 783.62M92.23 782L90.32 781.38" stroke="#2a1616" stroke-width="1.05" stroke-linecap="round" fill="none"/>
<path d="M96.48 782L96.48 780M96.48 782L98.38 781.38M96.48 782L97.65 783.62M96.48 782L95.3 783.62M96.48 782L94.57 781.38" stroke="#2a1616" stroke-width="1.05" stroke-linecap="round" fill="none"/>
<path d="M100.73 782L100.73 780M100.73 782L102.63 781.38M100.73 782L101.9 783.62M100.73 782L99.55 783.62M100.73 782L98.82 781.38" stroke="#2a1616" stroke-width="1.05" stroke-linecap="round" fill="none"/>
<circle cx="124.33" cy="782.3" r="9.2" fill="#e8404a"/>
<text x="152.18" y="785.1" font-size="8.5" fill="#0606ba" stroke="#0606ba" stroke-width="0.25" text-anchor="middle" font-weight="bold" >-0.96</text>
<text x="180.03" y="785.1" font-size="8.5" fill="#e9afb7" stroke="#e9afb7" stroke-width="0.25" text-anchor="middle" font-weight="bold" >0.26</text>
<text x="207.88" y="785.1" font-size="8.5" fill="#d7626d" stroke="#d7626d" stroke-width="0.25" text-anchor="middle" font-weight="bold" >0.54</text>
<text x="235.73" y="785.1" font-size="8.5" fill="#d2454e" stroke="#d2454e" stroke-width="0.25" text-anchor="middle" font-weight="bold" >0.66</text>
<text x="263.57" y="785.1" font-size="8.5" fill="#6f6fc6" stroke="#6f6fc6" stroke-width="0.25" text-anchor="middle" font-weight="bold" >-0.49</text>
<text x="291.43" y="785.1" font-size="8.5" fill="#f9e9ec" stroke="#f9e9ec" stroke-width="0.25" text-anchor="middle" font-weight="bold" >0.068</text>
<circle r="1" fill="#3c3cd2" transform="matrix(4.446 -3.748 -11.254 -9.487 68.62 806.42)"/>
<path d="M64.38 806.12L64.38 804.12M64.38 806.12L66.28 805.5M64.38 806.12L65.55 807.74M64.38 806.12L63.2 807.74M64.38 806.12L62.47 805.5" stroke="#2a1616" stroke-width="1.05" stroke-linecap="round" fill="none"/>
<path d="M68.62 806.12L68.62 804.12M68.62 806.12L70.53 805.5M68.62 806.12L69.8 807.74M68.62 806.12L67.45 807.74M68.62 806.12L66.72 805.5" stroke="#2a1616" stroke-width="1.05" stroke-linecap="round" fill="none"/>
<path d="M72.88 806.12L72.88 804.12M72.88 806.12L74.78 805.5M72.88 806.12L74.05 807.74M72.88 806.12L71.7 807.74M72.88 806.12L70.97 805.5" stroke="#2a1616" stroke-width="1.05" stroke-linecap="round" fill="none"/>
<circle r="1" fill="#3333d3" transform="matrix(4.103 -3.459 -11.383 -9.596 96.48 806.42)"/>
<path d="M92.23 806.12L92.23 804.12M92.23 806.12L94.13 805.5M92.23 806.12L93.4 807.74M92.23 806.12L91.05 807.74M92.23 806.12L90.32 805.5" stroke="#2a1616" stroke-width="1.05" stroke-linecap="round" fill="none"/>
<path d="M96.48 806.12L96.48 804.12M96.48 806.12L98.38 805.5M96.48 806.12L97.65 807.74M96.48 806.12L95.3 807.74M96.48 806.12L94.57 805.5" stroke="#2a1616" stroke-width="1.05" stroke-linecap="round" fill="none"/>
<path d="M100.73 806.12L100.73 804.12M100.73 806.12L102.63 805.5M100.73 806.12L101.9 807.74M100.73 806.12L99.55 807.74M100.73 806.12L98.82 805.5" stroke="#2a1616" stroke-width="1.05" stroke-linecap="round" fill="none"/>
<circle r="1" fill="#0707e0" transform="matrix(1.711 -1.442 -11.978 -10.097 124.33 806.42)"/>
<path d="M120.08 806.12L120.08 804.12M120.08 806.12L121.98 805.5M120.08 806.12L121.25 807.74M120.08 806.12L118.9 807.74M120.08 806.12L118.17 805.5" stroke="#2a1616" stroke-width="1.05" stroke-linecap="round" fill="none"/>
<path d="M124.33 806.12L124.33 804.12M124.33 806.12L126.23 805.5M124.33 806.12L125.5 807.74M124.33 806.12L123.15 807.74M124.33 806.12L122.42 805.5" stroke="#2a1616" stroke-width="1.05" stroke-linecap="round" fill="none"/>
<path d="M128.57 806.12L128.57 804.12M128.57 806.12L130.48 805.5M128.57 806.12L129.75 807.74M128.57 806.12L127.4 807.74M128.57 806.12L126.67 805.5" stroke="#2a1616" stroke-width="1.05" stroke-linecap="round" fill="none"/>
<circle cx="152.18" cy="806.42" r="9.2" fill="#e8404a"/>
<text x="180.03" y="809.22" font-size="8.5" fill="#c9c9e9" stroke="#c9c9e9" stroke-width="0.25" text-anchor="middle" font-weight="bold" >-0.17</text>
<text x="207.88" y="809.22" font-size="8.5" fill="#6f6fc6" stroke="#6f6fc6" stroke-width="0.25" text-anchor="middle" font-weight="bold" >-0.49</text>
<text x="235.73" y="809.22" font-size="8.5" fill="#4747ba" stroke="#4747ba" stroke-width="0.25" text-anchor="middle" font-weight="bold" >-0.65</text>
<text x="263.57" y="809.22" font-size="8.5" fill="#da7782" stroke="#da7782" stroke-width="0.25" text-anchor="middle" font-weight="bold" >0.46</text>
<text x="291.43" y="809.22" font-size="8.5" fill="#fbf1f3" stroke="#fbf1f3" stroke-width="0.25" text-anchor="middle" font-weight="bold" >0.042</text>
<circle r="1" fill="#fef6f7" transform="matrix(8.688 -7.323 -8.422 -7.100 68.62 830.54)"/>
<circle r="1" fill="#fbe4e8" transform="matrix(8.953 -7.547 -8.139 -6.861 96.48 830.54)"/>
<circle r="1" fill="#f5b7c0" transform="matrix(9.604 -8.096 -7.360 -6.204 124.33 830.54)"/>
<circle r="1" fill="#d0d0f1" transform="matrix(7.795 -6.571 -9.255 -7.801 152.18 830.54)"/>
<circle cx="180.03" cy="830.54" r="9.2" fill="#e8404a"/>
<text x="207.88" y="833.34" font-size="8.5" fill="#e1929c" stroke="#e1929c" stroke-width="0.25" text-anchor="middle" font-weight="bold" >0.36</text>
<text x="235.73" y="833.34" font-size="8.5" fill="#f7e3e6" stroke="#f7e3e6" stroke-width="0.25" text-anchor="middle" font-weight="bold" >0.088</text>
<text x="263.57" y="833.34" font-size="8.5" fill="#fcfcfe" stroke="#fcfcfe" stroke-width="0.25" text-anchor="middle" font-weight="bold" >-0.0080</text>
<text x="291.43" y="833.34" font-size="8.5" fill="#d55560" stroke="#d55560" stroke-width="0.25" text-anchor="middle" font-weight="bold" >0.59</text>
<circle r="1" fill="#f7c5cc" transform="matrix(9.412 -7.934 -7.605 -6.411 68.62 854.66)"/>
<circle r="1" fill="#f9d2d8" transform="matrix(9.215 -7.768 -7.842 -6.610 96.48 854.66)"/>
<circle r="1" fill="#ee6d78" transform="matrix(10.618 -8.950 -5.803 -4.892 124.33 854.66)"/>
<path d="M120.08 854.36L120.08 852.36M120.08 854.36L121.98 853.74M120.08 854.36L121.25 855.98M120.08 854.36L118.9 855.98M120.08 854.36L118.17 853.74" stroke="#2a1616" stroke-width="1.05" stroke-linecap="round" fill="none"/>
<path d="M124.33 854.36L124.33 852.36M124.33 854.36L126.23 853.74M124.33 854.36L125.5 855.98M124.33 854.36L123.15 855.98M124.33 854.36L122.42 853.74" stroke="#2a1616" stroke-width="1.05" stroke-linecap="round" fill="none"/>
<path d="M128.57 854.36L128.57 852.36M128.57 854.36L130.48 853.74M128.57 854.36L129.75 855.98M128.57 854.36L127.4 855.98M128.57 854.36L126.67 853.74" stroke="#2a1616" stroke-width="1.05" stroke-linecap="round" fill="none"/>
<circle r="1" fill="#7a7ad9" transform="matrix(6.110 -5.151 -10.444 -8.804 152.18 854.66)"/>
<path d="M150.05 854.36L150.05 852.36M150.05 854.36L151.95 853.74M150.05 854.36L151.23 855.98M150.05 854.36L148.87 855.98M150.05 854.36L148.15 853.74" stroke="#2a1616" stroke-width="1.05" stroke-linecap="round" fill="none"/>
<path d="M154.3 854.36L154.3 852.36M154.3 854.36L156.2 853.74M154.3 854.36L155.48 855.98M154.3 854.36L153.12 855.98M154.3 854.36L152.4 853.74" stroke="#2a1616" stroke-width="1.05" stroke-linecap="round" fill="none"/>
<circle r="1" fill="#f19ca7" transform="matrix(9.978 -8.411 -6.845 -5.770 180.03 854.66)"/>
<path d="M180.03 854.36L180.03 852.36M180.03 854.36L181.93 853.74M180.03 854.36L181.2 855.98M180.03 854.36L178.85 855.98M180.03 854.36L178.12 853.74" stroke="#2a1616" stroke-width="1.05" stroke-linecap="round" fill="none"/>
<circle cx="207.88" cy="854.66" r="9.2" fill="#e8404a"/>
<text x="235.73" y="857.46" font-size="8.5" fill="#d24750" stroke="#d24750" stroke-width="0.25" text-anchor="middle" font-weight="bold" >0.65</text>
<text x="263.57" y="857.46" font-size="8.5" fill="#9a9ad6" stroke="#9a9ad6" stroke-width="0.25" text-anchor="middle" font-weight="bold" >-0.33</text>
<text x="291.43" y="857.46" font-size="8.5" fill="#d14049" stroke="#d14049" stroke-width="0.25" text-anchor="middle" font-weight="bold" >0.68</text>
<circle r="1" fill="#ee7783" transform="matrix(10.479 -8.833 -6.050 -5.100 68.62 878.78)"/>
<path d="M66.5 878.48L66.5 876.48M66.5 878.48L68.4 877.86M66.5 878.48L67.68 880.1M66.5 878.48L65.32 880.1M66.5 878.48L64.6 877.86" stroke="#2a1616" stroke-width="1.05" stroke-linecap="round" fill="none"/>
<path d="M70.75 878.48L70.75 876.48M70.75 878.48L72.65 877.86M70.75 878.48L71.93 880.1M70.75 878.48L69.57 880.1M70.75 878.48L68.85 877.86" stroke="#2a1616" stroke-width="1.05" stroke-linecap="round" fill="none"/>
<circle r="1" fill="#f4b2bb" transform="matrix(9.680 -8.160 -7.260 -6.120 96.48 878.78)"/>
<circle r="1" fill="#ee4e58" transform="matrix(11.024 -9.293 -4.989 -4.206 124.33 878.78)"/>
<path d="M120.08 878.48L120.08 876.48M120.08 878.48L121.98 877.86M120.08 878.48L121.25 880.1M120.08 878.48L118.9 880.1M120.08 878.48L118.17 877.86" stroke="#2a1616" stroke-width="1.05" stroke-linecap="round" fill="none"/>
<path d="M124.33 878.48L124.33 876.48M124.33 878.48L126.23 877.86M124.33 878.48L125.5 880.1M124.33 878.48L123.15 880.1M124.33 878.48L122.42 877.86" stroke="#2a1616" stroke-width="1.05" stroke-linecap="round" fill="none"/>
<path d="M128.57 878.48L128.57 876.48M128.57 878.48L130.48 877.86M128.57 878.48L129.75 880.1M128.57 878.48L127.4 880.1M128.57 878.48L126.67 877.86" stroke="#2a1616" stroke-width="1.05" stroke-linecap="round" fill="none"/>
<circle r="1" fill="#5050d2" transform="matrix(5.062 -4.267 -10.990 -9.265 152.18 878.78)"/>
<path d="M147.93 878.48L147.93 876.48M147.93 878.48L149.83 877.86M147.93 878.48L149.1 880.1M147.93 878.48L146.75 880.1M147.93 878.48L146.02 877.86" stroke="#2a1616" stroke-width="1.05" stroke-linecap="round" fill="none"/>
<path d="M152.18 878.48L152.18 876.48M152.18 878.48L154.08 877.86M152.18 878.48L153.35 880.1M152.18 878.48L151 880.1M152.18 878.48L150.27 877.86" stroke="#2a1616" stroke-width="1.05" stroke-linecap="round" fill="none"/>
<path d="M156.43 878.48L156.43 876.48M156.43 878.48L158.33 877.86M156.43 878.48L157.6 880.1M156.43 878.48L155.25 880.1M156.43 878.48L154.52 877.86" stroke="#2a1616" stroke-width="1.05" stroke-linecap="round" fill="none"/>
<circle r="1" fill="#fbe6ea" transform="matrix(8.925 -7.523 -8.171 -6.888 180.03 878.78)"/>
<circle r="1" fill="#ee505b" transform="matrix(10.990 -9.265 -5.062 -4.267 207.88 878.78)"/>
<path d="M203.62 878.48L203.62 876.48M203.62 878.48L205.53 877.86M203.62 878.48L204.8 880.1M203.62 878.48L202.45 880.1M203.62 878.48L201.72 877.86" stroke="#2a1616" stroke-width="1.05" stroke-linecap="round" fill="none"/>
<path d="M207.88 878.48L207.88 876.48M207.88 878.48L209.78 877.86M207.88 878.48L209.05 880.1M207.88 878.48L206.7 880.1M207.88 878.48L205.97 877.86" stroke="#2a1616" stroke-width="1.05" stroke-linecap="round" fill="none"/>
<path d="M212.12 878.48L212.12 876.48M212.12 878.48L214.03 877.86M212.12 878.48L213.3 880.1M212.12 878.48L210.95 880.1M212.12 878.48L210.22 877.86" stroke="#2a1616" stroke-width="1.05" stroke-linecap="round" fill="none"/>
<circle cx="235.73" cy="878.78" r="9.2" fill="#e8404a"/>
<text x="263.57" y="881.58" font-size="8.5" fill="#9a9ad6" stroke="#9a9ad6" stroke-width="0.25" text-anchor="middle" font-weight="bold" >-0.33</text>
<text x="291.43" y="881.58" font-size="8.5" fill="#ecbac2" stroke="#ecbac2" stroke-width="0.25" text-anchor="middle" font-weight="bold" >0.22</text>
<circle r="1" fill="#f6f6fc" transform="matrix(8.414 -7.092 -8.696 -7.331 68.62 902.90)"/>
<circle r="1" fill="#d8d8f3" transform="matrix(7.935 -6.689 -9.135 -7.701 96.48 902.90)"/>
<circle r="1" fill="#7a7ad9" transform="matrix(6.110 -5.151 -10.444 -8.804 124.33 902.90)"/>
<path d="M122.2 902.6L122.2 900.6M122.2 902.6L124.1 901.98M122.2 902.6L123.38 904.22M122.2 902.6L121.02 904.22M122.2 902.6L120.3 901.98" stroke="#2a1616" stroke-width="1.05" stroke-linecap="round" fill="none"/>
<path d="M126.45 902.6L126.45 900.6M126.45 902.6L128.35 901.98M126.45 902.6L127.63 904.22M126.45 902.6L125.27 904.22M126.45 902.6L124.55 901.98" stroke="#2a1616" stroke-width="1.05" stroke-linecap="round" fill="none"/>
<circle r="1" fill="#ee818d" transform="matrix(10.338 -8.715 -6.287 -5.300 152.18 902.90)"/>
<path d="M150.05 902.6L150.05 900.6M150.05 902.6L151.95 901.98M150.05 902.6L151.23 904.22M150.05 902.6L148.87 904.22M150.05 902.6L148.15 901.98" stroke="#2a1616" stroke-width="1.05" stroke-linecap="round" fill="none"/>
<path d="M154.3 902.6L154.3 900.6M154.3 902.6L156.2 901.98M154.3 902.6L155.48 904.22M154.3 902.6L153.12 904.22M154.3 902.6L152.4 901.98" stroke="#2a1616" stroke-width="1.05" stroke-linecap="round" fill="none"/>
<circle r="1" fill="#fdfdfe" transform="matrix(8.522 -7.184 -8.590 -7.241 180.03 902.90)"/>
<circle r="1" fill="#a4a4e4" transform="matrix(7.003 -5.904 -9.867 -8.318 207.88 902.90)"/>
<circle r="1" fill="#a4a4e4" transform="matrix(7.003 -5.904 -9.867 -8.318 235.73 902.90)"/>
<circle cx="263.57" cy="902.9" r="9.2" fill="#e8404a"/>
<text x="291.43" y="905.7" font-size="8.5" fill="#cfcfec" stroke="#cfcfec" stroke-width="0.25" text-anchor="middle" font-weight="bold" >-0.15</text>
<circle r="1" fill="#c7c7ee" transform="matrix(7.653 -6.451 -9.373 -7.901 68.62 927.02)"/>
<circle r="1" fill="#a7a7e4" transform="matrix(7.055 -5.948 -9.830 -8.287 96.48 927.02)"/>
<circle r="1" fill="#fcecef" transform="matrix(8.842 -7.454 -8.260 -6.963 124.33 927.02)"/>
<circle r="1" fill="#fdf3f5" transform="matrix(8.734 -7.362 -8.374 -7.059 152.18 927.02)"/>
<circle r="1" fill="#ee606b" transform="matrix(10.789 -9.095 -5.479 -4.618 180.03 927.02)"/>
<path d="M175.78 926.72L175.78 924.72M175.78 926.72L177.68 926.1M175.78 926.72L176.95 928.34M175.78 926.72L174.6 928.34M175.78 926.72L173.87 926.1" stroke="#2a1616" stroke-width="1.05" stroke-linecap="round" fill="none"/>
<path d="M180.03 926.72L180.03 924.72M180.03 926.72L181.93 926.1M180.03 926.72L181.2 928.34M180.03 926.72L178.85 928.34M180.03 926.72L178.12 926.1" stroke="#2a1616" stroke-width="1.05" stroke-linecap="round" fill="none"/>
<path d="M184.28 926.72L184.28 924.72M184.28 926.72L186.18 926.1M184.28 926.72L185.45 928.34M184.28 926.72L183.1 928.34M184.28 926.72L182.37 926.1" stroke="#2a1616" stroke-width="1.05" stroke-linecap="round" fill="none"/>
<circle r="1" fill="#ee4953" transform="matrix(11.090 -9.348 -4.840 -4.080 207.88 927.02)"/>
<path d="M203.62 926.72L203.62 924.72M203.62 926.72L205.53 926.1M203.62 926.72L204.8 928.34M203.62 926.72L202.45 928.34M203.62 926.72L201.72 926.1" stroke="#2a1616" stroke-width="1.05" stroke-linecap="round" fill="none"/>
<path d="M207.88 926.72L207.88 924.72M207.88 926.72L209.78 926.1M207.88 926.72L209.05 928.34M207.88 926.72L206.7 928.34M207.88 926.72L205.97 926.1" stroke="#2a1616" stroke-width="1.05" stroke-linecap="round" fill="none"/>
<path d="M212.12 926.72L212.12 924.72M212.12 926.72L214.03 926.1M212.12 926.72L213.3 928.34M212.12 926.72L210.95 928.34M212.12 926.72L210.22 926.1" stroke="#2a1616" stroke-width="1.05" stroke-linecap="round" fill="none"/>
<circle r="1" fill="#f6c2ca" transform="matrix(9.450 -7.966 -7.556 -6.370 235.73 927.02)"/>
<circle r="1" fill="#d5d5f2" transform="matrix(7.888 -6.650 -9.175 -7.735 263.57 927.02)"/>
<circle cx="291.43" cy="927.02" r="9.2" fill="#e8404a"/>
<rect x="54.7" y="722" width="250.65" height="217.08" fill="none" stroke="#3a3a3a" stroke-width="1.2"/>
<text x="49.7" y="736.96" font-size="8.5" font-weight="bold" fill="#111" text-anchor="end" stroke="#111" stroke-width="0.25">PL-VOCs</text>
<text x="49.7" y="761.08" font-size="8.5" font-weight="bold" fill="#111" text-anchor="end" stroke="#111" stroke-width="0.25">TSR</text>
<text x="49.7" y="785.2" font-size="8.5" font-weight="bold" fill="#111" text-anchor="end" stroke="#111" stroke-width="0.25">Temperature</text>
<text x="49.7" y="809.32" font-size="8.5" font-weight="bold" fill="#111" text-anchor="end" stroke="#111" stroke-width="0.25">RH</text>
<text x="49.7" y="833.44" font-size="8.5" font-weight="bold" fill="#111" text-anchor="end" stroke="#111" stroke-width="0.25">Pressure</text>
<text x="49.7" y="857.56" font-size="8.5" font-weight="bold" fill="#111" text-anchor="end" stroke="#111" stroke-width="0.25">PM<tspan dy="2" font-size="6.5">2.5</tspan></text>
<text x="49.7" y="881.68" font-size="8.5" font-weight="bold" fill="#111" text-anchor="end" stroke="#111" stroke-width="0.25">O<tspan dy="2" font-size="6.5">3</tspan></text>
<text x="49.7" y="905.8" font-size="8.5" font-weight="bold" fill="#111" text-anchor="end" stroke="#111" stroke-width="0.25">SO<tspan dy="2" font-size="6.5">2</tspan></text>
<text x="49.7" y="929.92" font-size="8.5" font-weight="bold" fill="#111" text-anchor="end" stroke="#111" stroke-width="0.25">NO<tspan dy="2" font-size="6.5">2</tspan></text>
<text transform="translate(73.62 949.38) rotate(-23)" font-size="9.7" font-weight="bold" fill="#111" text-anchor="end" stroke="#111" stroke-width="0.25">PL-VOCs</text>
<text transform="translate(101.48 949.38) rotate(-23)" font-size="9.7" font-weight="bold" fill="#111" text-anchor="end" stroke="#111" stroke-width="0.25">TSR</text>
<text transform="translate(129.32 949.38) rotate(-23)" font-size="9.7" font-weight="bold" fill="#111" text-anchor="end" stroke="#111" stroke-width="0.25">Temperature</text>
<text transform="translate(157.18 949.38) rotate(-23)" font-size="9.7" font-weight="bold" fill="#111" text-anchor="end" stroke="#111" stroke-width="0.25">RH</text>
<text transform="translate(185.03 949.38) rotate(-23)" font-size="9.7" font-weight="bold" fill="#111" text-anchor="end" stroke="#111" stroke-width="0.25">Pressure</text>
<text transform="translate(212.88 949.38) rotate(-23)" font-size="9.7" font-weight="bold" fill="#111" text-anchor="end" stroke="#111" stroke-width="0.25">PM<tspan dy="2" font-size="6.5">2.5</tspan></text>
<text transform="translate(240.73 949.38) rotate(-23)" font-size="9.7" font-weight="bold" fill="#111" text-anchor="end" stroke="#111" stroke-width="0.25">O<tspan dy="2" font-size="6.5">3</tspan></text>
<text transform="translate(268.57 949.38) rotate(-23)" font-size="9.7" font-weight="bold" fill="#111" text-anchor="end" stroke="#111" stroke-width="0.25">SO<tspan dy="2" font-size="6.5">2</tspan></text>
<text transform="translate(296.43 949.38) rotate(-23)" font-size="9.7" font-weight="bold" fill="#111" text-anchor="end" stroke="#111" stroke-width="0.25">NO<tspan dy="2" font-size="6.5">2</tspan></text>
<text x="6.2" y="712.6" font-size="14.7" font-weight="bold" fill="#111" stroke="#111" stroke-width="0.25">(g) Summer</text>
<text x="100" y="716" font-size="10.3" font-weight="bold" fill="#111" stroke="#111" stroke-width="0.25">* p≤0.05</text>
<text x="156.3" y="716" font-size="10.3" font-weight="bold" fill="#111" stroke="#111" stroke-width="0.25">** p≤0.01</text>
<text x="221" y="716" font-size="10.3" font-weight="bold" fill="#111" stroke="#111" stroke-width="0.25">*** p≤0.001</text>
<defs><linearGradient id="cg54" x1="0" y1="0" x2="0" y2="1"><stop offset="0" stop-color="#f81515"/><stop offset="0.5" stop-color="#ffffff"/><stop offset="1" stop-color="#0a0ac8"/></linearGradient></defs>
<rect x="309.1" y="722" width="11.7" height="217.08" fill="url(#cg54)" stroke="#333" stroke-width="0.9"/>
<line x1="320.8" y1="722" x2="323.3" y2="722" stroke="#333" stroke-width="1" />
<text x="325.3" y="724.51" font-size="7.6" fill="#111" stroke="#111" stroke-width="0.25" text-anchor="start" font-weight="bold" >1.0</text>
<line x1="320.8" y1="743.71" x2="323.3" y2="743.71" stroke="#333" stroke-width="1" />
<text x="325.3" y="746.22" font-size="7.6" fill="#111" stroke="#111" stroke-width="0.25" text-anchor="start" font-weight="bold" >0.80</text>
<line x1="320.8" y1="765.42" x2="323.3" y2="765.42" stroke="#333" stroke-width="1" />
<text x="325.3" y="767.92" font-size="7.6" fill="#111" stroke="#111" stroke-width="0.25" text-anchor="start" font-weight="bold" >0.60</text>
<line x1="320.8" y1="787.12" x2="323.3" y2="787.12" stroke="#333" stroke-width="1" />
<text x="325.3" y="789.63" font-size="7.6" fill="#111" stroke="#111" stroke-width="0.25" text-anchor="start" font-weight="bold" >0.40</text>
<line x1="320.8" y1="808.83" x2="323.3" y2="808.83" stroke="#333" stroke-width="1" />
<text x="325.3" y="811.34" font-size="7.6" fill="#111" stroke="#111" stroke-width="0.25" text-anchor="start" font-weight="bold" >0.20</text>
<line x1="320.8" y1="830.54" x2="323.3" y2="830.54" stroke="#333" stroke-width="1" />
<text x="325.3" y="833.05" font-size="7.6" fill="#111" stroke="#111" stroke-width="0.25" text-anchor="start" font-weight="bold" >0.0</text>
<line x1="320.8" y1="852.25" x2="323.3" y2="852.25" stroke="#333" stroke-width="1" />
<text x="325.3" y="854.76" font-size="7.6" fill="#111" stroke="#111" stroke-width="0.25" text-anchor="start" font-weight="bold" >-0.20</text>
<line x1="320.8" y1="873.96" x2="323.3" y2="873.96" stroke="#333" stroke-width="1" />
<text x="325.3" y="876.46" font-size="7.6" fill="#111" stroke="#111" stroke-width="0.25" text-anchor="start" font-weight="bold" >-0.40</text>
<line x1="320.8" y1="895.66" x2="323.3" y2="895.66" stroke="#333" stroke-width="1" />
<text x="325.3" y="898.17" font-size="7.6" fill="#111" stroke="#111" stroke-width="0.25" text-anchor="start" font-weight="bold" >-0.60</text>
<line x1="320.8" y1="917.37" x2="323.3" y2="917.37" stroke="#333" stroke-width="1" />
<text x="325.3" y="919.88" font-size="7.6" fill="#111" stroke="#111" stroke-width="0.25" text-anchor="start" font-weight="bold" >-0.80</text>
<line x1="320.8" y1="939.08" x2="323.3" y2="939.08" stroke="#333" stroke-width="1" />
<text x="325.3" y="941.59" font-size="7.6" fill="#111" stroke="#111" stroke-width="0.25" text-anchor="start" font-weight="bold" >-1.0</text>
<line x1="419.95" y1="721.7" x2="419.95" y2="938.78" stroke="#e2e2e2" stroke-width="0.8" />
<line x1="392.1" y1="745.82" x2="642.75" y2="745.82" stroke="#e2e2e2" stroke-width="0.8" />
<line x1="447.8" y1="721.7" x2="447.8" y2="938.78" stroke="#e2e2e2" stroke-width="0.8" />
<line x1="392.1" y1="769.94" x2="642.75" y2="769.94" stroke="#e2e2e2" stroke-width="0.8" />
<line x1="475.65" y1="721.7" x2="475.65" y2="938.78" stroke="#e2e2e2" stroke-width="0.8" />
<line x1="392.1" y1="794.06" x2="642.75" y2="794.06" stroke="#e2e2e2" stroke-width="0.8" />
<line x1="503.5" y1="721.7" x2="503.5" y2="938.78" stroke="#e2e2e2" stroke-width="0.8" />
<line x1="392.1" y1="818.18" x2="642.75" y2="818.18" stroke="#e2e2e2" stroke-width="0.8" />
<line x1="531.35" y1="721.7" x2="531.35" y2="938.78" stroke="#e2e2e2" stroke-width="0.8" />
<line x1="392.1" y1="842.3" x2="642.75" y2="842.3" stroke="#e2e2e2" stroke-width="0.8" />
<line x1="559.2" y1="721.7" x2="559.2" y2="938.78" stroke="#e2e2e2" stroke-width="0.8" />
<line x1="392.1" y1="866.42" x2="642.75" y2="866.42" stroke="#e2e2e2" stroke-width="0.8" />
<line x1="587.05" y1="721.7" x2="587.05" y2="938.78" stroke="#e2e2e2" stroke-width="0.8" />
<line x1="392.1" y1="890.54" x2="642.75" y2="890.54" stroke="#e2e2e2" stroke-width="0.8" />
<line x1="614.9" y1="721.7" x2="614.9" y2="938.78" stroke="#e2e2e2" stroke-width="0.8" />
<line x1="392.1" y1="914.66" x2="642.75" y2="914.66" stroke="#e2e2e2" stroke-width="0.8" />
<circle cx="406.03" cy="733.76" r="9.2" fill="#e8404a"/>
<text x="433.88" y="736.56" font-size="8.5" fill="#cb2329" stroke="#cb2329" stroke-width="0.25" text-anchor="middle" font-weight="bold" >0.81</text>
<text x="461.73" y="736.56" font-size="8.5" fill="#d86772" stroke="#d86772" stroke-width="0.25" text-anchor="middle" font-weight="bold" >0.52</text>
<text x="489.58" y="736.56" font-size="8.5" fill="#4040b8" stroke="#4040b8" stroke-width="0.25" text-anchor="middle" font-weight="bold" >-0.68</text>
<text x="517.43" y="736.56" font-size="8.5" fill="#8181cc" stroke="#8181cc" stroke-width="0.25" text-anchor="middle" font-weight="bold" >-0.42</text>
<text x="545.28" y="736.56" font-size="8.5" fill="#ecbac2" stroke="#ecbac2" stroke-width="0.25" text-anchor="middle" font-weight="bold" >0.22</text>
<text x="573.12" y="736.56" font-size="8.5" fill="#dd848f" stroke="#dd848f" stroke-width="0.25" text-anchor="middle" font-weight="bold" >0.41</text>
<text x="600.98" y="736.56" font-size="8.5" fill="#de8792" stroke="#de8792" stroke-width="0.25" text-anchor="middle" font-weight="bold" >0.40</text>
<text x="628.83" y="736.56" font-size="8.5" fill="#d3d3ed" stroke="#d3d3ed" stroke-width="0.25" text-anchor="middle" font-weight="bold" >-0.14</text>
<circle r="1" fill="#ee2930" transform="matrix(11.511 -9.703 -3.729 -3.144 406.03 757.88)"/>
<path d="M401.78 757.58L401.78 755.58M401.78 757.58L403.68 756.96M401.78 757.58L402.95 759.2M401.78 757.58L400.6 759.2M401.78 757.58L399.87 756.96" stroke="#2a1616" stroke-width="1.05" stroke-linecap="round" fill="none"/>
<path d="M406.03 757.58L406.03 755.58M406.03 757.58L407.93 756.96M406.03 757.58L407.2 759.2M406.03 757.58L404.85 759.2M406.03 757.58L404.12 756.96" stroke="#2a1616" stroke-width="1.05" stroke-linecap="round" fill="none"/>
<path d="M410.28 757.58L410.28 755.58M410.28 757.58L412.18 756.96M410.28 757.58L411.45 759.2M410.28 757.58L409.1 759.2M410.28 757.58L408.37 756.96" stroke="#2a1616" stroke-width="1.05" stroke-linecap="round" fill="none"/>
<circle cx="433.88" cy="757.88" r="9.2" fill="#e8404a"/>
<text x="461.73" y="760.68" font-size="8.5" fill="#d1424b" stroke="#d1424b" stroke-width="0.25" text-anchor="middle" font-weight="bold" >0.67</text>
<text x="489.58" y="760.68" font-size="8.5" fill="#3939b7" stroke="#3939b7" stroke-width="0.25" text-anchor="middle" font-weight="bold" >-0.71</text>
<text x="517.43" y="760.68" font-size="8.5" fill="#c0c0e6" stroke="#c0c0e6" stroke-width="0.25" text-anchor="middle" font-weight="bold" >-0.20</text>
<text x="545.28" y="760.68" font-size="8.5" fill="#f1ccd2" stroke="#f1ccd2" stroke-width="0.25" text-anchor="middle" font-weight="bold" >0.16</text>
<text x="573.12" y="760.68" font-size="8.5" fill="#e8a9b1" stroke="#e8a9b1" stroke-width="0.25" text-anchor="middle" font-weight="bold" >0.28</text>
<text x="600.98" y="760.68" font-size="8.5" fill="#ecb7bf" stroke="#ecb7bf" stroke-width="0.25" text-anchor="middle" font-weight="bold" >0.23</text>
<text x="628.83" y="760.68" font-size="8.5" fill="#acacdd" stroke="#acacdd" stroke-width="0.25" text-anchor="middle" font-weight="bold" >-0.27</text>
<circle r="1" fill="#ee727e" transform="matrix(10.549 -8.892 -5.928 -4.997 406.03 782.00)"/>
<path d="M403.9 781.7L403.9 779.7M403.9 781.7L405.8 781.08M403.9 781.7L405.08 783.32M403.9 781.7L402.72 783.32M403.9 781.7L402 781.08" stroke="#2a1616" stroke-width="1.05" stroke-linecap="round" fill="none"/>
<path d="M408.15 781.7L408.15 779.7M408.15 781.7L410.05 781.08M408.15 781.7L409.33 783.32M408.15 781.7L406.97 783.32M408.15 781.7L406.25 781.08" stroke="#2a1616" stroke-width="1.05" stroke-linecap="round" fill="none"/>
<circle r="1" fill="#ee4b56" transform="matrix(11.057 -9.321 -4.915 -4.143 433.88 782.00)"/>
<path d="M429.62 781.7L429.62 779.7M429.62 781.7L431.53 781.08M429.62 781.7L430.8 783.32M429.62 781.7L428.45 783.32M429.62 781.7L427.72 781.08" stroke="#2a1616" stroke-width="1.05" stroke-linecap="round" fill="none"/>
<path d="M433.88 781.7L433.88 779.7M433.88 781.7L435.78 781.08M433.88 781.7L435.05 783.32M433.88 781.7L432.7 783.32M433.88 781.7L431.97 781.08" stroke="#2a1616" stroke-width="1.05" stroke-linecap="round" fill="none"/>
<path d="M438.12 781.7L438.12 779.7M438.12 781.7L440.03 781.08M438.12 781.7L439.3 783.32M438.12 781.7L436.95 783.32M438.12 781.7L436.22 781.08" stroke="#2a1616" stroke-width="1.05" stroke-linecap="round" fill="none"/>
<circle cx="461.73" cy="782" r="9.2" fill="#e8404a"/>
<text x="489.58" y="784.8" font-size="8.5" fill="#7979c9" stroke="#7979c9" stroke-width="0.25" text-anchor="middle" font-weight="bold" >-0.45</text>
<text x="517.43" y="784.8" font-size="8.5" fill="#f4f4fa" stroke="#f4f4fa" stroke-width="0.25" text-anchor="middle" font-weight="bold" >-0.035</text>
<text x="545.28" y="784.8" font-size="8.5" fill="#f3f3fa" stroke="#f3f3fa" stroke-width="0.25" text-anchor="middle" font-weight="bold" >-0.037</text>
<text x="573.12" y="784.8" font-size="8.5" fill="#edbdc4" stroke="#edbdc4" stroke-width="0.25" text-anchor="middle" font-weight="bold" >0.21</text>
<text x="600.98" y="784.8" font-size="8.5" fill="#a6a6db" stroke="#a6a6db" stroke-width="0.25" text-anchor="middle" font-weight="bold" >-0.29</text>
<text x="628.83" y="784.8" font-size="8.5" fill="#f4d6da" stroke="#f4d6da" stroke-width="0.25" text-anchor="middle" font-weight="bold" >0.13</text>
<circle r="1" fill="#4949d2" transform="matrix(4.840 -4.080 -11.090 -9.348 406.03 806.12)"/>
<path d="M401.78 805.82L401.78 803.82M401.78 805.82L403.68 805.2M401.78 805.82L402.95 807.44M401.78 805.82L400.6 807.44M401.78 805.82L399.87 805.2" stroke="#2a1616" stroke-width="1.05" stroke-linecap="round" fill="none"/>
<path d="M406.03 805.82L406.03 803.82M406.03 805.82L407.93 805.2M406.03 805.82L407.2 807.44M406.03 805.82L404.85 807.44M406.03 805.82L404.12 805.2" stroke="#2a1616" stroke-width="1.05" stroke-linecap="round" fill="none"/>
<path d="M410.28 805.82L410.28 803.82M410.28 805.82L412.18 805.2M410.28 805.82L411.45 807.44M410.28 805.82L409.1 807.44M410.28 805.82L408.37 805.2" stroke="#2a1616" stroke-width="1.05" stroke-linecap="round" fill="none"/>
<circle r="1" fill="#4141d2" transform="matrix(4.608 -3.884 -11.188 -9.432 433.88 806.12)"/>
<path d="M429.62 805.82L429.62 803.82M429.62 805.82L431.53 805.2M429.62 805.82L430.8 807.44M429.62 805.82L428.45 807.44M429.62 805.82L427.72 805.2" stroke="#2a1616" stroke-width="1.05" stroke-linecap="round" fill="none"/>
<path d="M433.88 805.82L433.88 803.82M433.88 805.82L435.78 805.2M433.88 805.82L435.05 807.44M433.88 805.82L432.7 807.44M433.88 805.82L431.97 805.2" stroke="#2a1616" stroke-width="1.05" stroke-linecap="round" fill="none"/>
<path d="M438.12 805.82L438.12 803.82M438.12 805.82L440.03 805.2M438.12 805.82L439.3 807.44M438.12 805.82L436.95 807.44M438.12 805.82L436.22 805.2" stroke="#2a1616" stroke-width="1.05" stroke-linecap="round" fill="none"/>
<circle r="1" fill="#8484db" transform="matrix(6.345 -5.349 -10.303 -8.685 461.73 806.12)"/>
<path d="M459.6 805.82L459.6 803.82M459.6 805.82L461.5 805.2M459.6 805.82L460.78 807.44M459.6 805.82L458.42 807.44M459.6 805.82L457.7 805.2" stroke="#2a1616" stroke-width="1.05" stroke-linecap="round" fill="none"/>
<path d="M463.85 805.82L463.85 803.82M463.85 805.82L465.75 805.2M463.85 805.82L465.03 807.44M463.85 805.82L462.67 807.44M463.85 805.82L461.95 805.2" stroke="#2a1616" stroke-width="1.05" stroke-linecap="round" fill="none"/>
<circle cx="489.58" cy="806.12" r="9.2" fill="#e8404a"/>
<text x="517.43" y="808.92" font-size="8.5" fill="#f5d9dd" stroke="#f5d9dd" stroke-width="0.25" text-anchor="middle" font-weight="bold" >0.12</text>
<text x="545.28" y="808.92" font-size="8.5" fill="#efeff9" stroke="#efeff9" stroke-width="0.25" text-anchor="middle" font-weight="bold" >-0.048</text>
<text x="573.12" y="808.92" font-size="8.5" fill="#9595d4" stroke="#9595d4" stroke-width="0.25" text-anchor="middle" font-weight="bold" >-0.35</text>
<text x="600.98" y="808.92" font-size="8.5" fill="#8181cc" stroke="#8181cc" stroke-width="0.25" text-anchor="middle" font-weight="bold" >-0.42</text>
<text x="628.83" y="808.92" font-size="8.5" fill="#e5a0a9" stroke="#e5a0a9" stroke-width="0.25" text-anchor="middle" font-weight="bold" >0.31</text>
<circle r="1" fill="#8c8cdd" transform="matrix(6.516 -5.493 -10.196 -8.595 406.03 830.24)"/>
<path d="M406.03 829.94L406.03 827.94M406.03 829.94L407.93 829.32M406.03 829.94L407.2 831.56M406.03 829.94L404.85 831.56M406.03 829.94L404.12 829.32" stroke="#2a1616" stroke-width="1.05" stroke-linecap="round" fill="none"/>
<circle r="1" fill="#c7c7ee" transform="matrix(7.653 -6.451 -9.373 -7.901 433.88 830.24)"/>
<circle r="1" fill="#f5f5fc" transform="matrix(8.405 -7.085 -8.704 -7.338 461.73 830.24)"/>
<circle r="1" fill="#fadee2" transform="matrix(9.055 -7.633 -8.026 -6.766 489.58 830.24)"/>
<circle cx="517.43" cy="830.24" r="9.2" fill="#e8404a"/>
<text x="545.28" y="833.04" font-size="8.5" fill="#b7b7e2" stroke="#b7b7e2" stroke-width="0.25" text-anchor="middle" font-weight="bold" >-0.23</text>
<text x="573.12" y="833.04" font-size="8.5" fill="#6565c2" stroke="#6565c2" stroke-width="0.25" text-anchor="middle" font-weight="bold" >-0.53</text>
<text x="600.98" y="833.04" font-size="8.5" fill="#7777c8" stroke="#7777c8" stroke-width="0.25" text-anchor="middle" font-weight="bold" >-0.46</text>
<text x="628.83" y="833.04" font-size="8.5" fill="#cfcfec" stroke="#cfcfec" stroke-width="0.25" text-anchor="middle" font-weight="bold" >-0.15</text>
<circle r="1" fill="#f6c2ca" transform="matrix(9.450 -7.966 -7.556 -6.370 406.03 854.36)"/>
<circle r="1" fill="#f9d2d8" transform="matrix(9.215 -7.768 -7.842 -6.610 433.88 854.36)"/>
<circle r="1" fill="#f5f5fc" transform="matrix(8.396 -7.078 -8.713 -7.345 461.73 854.36)"/>
<circle r="1" fill="#f2f2fb" transform="matrix(8.348 -7.037 -8.759 -7.384 489.58 854.36)"/>
<circle r="1" fill="#bfbfec" transform="matrix(7.508 -6.329 -9.489 -7.999 517.43 854.36)"/>
<circle cx="545.28" cy="854.36" r="9.2" fill="#e8404a"/>
<text x="573.12" y="857.16" font-size="8.5" fill="#f7e0e3" stroke="#f7e0e3" stroke-width="0.25" text-anchor="middle" font-weight="bold" >0.098</text>
<text x="600.98" y="857.16" font-size="8.5" fill="#db7c87" stroke="#db7c87" stroke-width="0.25" text-anchor="middle" font-weight="bold" >0.44</text>
<text x="628.83" y="857.16" font-size="8.5" fill="#e9afb7" stroke="#e9afb7" stroke-width="0.25" text-anchor="middle" font-weight="bold" >0.26</text>
<circle r="1" fill="#ef8f9a" transform="matrix(10.160 -8.564 -6.572 -5.540 406.03 878.48)"/>
<path d="M406.03 878.18L406.03 876.18M406.03 878.18L407.93 877.56M406.03 878.18L407.2 879.8M406.03 878.18L404.85 879.8M406.03 878.18L404.12 877.56" stroke="#2a1616" stroke-width="1.05" stroke-linecap="round" fill="none"/>
<circle r="1" fill="#f4b2bb" transform="matrix(9.680 -8.160 -7.260 -6.120 433.88 878.48)"/>
<circle r="1" fill="#f7c5cc" transform="matrix(9.412 -7.934 -7.605 -6.411 461.73 878.48)"/>
<circle r="1" fill="#9f9fe2" transform="matrix(6.898 -5.815 -9.941 -8.380 489.58 878.48)"/>
<path d="M489.58 878.18L489.58 876.18M489.58 878.18L491.48 877.56M489.58 878.18L490.75 879.8M489.58 878.18L488.4 879.8M489.58 878.18L487.67 877.56" stroke="#2a1616" stroke-width="1.05" stroke-linecap="round" fill="none"/>
<circle r="1" fill="#6f6fd7" transform="matrix(5.866 -4.945 -10.583 -8.921 517.43 878.48)"/>
<path d="M513.18 878.18L513.18 876.18M513.18 878.18L515.08 877.56M513.18 878.18L514.35 879.8M513.18 878.18L512 879.8M513.18 878.18L511.27 877.56" stroke="#2a1616" stroke-width="1.05" stroke-linecap="round" fill="none"/>
<path d="M517.43 878.18L517.43 876.18M517.43 878.18L519.33 877.56M517.43 878.18L518.6 879.8M517.43 878.18L516.25 879.8M517.43 878.18L515.52 877.56" stroke="#2a1616" stroke-width="1.05" stroke-linecap="round" fill="none"/>
<path d="M521.68 878.18L521.68 876.18M521.68 878.18L523.58 877.56M521.68 878.18L522.85 879.8M521.68 878.18L520.5 879.8M521.68 878.18L519.77 877.56" stroke="#2a1616" stroke-width="1.05" stroke-linecap="round" fill="none"/>
<circle r="1" fill="#fbe4e7" transform="matrix(8.965 -7.558 -8.126 -6.850 545.28 878.48)"/>
<circle cx="573.12" cy="878.48" r="9.2" fill="#e8404a"/>
<text x="600.98" y="881.28" font-size="8.5" fill="#e398a1" stroke="#e398a1" stroke-width="0.25" text-anchor="middle" font-weight="bold" >0.34</text>
<text x="628.83" y="881.28" font-size="8.5" fill="#efeff9" stroke="#efeff9" stroke-width="0.25" text-anchor="middle" font-weight="bold" >-0.048</text>
<circle r="1" fill="#ef919d" transform="matrix(10.124 -8.534 -6.627 -5.587 406.03 902.60)"/>
<path d="M406.03 902.3L406.03 900.3M406.03 902.3L407.93 901.68M406.03 902.3L407.2 903.92M406.03 902.3L404.85 903.92M406.03 902.3L404.12 901.68" stroke="#2a1616" stroke-width="1.05" stroke-linecap="round" fill="none"/>
<circle r="1" fill="#f6bfc7" transform="matrix(9.489 -7.999 -7.508 -6.329 433.88 902.60)"/>
<circle r="1" fill="#afafe7" transform="matrix(7.209 -6.077 -9.718 -8.192 461.73 902.60)"/>
<circle r="1" fill="#8c8cdd" transform="matrix(6.516 -5.493 -10.196 -8.595 489.58 902.60)"/>
<path d="M489.58 902.3L489.58 900.3M489.58 902.3L491.48 901.68M489.58 902.3L490.75 903.92M489.58 902.3L488.4 903.92M489.58 902.3L487.67 901.68" stroke="#2a1616" stroke-width="1.05" stroke-linecap="round" fill="none"/>
<circle r="1" fill="#8181db" transform="matrix(6.287 -5.300 -10.338 -8.715 517.43 902.60)"/>
<path d="M515.3 902.3L515.3 900.3M515.3 902.3L517.2 901.68M515.3 902.3L516.48 903.92M515.3 902.3L514.12 903.92M515.3 902.3L513.4 901.68" stroke="#2a1616" stroke-width="1.05" stroke-linecap="round" fill="none"/>
<path d="M519.55 902.3L519.55 900.3M519.55 902.3L521.45 901.68M519.55 902.3L520.73 903.92M519.55 902.3L518.37 903.92M519.55 902.3L517.65 901.68" stroke="#2a1616" stroke-width="1.05" stroke-linecap="round" fill="none"/>
<circle r="1" fill="#ee8793" transform="matrix(10.267 -8.655 -6.403 -5.397 545.28 902.60)"/>
<path d="M543.15 902.3L543.15 900.3M543.15 902.3L545.05 901.68M543.15 902.3L544.33 903.92M543.15 902.3L541.97 903.92M543.15 902.3L541.25 901.68" stroke="#2a1616" stroke-width="1.05" stroke-linecap="round" fill="none"/>
<path d="M547.4 902.3L547.4 900.3M547.4 902.3L549.3 901.68M547.4 902.3L548.58 903.92M547.4 902.3L546.22 903.92M547.4 902.3L545.5 901.68" stroke="#2a1616" stroke-width="1.05" stroke-linecap="round" fill="none"/>
<circle r="1" fill="#f1a1ac" transform="matrix(9.904 -8.349 -6.951 -5.859 573.12 902.60)"/>
<path d="M573.12 902.3L573.12 900.3M573.12 902.3L575.03 901.68M573.12 902.3L574.3 903.92M573.12 902.3L571.95 903.92M573.12 902.3L571.22 901.68" stroke="#2a1616" stroke-width="1.05" stroke-linecap="round" fill="none"/>
<circle cx="600.98" cy="902.6" r="9.2" fill="#e8404a"/>
<text x="628.83" y="905.4" font-size="8.5" fill="#acacdd" stroke="#acacdd" stroke-width="0.25" text-anchor="middle" font-weight="bold" >-0.27</text>
<circle r="1" fill="#d8d8f3" transform="matrix(7.935 -6.689 -9.135 -7.701 406.03 926.72)"/>
<circle r="1" fill="#b4b4e8" transform="matrix(7.310 -6.162 -9.642 -8.128 433.88 926.72)"/>
<circle r="1" fill="#fadbe0" transform="matrix(9.095 -7.667 -7.980 -6.727 461.73 926.72)"/>
<circle r="1" fill="#f3aab3" transform="matrix(9.793 -8.255 -7.107 -5.991 489.58 926.72)"/>
<circle r="1" fill="#d5d5f2" transform="matrix(7.888 -6.650 -9.175 -7.735 517.43 926.72)"/>
<circle r="1" fill="#f5b7c0" transform="matrix(9.604 -8.096 -7.360 -6.204 545.28 926.72)"/>
<circle r="1" fill="#f2f2fb" transform="matrix(8.348 -7.037 -8.759 -7.384 573.12 926.72)"/>
<circle r="1" fill="#b4b4e8" transform="matrix(7.310 -6.162 -9.642 -8.128 600.98 926.72)"/>
<circle cx="628.83" cy="926.72" r="9.2" fill="#e8404a"/>
<rect x="392.1" y="721.7" width="250.65" height="217.08" fill="none" stroke="#3a3a3a" stroke-width="1.2"/>
<text x="387.1" y="736.66" font-size="8.5" font-weight="bold" fill="#111" text-anchor="end" stroke="#111" stroke-width="0.25">PL-VOCs</text>
<text x="387.1" y="760.78" font-size="8.5" font-weight="bold" fill="#111" text-anchor="end" stroke="#111" stroke-width="0.25">TSR</text>
<text x="387.1" y="784.9" font-size="8.5" font-weight="bold" fill="#111" text-anchor="end" stroke="#111" stroke-width="0.25">Temperature</text>
<text x="387.1" y="809.02" font-size="8.5" font-weight="bold" fill="#111" text-anchor="end" stroke="#111" stroke-width="0.25">RH</text>
<text x="387.1" y="833.14" font-size="8.5" font-weight="bold" fill="#111" text-anchor="end" stroke="#111" stroke-width="0.25">Pressure</text>
<text x="387.1" y="857.26" font-size="8.5" font-weight="bold" fill="#111" text-anchor="end" stroke="#111" stroke-width="0.25">PM<tspan dy="2" font-size="6.5">2.5</tspan></text>
<text x="387.1" y="881.38" font-size="8.5" font-weight="bold" fill="#111" text-anchor="end" stroke="#111" stroke-width="0.25">O<tspan dy="2" font-size="6.5">3</tspan></text>
<text x="387.1" y="905.5" font-size="8.5" font-weight="bold" fill="#111" text-anchor="end" stroke="#111" stroke-width="0.25">SO<tspan dy="2" font-size="6.5">2</tspan></text>
<text x="387.1" y="929.62" font-size="8.5" font-weight="bold" fill="#111" text-anchor="end" stroke="#111" stroke-width="0.25">NO<tspan dy="2" font-size="6.5">2</tspan></text>
<text transform="translate(410.23 950.18) rotate(-23)" font-size="9.3" font-weight="bold" fill="#111" text-anchor="end" stroke="#111" stroke-width="0.25">PL-VOCs</text>
<text transform="translate(438.48 950.58) rotate(-23)" font-size="9.3" font-weight="bold" fill="#111" text-anchor="end" stroke="#111" stroke-width="0.25">TSR</text>
<text transform="translate(466.83 950.18) rotate(-23)" font-size="9.3" font-weight="bold" fill="#111" text-anchor="end" stroke="#111" stroke-width="0.25">Temperature</text>
<text transform="translate(493.98 950.58) rotate(-23)" font-size="9.3" font-weight="bold" fill="#111" text-anchor="end" stroke="#111" stroke-width="0.25">RH</text>
<text transform="translate(521.43 950.18) rotate(-23)" font-size="9.3" font-weight="bold" fill="#111" text-anchor="end" stroke="#111" stroke-width="0.25">Pressure</text>
<text transform="translate(553.38 950.38) rotate(-23)" font-size="9.3" font-weight="bold" fill="#111" text-anchor="end" stroke="#111" stroke-width="0.25">PM<tspan dy="2" font-size="6.5">2.5</tspan></text>
<text transform="translate(580.62 950.08) rotate(-23)" font-size="9.3" font-weight="bold" fill="#111" text-anchor="end" stroke="#111" stroke-width="0.25">O<tspan dy="2" font-size="6.5">3</tspan></text>
<text transform="translate(608.48 950.08) rotate(-23)" font-size="9.3" font-weight="bold" fill="#111" text-anchor="end" stroke="#111" stroke-width="0.25">SO<tspan dy="2" font-size="6.5">2</tspan></text>
<text transform="translate(636.33 950.08) rotate(-23)" font-size="9.3" font-weight="bold" fill="#111" text-anchor="end" stroke="#111" stroke-width="0.25">NO<tspan dy="2" font-size="6.5">2</tspan></text>
<text x="343.7" y="712.6" font-size="14.7" font-weight="bold" fill="#111" stroke="#111" stroke-width="0.25">(h) Winter</text>
<text x="427" y="716" font-size="10.3" font-weight="bold" fill="#111" stroke="#111" stroke-width="0.25">* p≤0.05</text>
<text x="491.6" y="716" font-size="10.3" font-weight="bold" fill="#111" stroke="#111" stroke-width="0.25">** p≤0.01</text>
<text x="561.2" y="716" font-size="10.3" font-weight="bold" fill="#111" stroke="#111" stroke-width="0.25">*** p≤0.001</text>
<defs><linearGradient id="cg392" x1="0" y1="0" x2="0" y2="1"><stop offset="0" stop-color="#f81515"/><stop offset="0.5" stop-color="#ffffff"/><stop offset="1" stop-color="#0a0ac8"/></linearGradient></defs>
<rect x="646.3" y="721.7" width="11.6" height="217.08" fill="url(#cg392)" stroke="#333" stroke-width="0.9"/>
<line x1="657.9" y1="721.7" x2="660.4" y2="721.7" stroke="#333" stroke-width="1" />
<text x="665.1" y="724.21" font-size="7.6" fill="#111" stroke="#111" stroke-width="0.25" text-anchor="start" font-weight="bold" >1.0</text>
<line x1="657.9" y1="743.41" x2="660.4" y2="743.41" stroke="#333" stroke-width="1" />
<text x="665.1" y="745.92" font-size="7.6" fill="#111" stroke="#111" stroke-width="0.25" text-anchor="start" font-weight="bold" >0.80</text>
<line x1="657.9" y1="765.12" x2="660.4" y2="765.12" stroke="#333" stroke-width="1" />
<text x="665.1" y="767.62" font-size="7.6" fill="#111" stroke="#111" stroke-width="0.25" text-anchor="start" font-weight="bold" >0.60</text>
<line x1="657.9" y1="786.82" x2="660.4" y2="786.82" stroke="#333" stroke-width="1" />
<text x="665.1" y="789.33" font-size="7.6" fill="#111" stroke="#111" stroke-width="0.25" text-anchor="start" font-weight="bold" >0.40</text>
<line x1="657.9" y1="808.53" x2="660.4" y2="808.53" stroke="#333" stroke-width="1" />
<text x="665.1" y="811.04" font-size="7.6" fill="#111" stroke="#111" stroke-width="0.25" text-anchor="start" font-weight="bold" >0.20</text>
<line x1="657.9" y1="830.24" x2="660.4" y2="830.24" stroke="#333" stroke-width="1" />
<text x="665.1" y="832.75" font-size="7.6" fill="#111" stroke="#111" stroke-width="0.25" text-anchor="start" font-weight="bold" >0.0</text>
<line x1="657.9" y1="851.95" x2="660.4" y2="851.95" stroke="#333" stroke-width="1" />
<text x="665.1" y="854.46" font-size="7.6" fill="#111" stroke="#111" stroke-width="0.25" text-anchor="start" font-weight="bold" >-0.20</text>
<line x1="657.9" y1="873.66" x2="660.4" y2="873.66" stroke="#333" stroke-width="1" />
<text x="665.1" y="876.16" font-size="7.6" fill="#111" stroke="#111" stroke-width="0.25" text-anchor="start" font-weight="bold" >-0.40</text>
<line x1="657.9" y1="895.36" x2="660.4" y2="895.36" stroke="#333" stroke-width="1" />
<text x="665.1" y="897.87" font-size="7.6" fill="#111" stroke="#111" stroke-width="0.25" text-anchor="start" font-weight="bold" >-0.60</text>
<line x1="657.9" y1="917.07" x2="660.4" y2="917.07" stroke="#333" stroke-width="1" />
<text x="665.1" y="919.58" font-size="7.6" fill="#111" stroke="#111" stroke-width="0.25" text-anchor="start" font-weight="bold" >-0.80</text>
<line x1="657.9" y1="938.78" x2="660.4" y2="938.78" stroke="#333" stroke-width="1" />
<text x="665.1" y="941.29" font-size="7.6" fill="#111" stroke="#111" stroke-width="0.25" text-anchor="start" font-weight="bold" >-1.0</text>
</svg></body></html>
